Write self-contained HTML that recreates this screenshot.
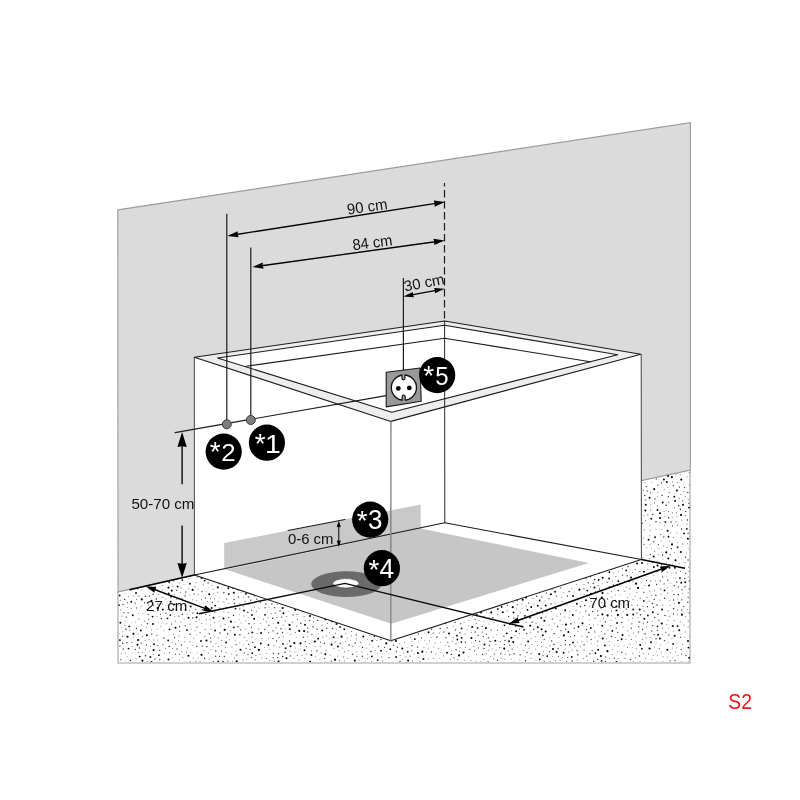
<!DOCTYPE html>
<html lang="en"><head><meta charset="utf-8"><title>S2</title>
<style>html,body{margin:0;padding:0;background:#fff}body{width:800px;height:800px;overflow:hidden}svg{display:block;will-change:transform}</style>
</head><body>
<svg width="800" height="800" viewBox="0 0 800 800" font-family="'Liberation Sans', sans-serif">
<rect width="800" height="800" fill="#fff"/>
<polygon points="118.00,591.90 194.40,575.00 641.40,480.50 690.00,470.00 690.00,663.00 118.00,663.00" fill="#fff" stroke="#a2a2a2" stroke-width="1.1"/>
<clipPath id="fc"><polygon points="118.50,560.00 690.00,440.00 690.00,662.00 118.50,662.00"/></clipPath>
<g clip-path="url(#fc)"><circle cx="424.7" cy="537.2" r="1.00" fill="rgb(0,0,0)"/><circle cx="256.3" cy="573.8" r="1.01" fill="rgb(0,0,0)"/><circle cx="478.8" cy="580.1" r="1.02" fill="rgb(0,0,0)"/><circle cx="676.0" cy="474.2" r="0.51" fill="rgb(90,90,90)"/><circle cx="427.5" cy="577.7" r="0.55" fill="rgb(90,90,90)"/><circle cx="450.8" cy="591.1" r="0.70" fill="rgb(40,40,40)"/><circle cx="441.0" cy="587.2" r="0.69" fill="rgb(60,60,60)"/><circle cx="384.6" cy="647.3" r="0.65" fill="rgb(40,40,40)"/><circle cx="517.8" cy="513.2" r="0.53" fill="rgb(105,105,105)"/><circle cx="535.1" cy="521.8" r="0.49" fill="rgb(105,105,105)"/><circle cx="651.4" cy="548.2" r="0.49" fill="rgb(120,120,120)"/><circle cx="445.9" cy="637.8" r="0.72" fill="rgb(80,80,80)"/><circle cx="402.4" cy="622.3" r="0.92" fill="rgb(10,10,10)"/><circle cx="389.5" cy="596.1" r="1.04" fill="rgb(20,20,20)"/><circle cx="448.7" cy="599.5" r="0.72" fill="rgb(80,80,80)"/><circle cx="317.0" cy="650.7" r="0.71" fill="rgb(60,60,60)"/><circle cx="152.6" cy="616.6" r="0.95" fill="rgb(10,10,10)"/><circle cx="642.0" cy="563.0" r="0.98" fill="rgb(10,10,10)"/><circle cx="623.0" cy="626.7" r="0.51" fill="rgb(105,105,105)"/><circle cx="681.8" cy="599.8" r="0.65" fill="rgb(40,40,40)"/><circle cx="329.7" cy="576.8" r="0.55" fill="rgb(120,120,120)"/><circle cx="661.1" cy="594.3" r="0.53" fill="rgb(120,120,120)"/><circle cx="574.2" cy="542.5" r="0.63" fill="rgb(80,80,80)"/><circle cx="680.8" cy="552.0" r="1.02" fill="rgb(0,0,0)"/><circle cx="133.5" cy="637.6" r="0.49" fill="rgb(105,105,105)"/><circle cx="664.1" cy="583.9" r="0.64" fill="rgb(60,60,60)"/><circle cx="685.6" cy="557.0" r="0.63" fill="rgb(40,40,40)"/><circle cx="546.7" cy="611.1" r="0.72" fill="rgb(80,80,80)"/><circle cx="132.2" cy="652.7" r="0.49" fill="rgb(120,120,120)"/><circle cx="640.5" cy="614.7" r="0.71" fill="rgb(40,40,40)"/><circle cx="559.4" cy="570.1" r="0.51" fill="rgb(90,90,90)"/><circle cx="468.8" cy="620.6" r="0.50" fill="rgb(90,90,90)"/><circle cx="585.9" cy="611.1" r="0.69" fill="rgb(60,60,60)"/><circle cx="536.0" cy="660.3" r="0.53" fill="rgb(90,90,90)"/><circle cx="514.1" cy="653.8" r="0.75" fill="rgb(60,60,60)"/><circle cx="663.8" cy="537.0" r="0.65" fill="rgb(40,40,40)"/><circle cx="311.7" cy="560.3" r="0.54" fill="rgb(90,90,90)"/><circle cx="495.9" cy="644.6" r="0.56" fill="rgb(105,105,105)"/><circle cx="626.2" cy="550.7" r="0.49" fill="rgb(120,120,120)"/><circle cx="344.8" cy="544.2" r="0.55" fill="rgb(90,90,90)"/><circle cx="456.1" cy="556.9" r="0.54" fill="rgb(120,120,120)"/><circle cx="678.3" cy="594.7" r="0.70" fill="rgb(40,40,40)"/><circle cx="131.2" cy="622.8" r="0.49" fill="rgb(120,120,120)"/><circle cx="616.3" cy="628.1" r="0.66" fill="rgb(60,60,60)"/><circle cx="404.9" cy="615.8" r="0.70" fill="rgb(40,40,40)"/><circle cx="153.7" cy="611.1" r="0.55" fill="rgb(120,120,120)"/><circle cx="359.0" cy="646.2" r="0.53" fill="rgb(120,120,120)"/><circle cx="410.3" cy="637.3" r="0.54" fill="rgb(90,90,90)"/><circle cx="532.7" cy="574.8" r="0.69" fill="rgb(80,80,80)"/><circle cx="394.3" cy="618.3" r="0.49" fill="rgb(90,90,90)"/><circle cx="277.0" cy="617.4" r="0.54" fill="rgb(90,90,90)"/><circle cx="371.9" cy="585.9" r="0.53" fill="rgb(120,120,120)"/><circle cx="277.1" cy="565.3" r="0.53" fill="rgb(90,90,90)"/><circle cx="517.9" cy="638.0" r="0.51" fill="rgb(120,120,120)"/><circle cx="628.3" cy="505.0" r="0.68" fill="rgb(60,60,60)"/><circle cx="500.9" cy="619.7" r="0.50" fill="rgb(120,120,120)"/><circle cx="486.1" cy="537.3" r="0.64" fill="rgb(60,60,60)"/><circle cx="244.3" cy="653.0" r="0.69" fill="rgb(80,80,80)"/><circle cx="593.9" cy="496.9" r="0.69" fill="rgb(60,60,60)"/><circle cx="311.8" cy="555.5" r="0.52" fill="rgb(120,120,120)"/><circle cx="475.0" cy="566.1" r="1.10" fill="rgb(0,0,0)"/><circle cx="673.4" cy="485.7" r="0.63" fill="rgb(40,40,40)"/><circle cx="586.2" cy="516.0" r="1.08" fill="rgb(20,20,20)"/><circle cx="278.2" cy="622.8" r="1.08" fill="rgb(10,10,10)"/><circle cx="654.3" cy="590.2" r="0.49" fill="rgb(90,90,90)"/><circle cx="157.0" cy="635.3" r="0.67" fill="rgb(80,80,80)"/><circle cx="523.8" cy="650.2" r="0.51" fill="rgb(90,90,90)"/><circle cx="293.0" cy="614.9" r="0.69" fill="rgb(40,40,40)"/><circle cx="273.3" cy="623.6" r="0.48" fill="rgb(90,90,90)"/><circle cx="537.2" cy="573.8" r="0.99" fill="rgb(10,10,10)"/><circle cx="179.6" cy="626.7" r="0.69" fill="rgb(60,60,60)"/><circle cx="672.6" cy="525.8" r="0.65" fill="rgb(40,40,40)"/><circle cx="593.8" cy="604.5" r="0.52" fill="rgb(105,105,105)"/><circle cx="679.2" cy="630.2" r="1.03" fill="rgb(10,10,10)"/><circle cx="498.5" cy="540.2" r="0.58" fill="rgb(120,120,120)"/><circle cx="667.7" cy="657.0" r="0.50" fill="rgb(105,105,105)"/><circle cx="278.1" cy="594.5" r="0.73" fill="rgb(40,40,40)"/><circle cx="251.8" cy="580.6" r="0.56" fill="rgb(120,120,120)"/><circle cx="628.3" cy="619.8" r="0.56" fill="rgb(120,120,120)"/><circle cx="680.8" cy="494.5" r="0.54" fill="rgb(90,90,90)"/><circle cx="589.6" cy="606.1" r="0.52" fill="rgb(120,120,120)"/><circle cx="417.8" cy="564.6" r="0.56" fill="rgb(120,120,120)"/><circle cx="452.2" cy="641.2" r="0.55" fill="rgb(90,90,90)"/><circle cx="482.5" cy="654.4" r="0.68" fill="rgb(40,40,40)"/><circle cx="477.1" cy="588.6" r="0.53" fill="rgb(90,90,90)"/><circle cx="651.0" cy="642.2" r="1.01" fill="rgb(20,20,20)"/><circle cx="539.3" cy="514.8" r="0.95" fill="rgb(20,20,20)"/><circle cx="550.5" cy="510.5" r="0.53" fill="rgb(105,105,105)"/><circle cx="162.8" cy="644.7" r="0.63" fill="rgb(80,80,80)"/><circle cx="543.0" cy="525.1" r="0.48" fill="rgb(90,90,90)"/><circle cx="396.1" cy="657.0" r="0.94" fill="rgb(10,10,10)"/><circle cx="284.9" cy="567.0" r="0.69" fill="rgb(40,40,40)"/><circle cx="685.7" cy="573.4" r="0.63" fill="rgb(60,60,60)"/><circle cx="586.8" cy="656.1" r="0.66" fill="rgb(40,40,40)"/><circle cx="641.9" cy="648.7" r="0.92" fill="rgb(20,20,20)"/><circle cx="418.0" cy="653.1" r="1.06" fill="rgb(20,20,20)"/><circle cx="327.3" cy="563.3" r="0.52" fill="rgb(90,90,90)"/><circle cx="299.3" cy="630.9" r="1.05" fill="rgb(10,10,10)"/><circle cx="187.5" cy="647.9" r="0.57" fill="rgb(105,105,105)"/><circle cx="341.6" cy="636.7" r="1.09" fill="rgb(10,10,10)"/><circle cx="606.4" cy="520.4" r="1.03" fill="rgb(20,20,20)"/><circle cx="652.8" cy="514.2" r="0.69" fill="rgb(40,40,40)"/><circle cx="560.1" cy="620.0" r="0.62" fill="rgb(80,80,80)"/><circle cx="347.2" cy="637.9" r="0.50" fill="rgb(90,90,90)"/><circle cx="147.2" cy="609.6" r="0.73" fill="rgb(80,80,80)"/><circle cx="615.0" cy="560.9" r="0.54" fill="rgb(90,90,90)"/><circle cx="288.9" cy="610.9" r="0.51" fill="rgb(120,120,120)"/><circle cx="433.0" cy="554.4" r="0.73" fill="rgb(60,60,60)"/><circle cx="266.4" cy="577.4" r="0.55" fill="rgb(105,105,105)"/><circle cx="337.4" cy="612.2" r="0.66" fill="rgb(40,40,40)"/><circle cx="403.2" cy="578.4" r="0.72" fill="rgb(80,80,80)"/><circle cx="478.2" cy="635.3" r="0.66" fill="rgb(40,40,40)"/><circle cx="338.4" cy="592.5" r="0.66" fill="rgb(40,40,40)"/><circle cx="554.7" cy="623.8" r="0.53" fill="rgb(90,90,90)"/><circle cx="342.4" cy="648.0" r="0.57" fill="rgb(105,105,105)"/><circle cx="508.1" cy="650.9" r="0.54" fill="rgb(105,105,105)"/><circle cx="167.5" cy="618.4" r="0.93" fill="rgb(20,20,20)"/><circle cx="643.8" cy="592.4" r="0.64" fill="rgb(60,60,60)"/><circle cx="420.4" cy="551.3" r="0.49" fill="rgb(105,105,105)"/><circle cx="418.2" cy="580.1" r="0.65" fill="rgb(80,80,80)"/><circle cx="687.4" cy="520.0" r="0.74" fill="rgb(40,40,40)"/><circle cx="259.9" cy="654.6" r="0.51" fill="rgb(90,90,90)"/><circle cx="229.7" cy="639.7" r="0.49" fill="rgb(90,90,90)"/><circle cx="499.7" cy="647.6" r="0.62" fill="rgb(60,60,60)"/><circle cx="528.8" cy="536.5" r="0.62" fill="rgb(60,60,60)"/><circle cx="540.7" cy="564.7" r="0.76" fill="rgb(60,60,60)"/><circle cx="555.9" cy="503.3" r="0.66" fill="rgb(60,60,60)"/><circle cx="181.2" cy="588.1" r="0.57" fill="rgb(105,105,105)"/><circle cx="356.9" cy="596.3" r="0.49" fill="rgb(105,105,105)"/><circle cx="459.1" cy="547.0" r="0.50" fill="rgb(105,105,105)"/><circle cx="631.4" cy="639.4" r="0.58" fill="rgb(90,90,90)"/><circle cx="652.9" cy="612.3" r="1.03" fill="rgb(10,10,10)"/><circle cx="597.7" cy="659.4" r="0.64" fill="rgb(40,40,40)"/><circle cx="664.1" cy="489.4" r="0.50" fill="rgb(105,105,105)"/><circle cx="557.6" cy="525.9" r="0.49" fill="rgb(120,120,120)"/><circle cx="389.1" cy="538.6" r="0.50" fill="rgb(105,105,105)"/><circle cx="539.6" cy="558.7" r="0.50" fill="rgb(120,120,120)"/><circle cx="643.9" cy="515.7" r="0.57" fill="rgb(105,105,105)"/><circle cx="544.8" cy="601.1" r="0.51" fill="rgb(120,120,120)"/><circle cx="550.1" cy="645.9" r="0.57" fill="rgb(90,90,90)"/><circle cx="527.2" cy="556.9" r="0.56" fill="rgb(105,105,105)"/><circle cx="650.2" cy="524.9" r="0.50" fill="rgb(90,90,90)"/><circle cx="325.4" cy="619.4" r="0.94" fill="rgb(0,0,0)"/><circle cx="304.8" cy="658.5" r="0.58" fill="rgb(105,105,105)"/><circle cx="359.2" cy="660.1" r="0.50" fill="rgb(90,90,90)"/><circle cx="356.8" cy="587.4" r="0.55" fill="rgb(120,120,120)"/><circle cx="552.3" cy="618.9" r="0.66" fill="rgb(60,60,60)"/><circle cx="331.8" cy="610.7" r="0.95" fill="rgb(0,0,0)"/><circle cx="636.8" cy="502.2" r="0.95" fill="rgb(0,0,0)"/><circle cx="580.2" cy="594.0" r="0.49" fill="rgb(105,105,105)"/><circle cx="622.7" cy="510.6" r="0.67" fill="rgb(60,60,60)"/><circle cx="461.6" cy="628.4" r="0.92" fill="rgb(20,20,20)"/><circle cx="613.1" cy="553.7" r="0.73" fill="rgb(40,40,40)"/><circle cx="179.3" cy="582.7" r="0.50" fill="rgb(105,105,105)"/><circle cx="689.4" cy="472.5" r="0.57" fill="rgb(90,90,90)"/><circle cx="586.1" cy="545.7" r="0.71" fill="rgb(40,40,40)"/><circle cx="235.0" cy="622.0" r="0.49" fill="rgb(90,90,90)"/><circle cx="573.0" cy="596.1" r="1.01" fill="rgb(20,20,20)"/><circle cx="212.4" cy="602.3" r="0.66" fill="rgb(60,60,60)"/><circle cx="544.2" cy="639.4" r="0.62" fill="rgb(60,60,60)"/><circle cx="486.7" cy="542.1" r="0.75" fill="rgb(60,60,60)"/><circle cx="633.4" cy="548.6" r="0.52" fill="rgb(105,105,105)"/><circle cx="484.5" cy="644.6" r="1.02" fill="rgb(10,10,10)"/><circle cx="570.9" cy="623.8" r="0.74" fill="rgb(40,40,40)"/><circle cx="675.5" cy="560.3" r="1.09" fill="rgb(10,10,10)"/><circle cx="168.2" cy="605.6" r="0.57" fill="rgb(120,120,120)"/><circle cx="567.3" cy="508.8" r="0.74" fill="rgb(60,60,60)"/><circle cx="347.1" cy="567.2" r="0.64" fill="rgb(40,40,40)"/><circle cx="672.8" cy="626.0" r="1.08" fill="rgb(20,20,20)"/><circle cx="140.8" cy="630.5" r="1.02" fill="rgb(20,20,20)"/><circle cx="603.4" cy="618.6" r="0.51" fill="rgb(90,90,90)"/><circle cx="361.9" cy="595.1" r="0.68" fill="rgb(40,40,40)"/><circle cx="121.0" cy="659.7" r="0.68" fill="rgb(80,80,80)"/><circle cx="564.0" cy="555.5" r="0.99" fill="rgb(0,0,0)"/><circle cx="327.4" cy="623.4" r="0.55" fill="rgb(90,90,90)"/><circle cx="537.5" cy="618.5" r="0.49" fill="rgb(120,120,120)"/><circle cx="629.5" cy="593.9" r="0.48" fill="rgb(90,90,90)"/><circle cx="687.3" cy="609.5" r="0.50" fill="rgb(105,105,105)"/><circle cx="283.2" cy="625.1" r="0.55" fill="rgb(120,120,120)"/><circle cx="319.2" cy="614.3" r="1.08" fill="rgb(10,10,10)"/><circle cx="635.3" cy="555.1" r="0.76" fill="rgb(60,60,60)"/><circle cx="211.0" cy="649.8" r="0.57" fill="rgb(90,90,90)"/><circle cx="570.9" cy="517.2" r="0.48" fill="rgb(105,105,105)"/><circle cx="670.2" cy="554.4" r="0.55" fill="rgb(90,90,90)"/><circle cx="262.8" cy="570.7" r="0.55" fill="rgb(105,105,105)"/><circle cx="270.0" cy="660.5" r="0.52" fill="rgb(90,90,90)"/><circle cx="483.7" cy="659.3" r="0.55" fill="rgb(105,105,105)"/><circle cx="537.2" cy="612.5" r="0.66" fill="rgb(80,80,80)"/><circle cx="365.6" cy="566.2" r="0.49" fill="rgb(90,90,90)"/><circle cx="292.3" cy="568.3" r="0.52" fill="rgb(105,105,105)"/><circle cx="475.0" cy="558.7" r="1.09" fill="rgb(0,0,0)"/><circle cx="522.6" cy="554.0" r="0.93" fill="rgb(20,20,20)"/><circle cx="565.2" cy="544.3" r="0.62" fill="rgb(80,80,80)"/><circle cx="587.3" cy="641.2" r="0.54" fill="rgb(120,120,120)"/><circle cx="260.8" cy="643.4" r="1.01" fill="rgb(10,10,10)"/><circle cx="639.1" cy="485.7" r="0.55" fill="rgb(90,90,90)"/><circle cx="465.9" cy="565.1" r="0.56" fill="rgb(90,90,90)"/><circle cx="476.1" cy="661.2" r="0.53" fill="rgb(120,120,120)"/><circle cx="122.6" cy="631.7" r="0.53" fill="rgb(120,120,120)"/><circle cx="627.5" cy="647.6" r="0.51" fill="rgb(90,90,90)"/><circle cx="270.7" cy="574.3" r="0.73" fill="rgb(80,80,80)"/><circle cx="215.9" cy="643.6" r="0.50" fill="rgb(90,90,90)"/><circle cx="544.7" cy="529.5" r="0.51" fill="rgb(90,90,90)"/><circle cx="335.5" cy="633.2" r="0.58" fill="rgb(120,120,120)"/><circle cx="386.8" cy="630.8" r="0.57" fill="rgb(105,105,105)"/><circle cx="664.2" cy="511.2" r="0.56" fill="rgb(105,105,105)"/><circle cx="638.6" cy="493.5" r="0.92" fill="rgb(0,0,0)"/><circle cx="514.1" cy="590.1" r="0.55" fill="rgb(90,90,90)"/><circle cx="607.6" cy="615.4" r="1.09" fill="rgb(20,20,20)"/><circle cx="614.1" cy="645.5" r="0.49" fill="rgb(90,90,90)"/><circle cx="660.5" cy="644.9" r="0.49" fill="rgb(120,120,120)"/><circle cx="479.7" cy="559.2" r="1.06" fill="rgb(20,20,20)"/><circle cx="302.0" cy="655.3" r="0.57" fill="rgb(120,120,120)"/><circle cx="544.4" cy="620.8" r="1.00" fill="rgb(0,0,0)"/><circle cx="316.8" cy="604.1" r="0.50" fill="rgb(90,90,90)"/><circle cx="283.5" cy="613.2" r="0.97" fill="rgb(0,0,0)"/><circle cx="317.1" cy="629.2" r="0.75" fill="rgb(60,60,60)"/><circle cx="584.1" cy="650.2" r="0.64" fill="rgb(80,80,80)"/><circle cx="556.5" cy="561.8" r="0.54" fill="rgb(90,90,90)"/><circle cx="477.2" cy="535.2" r="0.68" fill="rgb(80,80,80)"/><circle cx="168.2" cy="640.4" r="0.94" fill="rgb(10,10,10)"/><circle cx="363.2" cy="572.6" r="1.10" fill="rgb(20,20,20)"/><circle cx="422.2" cy="613.9" r="0.54" fill="rgb(105,105,105)"/><circle cx="450.8" cy="568.0" r="0.53" fill="rgb(120,120,120)"/><circle cx="369.3" cy="617.7" r="0.49" fill="rgb(105,105,105)"/><circle cx="485.7" cy="602.5" r="0.51" fill="rgb(120,120,120)"/><circle cx="590.5" cy="586.9" r="0.58" fill="rgb(120,120,120)"/><circle cx="305.3" cy="568.1" r="0.97" fill="rgb(0,0,0)"/><circle cx="266.6" cy="653.5" r="0.50" fill="rgb(120,120,120)"/><circle cx="680.3" cy="621.9" r="0.52" fill="rgb(90,90,90)"/><circle cx="181.3" cy="644.9" r="0.74" fill="rgb(60,60,60)"/><circle cx="570.3" cy="601.9" r="0.54" fill="rgb(105,105,105)"/><circle cx="257.2" cy="633.4" r="0.54" fill="rgb(120,120,120)"/><circle cx="531.0" cy="638.7" r="0.55" fill="rgb(90,90,90)"/><circle cx="506.7" cy="591.6" r="0.66" fill="rgb(80,80,80)"/><circle cx="603.6" cy="560.3" r="1.07" fill="rgb(20,20,20)"/><circle cx="504.2" cy="648.6" r="1.03" fill="rgb(0,0,0)"/><circle cx="340.8" cy="561.7" r="0.48" fill="rgb(120,120,120)"/><circle cx="243.3" cy="606.4" r="0.50" fill="rgb(105,105,105)"/><circle cx="427.7" cy="606.6" r="0.54" fill="rgb(105,105,105)"/><circle cx="416.6" cy="546.0" r="0.50" fill="rgb(120,120,120)"/><circle cx="469.3" cy="590.9" r="0.67" fill="rgb(40,40,40)"/><circle cx="358.9" cy="602.8" r="0.66" fill="rgb(40,40,40)"/><circle cx="663.0" cy="656.8" r="0.58" fill="rgb(105,105,105)"/><circle cx="562.1" cy="624.8" r="0.53" fill="rgb(120,120,120)"/><circle cx="530.2" cy="625.8" r="1.03" fill="rgb(10,10,10)"/><circle cx="594.7" cy="535.0" r="0.51" fill="rgb(105,105,105)"/><circle cx="511.2" cy="659.0" r="0.53" fill="rgb(120,120,120)"/><circle cx="574.8" cy="535.7" r="0.51" fill="rgb(105,105,105)"/><circle cx="363.5" cy="590.8" r="0.52" fill="rgb(105,105,105)"/><circle cx="591.3" cy="643.8" r="0.49" fill="rgb(105,105,105)"/><circle cx="125.5" cy="652.9" r="0.51" fill="rgb(90,90,90)"/><circle cx="449.0" cy="633.6" r="0.99" fill="rgb(0,0,0)"/><circle cx="423.9" cy="585.3" r="0.58" fill="rgb(90,90,90)"/><circle cx="500.4" cy="641.5" r="0.56" fill="rgb(90,90,90)"/><circle cx="163.8" cy="630.7" r="0.49" fill="rgb(90,90,90)"/><circle cx="403.2" cy="571.5" r="0.48" fill="rgb(105,105,105)"/><circle cx="386.0" cy="576.1" r="0.56" fill="rgb(105,105,105)"/><circle cx="324.6" cy="592.6" r="0.91" fill="rgb(20,20,20)"/><circle cx="650.4" cy="530.2" r="0.53" fill="rgb(105,105,105)"/><circle cx="495.0" cy="532.4" r="0.54" fill="rgb(90,90,90)"/><circle cx="680.5" cy="637.3" r="0.65" fill="rgb(60,60,60)"/><circle cx="570.8" cy="530.3" r="0.66" fill="rgb(80,80,80)"/><circle cx="687.5" cy="543.7" r="0.52" fill="rgb(120,120,120)"/><circle cx="644.7" cy="585.2" r="0.56" fill="rgb(120,120,120)"/><circle cx="468.0" cy="586.7" r="0.55" fill="rgb(120,120,120)"/><circle cx="141.5" cy="590.1" r="0.50" fill="rgb(120,120,120)"/><circle cx="560.9" cy="645.4" r="0.52" fill="rgb(90,90,90)"/><circle cx="567.7" cy="576.0" r="0.66" fill="rgb(60,60,60)"/><circle cx="442.1" cy="579.2" r="0.53" fill="rgb(120,120,120)"/><circle cx="581.3" cy="578.6" r="0.52" fill="rgb(90,90,90)"/><circle cx="506.9" cy="582.2" r="0.55" fill="rgb(90,90,90)"/><circle cx="390.2" cy="546.4" r="1.03" fill="rgb(0,0,0)"/><circle cx="630.0" cy="588.7" r="0.62" fill="rgb(80,80,80)"/><circle cx="188.4" cy="655.8" r="1.07" fill="rgb(0,0,0)"/><circle cx="443.6" cy="554.0" r="0.57" fill="rgb(105,105,105)"/><circle cx="560.6" cy="605.9" r="0.55" fill="rgb(90,90,90)"/><circle cx="286.2" cy="575.0" r="0.71" fill="rgb(60,60,60)"/><circle cx="622.9" cy="600.5" r="0.52" fill="rgb(105,105,105)"/><circle cx="610.2" cy="561.0" r="0.97" fill="rgb(20,20,20)"/><circle cx="534.2" cy="557.7" r="1.09" fill="rgb(0,0,0)"/><circle cx="478.2" cy="547.5" r="0.73" fill="rgb(60,60,60)"/><circle cx="674.6" cy="603.8" r="0.51" fill="rgb(120,120,120)"/><circle cx="205.2" cy="629.4" r="0.58" fill="rgb(90,90,90)"/><circle cx="333.9" cy="600.2" r="0.57" fill="rgb(105,105,105)"/><circle cx="453.7" cy="626.1" r="0.48" fill="rgb(90,90,90)"/><circle cx="582.1" cy="636.2" r="0.51" fill="rgb(120,120,120)"/><circle cx="509.6" cy="645.4" r="0.63" fill="rgb(80,80,80)"/><circle cx="395.6" cy="540.4" r="0.55" fill="rgb(90,90,90)"/><circle cx="344.6" cy="604.8" r="0.54" fill="rgb(90,90,90)"/><circle cx="570.6" cy="555.7" r="1.06" fill="rgb(0,0,0)"/><circle cx="416.7" cy="559.1" r="0.50" fill="rgb(90,90,90)"/><circle cx="171.6" cy="624.1" r="0.70" fill="rgb(60,60,60)"/><circle cx="687.9" cy="538.8" r="1.03" fill="rgb(0,0,0)"/><circle cx="208.1" cy="582.9" r="0.69" fill="rgb(40,40,40)"/><circle cx="615.8" cy="576.6" r="0.50" fill="rgb(105,105,105)"/><circle cx="362.0" cy="651.8" r="0.56" fill="rgb(90,90,90)"/><circle cx="437.0" cy="636.9" r="0.75" fill="rgb(40,40,40)"/><circle cx="611.3" cy="591.3" r="0.55" fill="rgb(90,90,90)"/><circle cx="670.0" cy="660.8" r="0.63" fill="rgb(60,60,60)"/><circle cx="411.9" cy="611.0" r="0.53" fill="rgb(90,90,90)"/><circle cx="201.6" cy="614.0" r="0.55" fill="rgb(105,105,105)"/><circle cx="455.5" cy="552.1" r="0.53" fill="rgb(105,105,105)"/><circle cx="139.5" cy="648.1" r="0.75" fill="rgb(60,60,60)"/><circle cx="626.0" cy="492.6" r="0.63" fill="rgb(60,60,60)"/><circle cx="599.5" cy="589.0" r="0.67" fill="rgb(40,40,40)"/><circle cx="391.4" cy="589.0" r="0.94" fill="rgb(0,0,0)"/><circle cx="444.7" cy="523.5" r="0.51" fill="rgb(90,90,90)"/><circle cx="300.5" cy="643.3" r="1.10" fill="rgb(0,0,0)"/><circle cx="479.0" cy="620.5" r="0.54" fill="rgb(105,105,105)"/><circle cx="187.0" cy="614.0" r="0.52" fill="rgb(105,105,105)"/><circle cx="688.4" cy="647.6" r="0.96" fill="rgb(0,0,0)"/><circle cx="286.5" cy="658.2" r="1.06" fill="rgb(10,10,10)"/><circle cx="410.4" cy="552.4" r="0.57" fill="rgb(105,105,105)"/><circle cx="639.3" cy="508.1" r="0.49" fill="rgb(90,90,90)"/><circle cx="219.2" cy="583.6" r="0.57" fill="rgb(120,120,120)"/><circle cx="236.5" cy="585.9" r="0.56" fill="rgb(120,120,120)"/><circle cx="513.9" cy="567.6" r="0.57" fill="rgb(120,120,120)"/><circle cx="581.5" cy="531.2" r="0.57" fill="rgb(105,105,105)"/><circle cx="498.7" cy="514.0" r="0.58" fill="rgb(90,90,90)"/><circle cx="415.6" cy="553.0" r="0.49" fill="rgb(120,120,120)"/><circle cx="258.6" cy="628.9" r="0.56" fill="rgb(105,105,105)"/><circle cx="447.8" cy="642.3" r="0.64" fill="rgb(80,80,80)"/><circle cx="401.3" cy="566.3" r="0.53" fill="rgb(90,90,90)"/><circle cx="296.9" cy="574.6" r="0.48" fill="rgb(120,120,120)"/><circle cx="453.3" cy="615.3" r="0.92" fill="rgb(0,0,0)"/><circle cx="248.5" cy="597.0" r="0.68" fill="rgb(40,40,40)"/><circle cx="653.9" cy="541.7" r="0.74" fill="rgb(80,80,80)"/><circle cx="139.7" cy="656.6" r="0.97" fill="rgb(10,10,10)"/><circle cx="367.5" cy="658.7" r="0.57" fill="rgb(105,105,105)"/><circle cx="414.2" cy="654.1" r="0.50" fill="rgb(105,105,105)"/><circle cx="359.0" cy="543.4" r="0.53" fill="rgb(90,90,90)"/><circle cx="485.0" cy="517.5" r="0.51" fill="rgb(120,120,120)"/><circle cx="153.4" cy="654.3" r="0.57" fill="rgb(90,90,90)"/><circle cx="385.1" cy="570.4" r="0.92" fill="rgb(0,0,0)"/><circle cx="624.0" cy="645.7" r="0.51" fill="rgb(120,120,120)"/><circle cx="598.1" cy="585.4" r="0.55" fill="rgb(90,90,90)"/><circle cx="432.0" cy="537.4" r="0.51" fill="rgb(105,105,105)"/><circle cx="411.4" cy="540.6" r="0.48" fill="rgb(105,105,105)"/><circle cx="273.0" cy="638.4" r="0.63" fill="rgb(40,40,40)"/><circle cx="370.0" cy="610.2" r="0.95" fill="rgb(20,20,20)"/><circle cx="504.3" cy="586.7" r="0.56" fill="rgb(120,120,120)"/><circle cx="173.2" cy="634.0" r="0.58" fill="rgb(105,105,105)"/><circle cx="566.8" cy="604.9" r="0.49" fill="rgb(90,90,90)"/><circle cx="121.5" cy="616.1" r="0.53" fill="rgb(120,120,120)"/><circle cx="278.3" cy="587.7" r="1.07" fill="rgb(20,20,20)"/><circle cx="380.2" cy="607.7" r="0.67" fill="rgb(80,80,80)"/><circle cx="458.7" cy="593.0" r="1.05" fill="rgb(10,10,10)"/><circle cx="425.3" cy="623.5" r="0.67" fill="rgb(40,40,40)"/><circle cx="169.2" cy="646.6" r="0.74" fill="rgb(40,40,40)"/><circle cx="666.0" cy="505.3" r="0.75" fill="rgb(40,40,40)"/><circle cx="630.1" cy="524.2" r="0.51" fill="rgb(120,120,120)"/><circle cx="688.5" cy="567.1" r="0.55" fill="rgb(105,105,105)"/><circle cx="504.8" cy="554.4" r="0.91" fill="rgb(0,0,0)"/><circle cx="347.7" cy="575.8" r="0.57" fill="rgb(105,105,105)"/><circle cx="396.7" cy="551.9" r="0.58" fill="rgb(105,105,105)"/><circle cx="513.5" cy="612.4" r="0.97" fill="rgb(10,10,10)"/><circle cx="629.3" cy="601.2" r="0.58" fill="rgb(105,105,105)"/><circle cx="479.0" cy="568.4" r="0.50" fill="rgb(90,90,90)"/><circle cx="444.1" cy="589.6" r="0.55" fill="rgb(90,90,90)"/><circle cx="568.3" cy="525.6" r="0.48" fill="rgb(105,105,105)"/><circle cx="218.9" cy="616.8" r="0.57" fill="rgb(120,120,120)"/><circle cx="232.3" cy="583.8" r="1.00" fill="rgb(20,20,20)"/><circle cx="126.1" cy="617.1" r="0.72" fill="rgb(60,60,60)"/><circle cx="228.3" cy="588.2" r="0.94" fill="rgb(10,10,10)"/><circle cx="451.4" cy="654.4" r="0.71" fill="rgb(40,40,40)"/><circle cx="122.5" cy="636.1" r="0.68" fill="rgb(60,60,60)"/><circle cx="666.7" cy="562.8" r="0.50" fill="rgb(105,105,105)"/><circle cx="354.9" cy="543.7" r="0.48" fill="rgb(90,90,90)"/><circle cx="622.4" cy="543.2" r="0.67" fill="rgb(60,60,60)"/><circle cx="310.6" cy="593.6" r="0.52" fill="rgb(105,105,105)"/><circle cx="435.0" cy="541.5" r="0.67" fill="rgb(60,60,60)"/><circle cx="138.9" cy="596.1" r="0.64" fill="rgb(80,80,80)"/><circle cx="429.8" cy="620.4" r="0.53" fill="rgb(90,90,90)"/><circle cx="661.5" cy="564.7" r="0.68" fill="rgb(40,40,40)"/><circle cx="656.5" cy="662.0" r="0.52" fill="rgb(105,105,105)"/><circle cx="424.0" cy="544.8" r="0.49" fill="rgb(90,90,90)"/><circle cx="605.0" cy="610.3" r="0.48" fill="rgb(120,120,120)"/><circle cx="220.0" cy="633.0" r="0.71" fill="rgb(40,40,40)"/><circle cx="157.8" cy="645.4" r="0.56" fill="rgb(90,90,90)"/><circle cx="527.9" cy="520.7" r="0.75" fill="rgb(80,80,80)"/><circle cx="622.6" cy="635.0" r="0.96" fill="rgb(0,0,0)"/><circle cx="513.2" cy="642.1" r="1.04" fill="rgb(10,10,10)"/><circle cx="319.9" cy="589.1" r="0.92" fill="rgb(20,20,20)"/><circle cx="537.8" cy="605.7" r="0.91" fill="rgb(0,0,0)"/><circle cx="364.7" cy="614.4" r="1.05" fill="rgb(20,20,20)"/><circle cx="296.4" cy="591.0" r="1.07" fill="rgb(20,20,20)"/><circle cx="647.1" cy="597.3" r="0.57" fill="rgb(90,90,90)"/><circle cx="595.0" cy="618.3" r="0.63" fill="rgb(80,80,80)"/><circle cx="570.5" cy="506.5" r="0.55" fill="rgb(90,90,90)"/><circle cx="357.0" cy="611.9" r="0.54" fill="rgb(90,90,90)"/><circle cx="658.9" cy="548.7" r="0.55" fill="rgb(120,120,120)"/><circle cx="511.7" cy="630.6" r="0.53" fill="rgb(120,120,120)"/><circle cx="517.4" cy="549.6" r="0.57" fill="rgb(90,90,90)"/><circle cx="662.3" cy="627.9" r="0.50" fill="rgb(90,90,90)"/><circle cx="672.1" cy="590.8" r="0.50" fill="rgb(90,90,90)"/><circle cx="171.8" cy="590.6" r="1.04" fill="rgb(10,10,10)"/><circle cx="256.9" cy="566.7" r="0.75" fill="rgb(60,60,60)"/><circle cx="522.8" cy="581.0" r="0.71" fill="rgb(40,40,40)"/><circle cx="431.8" cy="615.1" r="1.03" fill="rgb(20,20,20)"/><circle cx="668.3" cy="496.8" r="0.70" fill="rgb(60,60,60)"/><circle cx="125.2" cy="660.8" r="0.49" fill="rgb(120,120,120)"/><circle cx="308.2" cy="610.9" r="0.71" fill="rgb(60,60,60)"/><circle cx="468.9" cy="609.2" r="0.55" fill="rgb(90,90,90)"/><circle cx="560.8" cy="630.7" r="0.65" fill="rgb(80,80,80)"/><circle cx="418.8" cy="641.8" r="0.49" fill="rgb(120,120,120)"/><circle cx="592.7" cy="611.5" r="0.65" fill="rgb(60,60,60)"/><circle cx="593.3" cy="512.3" r="1.01" fill="rgb(20,20,20)"/><circle cx="644.5" cy="662.4" r="0.63" fill="rgb(40,40,40)"/><circle cx="371.8" cy="656.4" r="0.91" fill="rgb(10,10,10)"/><circle cx="467.4" cy="629.5" r="0.49" fill="rgb(90,90,90)"/><circle cx="496.5" cy="566.6" r="0.67" fill="rgb(60,60,60)"/><circle cx="219.6" cy="608.1" r="0.62" fill="rgb(80,80,80)"/><circle cx="504.2" cy="577.0" r="0.70" fill="rgb(80,80,80)"/><circle cx="381.7" cy="656.7" r="0.57" fill="rgb(105,105,105)"/><circle cx="667.7" cy="587.4" r="0.49" fill="rgb(120,120,120)"/><circle cx="441.3" cy="548.1" r="0.71" fill="rgb(40,40,40)"/><circle cx="226.7" cy="599.0" r="0.63" fill="rgb(80,80,80)"/><circle cx="449.4" cy="574.5" r="0.52" fill="rgb(90,90,90)"/><circle cx="441.2" cy="543.2" r="0.94" fill="rgb(0,0,0)"/><circle cx="610.9" cy="515.0" r="1.01" fill="rgb(10,10,10)"/><circle cx="523.5" cy="509.8" r="0.70" fill="rgb(80,80,80)"/><circle cx="369.8" cy="635.5" r="0.55" fill="rgb(90,90,90)"/><circle cx="476.5" cy="654.6" r="0.53" fill="rgb(120,120,120)"/><circle cx="666.7" cy="576.1" r="0.49" fill="rgb(120,120,120)"/><circle cx="290.1" cy="604.6" r="0.74" fill="rgb(80,80,80)"/><circle cx="683.0" cy="504.8" r="1.05" fill="rgb(10,10,10)"/><circle cx="214.8" cy="612.1" r="0.73" fill="rgb(80,80,80)"/><circle cx="418.3" cy="535.5" r="0.73" fill="rgb(60,60,60)"/><circle cx="373.9" cy="630.5" r="0.49" fill="rgb(90,90,90)"/><circle cx="650.2" cy="637.5" r="0.56" fill="rgb(120,120,120)"/><circle cx="618.4" cy="571.3" r="0.56" fill="rgb(105,105,105)"/><circle cx="617.1" cy="623.0" r="0.94" fill="rgb(20,20,20)"/><circle cx="506.7" cy="542.5" r="0.64" fill="rgb(60,60,60)"/><circle cx="629.0" cy="581.3" r="0.93" fill="rgb(10,10,10)"/><circle cx="533.9" cy="530.4" r="0.75" fill="rgb(60,60,60)"/><circle cx="501.8" cy="518.8" r="0.69" fill="rgb(60,60,60)"/><circle cx="322.6" cy="578.2" r="0.49" fill="rgb(120,120,120)"/><circle cx="558.8" cy="637.2" r="0.54" fill="rgb(120,120,120)"/><circle cx="175.5" cy="621.3" r="0.50" fill="rgb(90,90,90)"/><circle cx="507.7" cy="525.0" r="0.55" fill="rgb(120,120,120)"/><circle cx="605.8" cy="513.4" r="0.55" fill="rgb(105,105,105)"/><circle cx="377.5" cy="552.9" r="0.51" fill="rgb(90,90,90)"/><circle cx="529.7" cy="514.8" r="0.55" fill="rgb(105,105,105)"/><circle cx="646.6" cy="580.5" r="0.67" fill="rgb(60,60,60)"/><circle cx="363.3" cy="636.4" r="1.00" fill="rgb(0,0,0)"/><circle cx="271.9" cy="604.0" r="0.68" fill="rgb(40,40,40)"/><circle cx="160.9" cy="626.2" r="0.55" fill="rgb(90,90,90)"/><circle cx="226.4" cy="571.0" r="0.54" fill="rgb(90,90,90)"/><circle cx="546.5" cy="593.1" r="0.72" fill="rgb(60,60,60)"/><circle cx="682.6" cy="543.9" r="0.57" fill="rgb(90,90,90)"/><circle cx="646.9" cy="576.4" r="0.49" fill="rgb(120,120,120)"/><circle cx="524.1" cy="629.8" r="0.90" fill="rgb(0,0,0)"/><circle cx="454.7" cy="574.6" r="0.54" fill="rgb(105,105,105)"/><circle cx="250.2" cy="587.1" r="0.53" fill="rgb(90,90,90)"/><circle cx="561.7" cy="526.0" r="0.58" fill="rgb(105,105,105)"/><circle cx="438.1" cy="536.3" r="0.51" fill="rgb(105,105,105)"/><circle cx="492.9" cy="617.8" r="0.76" fill="rgb(40,40,40)"/><circle cx="347.7" cy="658.3" r="0.54" fill="rgb(90,90,90)"/><circle cx="655.1" cy="537.2" r="0.94" fill="rgb(20,20,20)"/><circle cx="609.5" cy="507.1" r="0.57" fill="rgb(105,105,105)"/><circle cx="634.4" cy="486.3" r="0.49" fill="rgb(120,120,120)"/><circle cx="640.2" cy="598.1" r="0.65" fill="rgb(60,60,60)"/><circle cx="352.9" cy="646.4" r="0.54" fill="rgb(90,90,90)"/><circle cx="620.7" cy="563.4" r="0.56" fill="rgb(105,105,105)"/><circle cx="611.4" cy="636.6" r="0.73" fill="rgb(60,60,60)"/><circle cx="396.0" cy="640.9" r="1.04" fill="rgb(20,20,20)"/><circle cx="148.7" cy="619.4" r="0.55" fill="rgb(90,90,90)"/><circle cx="563.9" cy="635.4" r="1.07" fill="rgb(10,10,10)"/><circle cx="509.9" cy="623.9" r="1.08" fill="rgb(0,0,0)"/><circle cx="643.0" cy="606.4" r="0.58" fill="rgb(90,90,90)"/><circle cx="195.9" cy="582.5" r="0.55" fill="rgb(120,120,120)"/><circle cx="130.4" cy="660.6" r="0.74" fill="rgb(40,40,40)"/><circle cx="246.7" cy="571.7" r="0.53" fill="rgb(90,90,90)"/><circle cx="421.3" cy="630.7" r="0.49" fill="rgb(90,90,90)"/><circle cx="605.7" cy="656.9" r="0.63" fill="rgb(80,80,80)"/><circle cx="409.2" cy="545.6" r="0.52" fill="rgb(90,90,90)"/><circle cx="427.1" cy="540.6" r="1.05" fill="rgb(10,10,10)"/><circle cx="577.5" cy="642.3" r="0.50" fill="rgb(120,120,120)"/><circle cx="467.5" cy="539.4" r="0.65" fill="rgb(40,40,40)"/><circle cx="168.5" cy="587.6" r="1.04" fill="rgb(10,10,10)"/><circle cx="515.0" cy="529.0" r="0.53" fill="rgb(105,105,105)"/><circle cx="378.9" cy="579.0" r="0.71" fill="rgb(60,60,60)"/><circle cx="410.0" cy="581.9" r="0.50" fill="rgb(120,120,120)"/><circle cx="570.5" cy="636.6" r="0.63" fill="rgb(80,80,80)"/><circle cx="271.0" cy="595.2" r="0.49" fill="rgb(120,120,120)"/><circle cx="555.7" cy="516.8" r="0.57" fill="rgb(105,105,105)"/><circle cx="648.0" cy="569.4" r="0.53" fill="rgb(105,105,105)"/><circle cx="587.9" cy="555.9" r="0.56" fill="rgb(120,120,120)"/><circle cx="336.5" cy="629.3" r="0.49" fill="rgb(90,90,90)"/><circle cx="519.8" cy="539.1" r="0.71" fill="rgb(80,80,80)"/><circle cx="687.8" cy="602.2" r="0.69" fill="rgb(40,40,40)"/><circle cx="507.0" cy="537.4" r="0.50" fill="rgb(105,105,105)"/><circle cx="417.6" cy="623.2" r="0.70" fill="rgb(40,40,40)"/><circle cx="360.4" cy="621.4" r="0.52" fill="rgb(90,90,90)"/><circle cx="142.8" cy="613.7" r="0.52" fill="rgb(120,120,120)"/><circle cx="338.8" cy="579.2" r="0.50" fill="rgb(120,120,120)"/><circle cx="234.9" cy="634.8" r="0.99" fill="rgb(10,10,10)"/><circle cx="633.2" cy="614.4" r="1.02" fill="rgb(10,10,10)"/><circle cx="652.5" cy="603.4" r="0.76" fill="rgb(40,40,40)"/><circle cx="589.5" cy="597.3" r="0.52" fill="rgb(90,90,90)"/><circle cx="602.7" cy="577.7" r="1.00" fill="rgb(0,0,0)"/><circle cx="507.5" cy="605.4" r="0.63" fill="rgb(80,80,80)"/><circle cx="545.7" cy="631.5" r="0.98" fill="rgb(0,0,0)"/><circle cx="616.4" cy="493.7" r="0.69" fill="rgb(40,40,40)"/><circle cx="335.9" cy="551.1" r="0.51" fill="rgb(90,90,90)"/><circle cx="332.3" cy="556.6" r="0.70" fill="rgb(60,60,60)"/><circle cx="497.8" cy="609.0" r="0.91" fill="rgb(20,20,20)"/><circle cx="674.2" cy="585.6" r="0.72" fill="rgb(40,40,40)"/><circle cx="146.9" cy="635.3" r="1.02" fill="rgb(0,0,0)"/><circle cx="127.1" cy="607.4" r="0.50" fill="rgb(90,90,90)"/><circle cx="503.4" cy="598.2" r="0.65" fill="rgb(40,40,40)"/><circle cx="202.2" cy="646.2" r="0.63" fill="rgb(40,40,40)"/><circle cx="371.4" cy="548.8" r="0.57" fill="rgb(90,90,90)"/><circle cx="451.1" cy="527.9" r="0.50" fill="rgb(105,105,105)"/><circle cx="304.1" cy="631.1" r="1.06" fill="rgb(0,0,0)"/><circle cx="534.5" cy="549.9" r="0.49" fill="rgb(105,105,105)"/><circle cx="402.3" cy="648.5" r="1.00" fill="rgb(10,10,10)"/><circle cx="460.0" cy="571.7" r="0.93" fill="rgb(10,10,10)"/><circle cx="557.0" cy="616.0" r="0.54" fill="rgb(105,105,105)"/><circle cx="670.9" cy="533.0" r="0.55" fill="rgb(90,90,90)"/><circle cx="593.7" cy="624.7" r="0.53" fill="rgb(120,120,120)"/><circle cx="215.8" cy="650.9" r="0.74" fill="rgb(60,60,60)"/><circle cx="427.7" cy="529.0" r="0.70" fill="rgb(40,40,40)"/><circle cx="408.1" cy="537.4" r="0.98" fill="rgb(0,0,0)"/><circle cx="682.7" cy="644.3" r="0.53" fill="rgb(90,90,90)"/><circle cx="657.2" cy="561.4" r="0.54" fill="rgb(120,120,120)"/><circle cx="688.4" cy="548.7" r="0.49" fill="rgb(120,120,120)"/><circle cx="458.6" cy="619.8" r="0.49" fill="rgb(90,90,90)"/><circle cx="559.9" cy="499.5" r="0.63" fill="rgb(60,60,60)"/><circle cx="300.1" cy="648.9" r="0.48" fill="rgb(90,90,90)"/><circle cx="214.4" cy="622.5" r="0.50" fill="rgb(90,90,90)"/><circle cx="418.8" cy="530.1" r="1.02" fill="rgb(0,0,0)"/><circle cx="232.6" cy="588.4" r="0.56" fill="rgb(90,90,90)"/><circle cx="490.4" cy="656.7" r="0.56" fill="rgb(105,105,105)"/><circle cx="502.8" cy="612.2" r="1.07" fill="rgb(10,10,10)"/><circle cx="589.8" cy="619.8" r="0.51" fill="rgb(120,120,120)"/><circle cx="422.3" cy="651.7" r="1.09" fill="rgb(10,10,10)"/><circle cx="256.0" cy="581.0" r="0.57" fill="rgb(120,120,120)"/><circle cx="524.3" cy="542.4" r="0.56" fill="rgb(120,120,120)"/><circle cx="560.5" cy="532.6" r="0.75" fill="rgb(40,40,40)"/><circle cx="491.2" cy="630.1" r="0.70" fill="rgb(60,60,60)"/><circle cx="371.2" cy="595.5" r="0.49" fill="rgb(120,120,120)"/><circle cx="476.8" cy="539.2" r="0.52" fill="rgb(105,105,105)"/><circle cx="246.9" cy="640.7" r="0.57" fill="rgb(105,105,105)"/><circle cx="465.1" cy="634.1" r="0.52" fill="rgb(90,90,90)"/><circle cx="658.1" cy="554.7" r="0.51" fill="rgb(105,105,105)"/><circle cx="504.8" cy="659.3" r="0.56" fill="rgb(120,120,120)"/><circle cx="333.9" cy="648.3" r="0.55" fill="rgb(90,90,90)"/><circle cx="412.4" cy="530.4" r="0.66" fill="rgb(60,60,60)"/><circle cx="496.2" cy="589.7" r="0.69" fill="rgb(80,80,80)"/><circle cx="153.1" cy="594.2" r="0.72" fill="rgb(40,40,40)"/><circle cx="151.5" cy="629.8" r="0.54" fill="rgb(105,105,105)"/><circle cx="296.5" cy="566.2" r="1.02" fill="rgb(10,10,10)"/><circle cx="197.2" cy="653.1" r="0.49" fill="rgb(120,120,120)"/><circle cx="688.2" cy="499.3" r="0.58" fill="rgb(120,120,120)"/><circle cx="554.0" cy="522.5" r="0.52" fill="rgb(105,105,105)"/><circle cx="489.1" cy="623.9" r="0.52" fill="rgb(120,120,120)"/><circle cx="324.5" cy="643.2" r="0.74" fill="rgb(60,60,60)"/><circle cx="337.5" cy="655.9" r="0.50" fill="rgb(105,105,105)"/><circle cx="627.5" cy="558.7" r="0.57" fill="rgb(105,105,105)"/><circle cx="668.7" cy="517.7" r="0.75" fill="rgb(60,60,60)"/><circle cx="405.0" cy="545.6" r="1.08" fill="rgb(0,0,0)"/><circle cx="205.8" cy="614.4" r="0.70" fill="rgb(80,80,80)"/><circle cx="344.7" cy="625.1" r="0.49" fill="rgb(105,105,105)"/><circle cx="590.6" cy="576.8" r="0.75" fill="rgb(60,60,60)"/><circle cx="649.6" cy="497.8" r="1.04" fill="rgb(20,20,20)"/><circle cx="513.8" cy="617.9" r="0.75" fill="rgb(80,80,80)"/><circle cx="597.8" cy="544.0" r="0.67" fill="rgb(40,40,40)"/><circle cx="538.7" cy="546.7" r="0.51" fill="rgb(90,90,90)"/><circle cx="354.7" cy="564.1" r="0.55" fill="rgb(120,120,120)"/><circle cx="506.7" cy="633.4" r="0.94" fill="rgb(0,0,0)"/><circle cx="404.6" cy="642.3" r="0.55" fill="rgb(120,120,120)"/><circle cx="488.4" cy="637.8" r="0.75" fill="rgb(80,80,80)"/><circle cx="589.2" cy="518.9" r="0.65" fill="rgb(40,40,40)"/><circle cx="554.9" cy="553.2" r="0.58" fill="rgb(120,120,120)"/><circle cx="435.6" cy="624.4" r="1.07" fill="rgb(0,0,0)"/><circle cx="653.1" cy="655.4" r="0.50" fill="rgb(120,120,120)"/><circle cx="597.9" cy="624.6" r="0.48" fill="rgb(90,90,90)"/><circle cx="478.4" cy="608.0" r="0.52" fill="rgb(120,120,120)"/><circle cx="663.6" cy="545.7" r="0.57" fill="rgb(90,90,90)"/><circle cx="577.8" cy="654.8" r="0.76" fill="rgb(40,40,40)"/><circle cx="485.1" cy="578.6" r="0.76" fill="rgb(80,80,80)"/><circle cx="569.8" cy="611.7" r="0.50" fill="rgb(120,120,120)"/><circle cx="597.1" cy="523.5" r="0.48" fill="rgb(120,120,120)"/><circle cx="531.2" cy="607.0" r="0.94" fill="rgb(0,0,0)"/><circle cx="595.6" cy="591.6" r="0.53" fill="rgb(120,120,120)"/><circle cx="631.9" cy="623.8" r="0.63" fill="rgb(40,40,40)"/><circle cx="608.6" cy="536.8" r="0.53" fill="rgb(90,90,90)"/><circle cx="639.1" cy="621.9" r="0.74" fill="rgb(40,40,40)"/><circle cx="603.9" cy="569.3" r="0.67" fill="rgb(60,60,60)"/><circle cx="637.5" cy="605.2" r="0.58" fill="rgb(105,105,105)"/><circle cx="210.8" cy="641.9" r="0.64" fill="rgb(40,40,40)"/><circle cx="241.1" cy="580.5" r="0.62" fill="rgb(40,40,40)"/><circle cx="626.2" cy="570.4" r="0.96" fill="rgb(20,20,20)"/><circle cx="438.2" cy="556.2" r="0.57" fill="rgb(90,90,90)"/><circle cx="157.5" cy="608.0" r="0.99" fill="rgb(10,10,10)"/><circle cx="683.8" cy="606.5" r="0.74" fill="rgb(80,80,80)"/><circle cx="255.1" cy="659.8" r="0.67" fill="rgb(80,80,80)"/><circle cx="172.5" cy="657.7" r="0.48" fill="rgb(90,90,90)"/><circle cx="348.3" cy="650.8" r="0.56" fill="rgb(90,90,90)"/><circle cx="649.8" cy="591.1" r="0.51" fill="rgb(90,90,90)"/><circle cx="385.9" cy="559.5" r="0.56" fill="rgb(120,120,120)"/><circle cx="136.0" cy="593.0" r="1.01" fill="rgb(20,20,20)"/><circle cx="676.1" cy="572.8" r="0.63" fill="rgb(80,80,80)"/><circle cx="255.3" cy="639.0" r="0.49" fill="rgb(105,105,105)"/><circle cx="203.3" cy="584.7" r="0.56" fill="rgb(90,90,90)"/><circle cx="508.6" cy="616.5" r="0.67" fill="rgb(60,60,60)"/><circle cx="239.3" cy="614.7" r="0.49" fill="rgb(90,90,90)"/><circle cx="136.5" cy="599.4" r="0.52" fill="rgb(90,90,90)"/><circle cx="221.6" cy="651.1" r="0.72" fill="rgb(60,60,60)"/><circle cx="568.4" cy="632.1" r="0.98" fill="rgb(0,0,0)"/><circle cx="492.1" cy="649.0" r="0.56" fill="rgb(105,105,105)"/><circle cx="644.4" cy="529.9" r="0.56" fill="rgb(105,105,105)"/><circle cx="572.3" cy="570.0" r="1.07" fill="rgb(10,10,10)"/><circle cx="149.5" cy="596.0" r="0.75" fill="rgb(80,80,80)"/><circle cx="283.0" cy="643.9" r="0.95" fill="rgb(20,20,20)"/><circle cx="186.5" cy="652.1" r="0.54" fill="rgb(90,90,90)"/><circle cx="548.7" cy="514.1" r="0.62" fill="rgb(80,80,80)"/><circle cx="471.7" cy="594.5" r="0.49" fill="rgb(90,90,90)"/><circle cx="460.1" cy="602.2" r="0.63" fill="rgb(40,40,40)"/><circle cx="531.2" cy="593.0" r="0.57" fill="rgb(105,105,105)"/><circle cx="512.4" cy="552.8" r="0.49" fill="rgb(105,105,105)"/><circle cx="136.5" cy="628.6" r="0.74" fill="rgb(60,60,60)"/><circle cx="635.2" cy="496.2" r="0.54" fill="rgb(120,120,120)"/><circle cx="393.6" cy="630.2" r="0.95" fill="rgb(0,0,0)"/><circle cx="605.4" cy="490.7" r="0.52" fill="rgb(120,120,120)"/><circle cx="539.6" cy="538.1" r="1.03" fill="rgb(0,0,0)"/><circle cx="553.0" cy="649.0" r="1.03" fill="rgb(0,0,0)"/><circle cx="554.1" cy="633.4" r="0.75" fill="rgb(60,60,60)"/><circle cx="497.6" cy="630.1" r="0.62" fill="rgb(60,60,60)"/><circle cx="435.8" cy="562.2" r="0.69" fill="rgb(40,40,40)"/><circle cx="638.1" cy="549.1" r="0.94" fill="rgb(10,10,10)"/><circle cx="325.0" cy="557.6" r="0.54" fill="rgb(90,90,90)"/><circle cx="409.6" cy="560.5" r="0.71" fill="rgb(60,60,60)"/><circle cx="181.8" cy="651.3" r="0.50" fill="rgb(90,90,90)"/><circle cx="386.3" cy="651.8" r="0.49" fill="rgb(105,105,105)"/><circle cx="157.9" cy="603.9" r="0.66" fill="rgb(80,80,80)"/><circle cx="125.2" cy="593.9" r="0.48" fill="rgb(105,105,105)"/><circle cx="488.9" cy="617.5" r="0.49" fill="rgb(105,105,105)"/><circle cx="201.7" cy="623.6" r="0.55" fill="rgb(105,105,105)"/><circle cx="493.5" cy="593.5" r="0.48" fill="rgb(105,105,105)"/><circle cx="228.3" cy="612.8" r="0.57" fill="rgb(105,105,105)"/><circle cx="566.5" cy="518.5" r="0.56" fill="rgb(90,90,90)"/><circle cx="214.6" cy="580.6" r="0.68" fill="rgb(80,80,80)"/><circle cx="496.5" cy="634.8" r="0.51" fill="rgb(120,120,120)"/><circle cx="615.6" cy="547.9" r="0.56" fill="rgb(120,120,120)"/><circle cx="491.8" cy="566.2" r="0.95" fill="rgb(20,20,20)"/><circle cx="421.6" cy="599.2" r="0.69" fill="rgb(80,80,80)"/><circle cx="631.0" cy="577.6" r="1.04" fill="rgb(10,10,10)"/><circle cx="486.1" cy="546.3" r="0.51" fill="rgb(90,90,90)"/><circle cx="306.2" cy="646.6" r="0.67" fill="rgb(80,80,80)"/><circle cx="664.4" cy="640.6" r="0.67" fill="rgb(40,40,40)"/><circle cx="677.1" cy="482.6" r="0.53" fill="rgb(105,105,105)"/><circle cx="251.6" cy="610.1" r="0.71" fill="rgb(60,60,60)"/><circle cx="350.7" cy="548.1" r="1.02" fill="rgb(10,10,10)"/><circle cx="448.2" cy="535.2" r="0.52" fill="rgb(90,90,90)"/><circle cx="581.9" cy="601.8" r="0.56" fill="rgb(105,105,105)"/><circle cx="329.9" cy="655.0" r="0.56" fill="rgb(120,120,120)"/><circle cx="329.6" cy="632.8" r="0.50" fill="rgb(90,90,90)"/><circle cx="618.3" cy="581.2" r="0.90" fill="rgb(20,20,20)"/><circle cx="354.2" cy="575.7" r="1.06" fill="rgb(0,0,0)"/><circle cx="618.1" cy="530.7" r="0.51" fill="rgb(105,105,105)"/><circle cx="516.4" cy="516.9" r="0.55" fill="rgb(105,105,105)"/><circle cx="464.3" cy="660.3" r="0.56" fill="rgb(120,120,120)"/><circle cx="386.2" cy="625.8" r="0.56" fill="rgb(105,105,105)"/><circle cx="228.9" cy="580.0" r="1.03" fill="rgb(0,0,0)"/><circle cx="547.4" cy="564.0" r="0.51" fill="rgb(90,90,90)"/><circle cx="136.6" cy="608.0" r="0.66" fill="rgb(80,80,80)"/><circle cx="681.7" cy="661.5" r="0.49" fill="rgb(90,90,90)"/><circle cx="248.1" cy="617.3" r="0.55" fill="rgb(120,120,120)"/><circle cx="299.0" cy="607.4" r="1.02" fill="rgb(0,0,0)"/><circle cx="615.3" cy="600.4" r="0.66" fill="rgb(40,40,40)"/><circle cx="263.1" cy="597.0" r="0.66" fill="rgb(60,60,60)"/><circle cx="521.3" cy="570.6" r="0.55" fill="rgb(105,105,105)"/><circle cx="379.0" cy="590.7" r="0.63" fill="rgb(80,80,80)"/><circle cx="472.3" cy="524.2" r="1.05" fill="rgb(10,10,10)"/><circle cx="555.4" cy="549.0" r="0.64" fill="rgb(40,40,40)"/><circle cx="380.3" cy="574.0" r="1.09" fill="rgb(20,20,20)"/><circle cx="527.5" cy="609.9" r="0.94" fill="rgb(10,10,10)"/><circle cx="606.5" cy="528.4" r="1.05" fill="rgb(10,10,10)"/><circle cx="508.4" cy="595.2" r="0.90" fill="rgb(0,0,0)"/><circle cx="554.5" cy="584.7" r="0.58" fill="rgb(105,105,105)"/><circle cx="621.7" cy="652.5" r="0.71" fill="rgb(60,60,60)"/><circle cx="248.6" cy="644.5" r="0.71" fill="rgb(80,80,80)"/><circle cx="643.6" cy="623.7" r="0.55" fill="rgb(90,90,90)"/><circle cx="493.2" cy="540.1" r="0.49" fill="rgb(120,120,120)"/><circle cx="525.9" cy="597.4" r="1.08" fill="rgb(0,0,0)"/><circle cx="602.7" cy="638.5" r="1.09" fill="rgb(20,20,20)"/><circle cx="382.5" cy="612.8" r="0.55" fill="rgb(105,105,105)"/><circle cx="573.4" cy="509.8" r="0.91" fill="rgb(20,20,20)"/><circle cx="484.2" cy="526.4" r="0.67" fill="rgb(80,80,80)"/><circle cx="479.7" cy="641.6" r="0.75" fill="rgb(80,80,80)"/><circle cx="597.6" cy="610.9" r="0.75" fill="rgb(80,80,80)"/><circle cx="356.6" cy="638.8" r="0.50" fill="rgb(105,105,105)"/><circle cx="428.6" cy="648.1" r="0.57" fill="rgb(120,120,120)"/><circle cx="528.3" cy="549.7" r="1.00" fill="rgb(20,20,20)"/><circle cx="569.0" cy="535.4" r="0.72" fill="rgb(40,40,40)"/><circle cx="336.1" cy="605.1" r="0.50" fill="rgb(105,105,105)"/><circle cx="620.4" cy="487.3" r="0.49" fill="rgb(90,90,90)"/><circle cx="632.7" cy="653.5" r="0.57" fill="rgb(120,120,120)"/><circle cx="196.7" cy="600.7" r="0.50" fill="rgb(90,90,90)"/><circle cx="313.1" cy="606.5" r="0.50" fill="rgb(105,105,105)"/><circle cx="251.4" cy="627.2" r="0.64" fill="rgb(40,40,40)"/><circle cx="596.0" cy="548.8" r="0.53" fill="rgb(90,90,90)"/><circle cx="158.7" cy="622.3" r="0.49" fill="rgb(105,105,105)"/><circle cx="428.8" cy="545.6" r="0.58" fill="rgb(90,90,90)"/><circle cx="396.4" cy="651.5" r="0.65" fill="rgb(80,80,80)"/><circle cx="176.3" cy="609.9" r="0.72" fill="rgb(60,60,60)"/><circle cx="487.3" cy="556.8" r="0.53" fill="rgb(90,90,90)"/><circle cx="644.0" cy="544.3" r="0.66" fill="rgb(80,80,80)"/><circle cx="491.2" cy="612.4" r="1.04" fill="rgb(20,20,20)"/><circle cx="570.3" cy="581.5" r="0.51" fill="rgb(90,90,90)"/><circle cx="392.6" cy="562.9" r="0.75" fill="rgb(60,60,60)"/><circle cx="304.5" cy="650.2" r="0.95" fill="rgb(20,20,20)"/><circle cx="639.9" cy="571.4" r="0.67" fill="rgb(60,60,60)"/><circle cx="152.9" cy="624.0" r="0.95" fill="rgb(0,0,0)"/><circle cx="673.1" cy="644.0" r="0.93" fill="rgb(20,20,20)"/><circle cx="645.0" cy="482.7" r="0.52" fill="rgb(90,90,90)"/><circle cx="306.0" cy="602.1" r="0.99" fill="rgb(0,0,0)"/><circle cx="324.7" cy="658.3" r="0.67" fill="rgb(60,60,60)"/><circle cx="373.5" cy="560.4" r="1.03" fill="rgb(0,0,0)"/><circle cx="571.8" cy="588.6" r="0.52" fill="rgb(120,120,120)"/><circle cx="621.8" cy="583.6" r="0.68" fill="rgb(40,40,40)"/><circle cx="609.3" cy="645.6" r="0.49" fill="rgb(90,90,90)"/><circle cx="487.6" cy="563.8" r="0.55" fill="rgb(90,90,90)"/><circle cx="600.8" cy="536.5" r="0.50" fill="rgb(105,105,105)"/><circle cx="534.5" cy="545.7" r="0.58" fill="rgb(120,120,120)"/><circle cx="227.9" cy="661.1" r="0.71" fill="rgb(80,80,80)"/><circle cx="587.5" cy="660.6" r="0.51" fill="rgb(120,120,120)"/><circle cx="268.6" cy="585.6" r="1.07" fill="rgb(10,10,10)"/><circle cx="662.1" cy="634.5" r="0.53" fill="rgb(90,90,90)"/><circle cx="651.5" cy="482.2" r="0.49" fill="rgb(105,105,105)"/><circle cx="367.4" cy="639.2" r="0.49" fill="rgb(105,105,105)"/><circle cx="400.7" cy="607.5" r="0.71" fill="rgb(60,60,60)"/><circle cx="300.2" cy="599.9" r="0.58" fill="rgb(90,90,90)"/><circle cx="482.3" cy="539.3" r="0.73" fill="rgb(40,40,40)"/><circle cx="461.7" cy="637.9" r="0.96" fill="rgb(20,20,20)"/><circle cx="649.5" cy="558.5" r="0.51" fill="rgb(90,90,90)"/><circle cx="468.6" cy="656.7" r="0.54" fill="rgb(120,120,120)"/><circle cx="491.3" cy="559.9" r="0.50" fill="rgb(105,105,105)"/><circle cx="624.5" cy="537.6" r="0.58" fill="rgb(90,90,90)"/><circle cx="307.4" cy="579.0" r="1.05" fill="rgb(10,10,10)"/><circle cx="440.2" cy="652.2" r="0.52" fill="rgb(120,120,120)"/><circle cx="231.8" cy="654.1" r="0.50" fill="rgb(90,90,90)"/><circle cx="464.0" cy="524.3" r="0.50" fill="rgb(120,120,120)"/><circle cx="596.4" cy="597.1" r="0.57" fill="rgb(90,90,90)"/><circle cx="362.3" cy="656.3" r="0.70" fill="rgb(40,40,40)"/><circle cx="222.1" cy="578.1" r="0.57" fill="rgb(90,90,90)"/><circle cx="177.0" cy="649.0" r="0.74" fill="rgb(80,80,80)"/><circle cx="664.6" cy="598.2" r="0.76" fill="rgb(40,40,40)"/><circle cx="157.4" cy="628.9" r="0.49" fill="rgb(120,120,120)"/><circle cx="628.1" cy="566.5" r="0.74" fill="rgb(40,40,40)"/><circle cx="663.0" cy="661.2" r="0.54" fill="rgb(120,120,120)"/><circle cx="643.4" cy="538.1" r="0.50" fill="rgb(90,90,90)"/><circle cx="575.9" cy="496.6" r="0.54" fill="rgb(120,120,120)"/><circle cx="402.3" cy="556.5" r="0.55" fill="rgb(90,90,90)"/><circle cx="589.1" cy="512.7" r="1.00" fill="rgb(10,10,10)"/><circle cx="363.9" cy="559.0" r="1.10" fill="rgb(0,0,0)"/><circle cx="377.2" cy="564.3" r="0.54" fill="rgb(90,90,90)"/><circle cx="560.6" cy="613.9" r="0.63" fill="rgb(60,60,60)"/><circle cx="161.3" cy="618.8" r="0.72" fill="rgb(40,40,40)"/><circle cx="602.5" cy="592.9" r="1.03" fill="rgb(0,0,0)"/><circle cx="545.8" cy="502.8" r="0.65" fill="rgb(40,40,40)"/><circle cx="366.2" cy="595.5" r="1.08" fill="rgb(0,0,0)"/><circle cx="519.3" cy="595.7" r="0.98" fill="rgb(20,20,20)"/><circle cx="347.6" cy="600.9" r="0.64" fill="rgb(40,40,40)"/><circle cx="660.1" cy="518.0" r="1.07" fill="rgb(10,10,10)"/><circle cx="616.5" cy="606.5" r="0.98" fill="rgb(20,20,20)"/><circle cx="293.6" cy="581.5" r="0.55" fill="rgb(120,120,120)"/><circle cx="612.5" cy="581.1" r="0.54" fill="rgb(120,120,120)"/><circle cx="235.5" cy="608.6" r="0.97" fill="rgb(20,20,20)"/><circle cx="564.6" cy="567.1" r="0.75" fill="rgb(80,80,80)"/><circle cx="428.5" cy="572.4" r="0.74" fill="rgb(40,40,40)"/><circle cx="586.0" cy="560.3" r="0.50" fill="rgb(105,105,105)"/><circle cx="610.9" cy="605.0" r="0.63" fill="rgb(60,60,60)"/><circle cx="537.4" cy="505.9" r="0.73" fill="rgb(80,80,80)"/><circle cx="431.9" cy="532.5" r="0.68" fill="rgb(80,80,80)"/><circle cx="180.9" cy="622.1" r="0.53" fill="rgb(105,105,105)"/><circle cx="665.4" cy="522.0" r="0.93" fill="rgb(20,20,20)"/><circle cx="279.3" cy="647.0" r="0.51" fill="rgb(90,90,90)"/><circle cx="228.7" cy="617.5" r="0.64" fill="rgb(60,60,60)"/><circle cx="369.8" cy="543.5" r="0.51" fill="rgb(90,90,90)"/><circle cx="565.2" cy="610.2" r="0.96" fill="rgb(0,0,0)"/><circle cx="446.8" cy="528.6" r="0.97" fill="rgb(20,20,20)"/><circle cx="346.9" cy="594.1" r="0.67" fill="rgb(40,40,40)"/><circle cx="272.6" cy="618.2" r="0.76" fill="rgb(40,40,40)"/><circle cx="497.5" cy="556.2" r="0.50" fill="rgb(120,120,120)"/><circle cx="599.5" cy="573.2" r="0.73" fill="rgb(40,40,40)"/><circle cx="677.5" cy="614.8" r="0.57" fill="rgb(90,90,90)"/><circle cx="296.2" cy="637.0" r="0.49" fill="rgb(90,90,90)"/><circle cx="353.1" cy="554.9" r="0.51" fill="rgb(105,105,105)"/><circle cx="679.1" cy="498.4" r="0.53" fill="rgb(105,105,105)"/><circle cx="602.7" cy="583.8" r="0.51" fill="rgb(90,90,90)"/><circle cx="131.9" cy="642.3" r="0.62" fill="rgb(80,80,80)"/><circle cx="231.8" cy="569.9" r="0.66" fill="rgb(40,40,40)"/><circle cx="593.6" cy="539.0" r="0.48" fill="rgb(90,90,90)"/><circle cx="625.3" cy="528.3" r="0.63" fill="rgb(80,80,80)"/><circle cx="217.7" cy="592.4" r="0.51" fill="rgb(120,120,120)"/><circle cx="405.3" cy="603.6" r="0.55" fill="rgb(105,105,105)"/><circle cx="674.4" cy="620.5" r="0.56" fill="rgb(120,120,120)"/><circle cx="442.3" cy="613.7" r="0.68" fill="rgb(40,40,40)"/><circle cx="673.6" cy="608.7" r="0.74" fill="rgb(40,40,40)"/><circle cx="331.6" cy="644.6" r="1.04" fill="rgb(0,0,0)"/><circle cx="635.5" cy="636.8" r="0.52" fill="rgb(105,105,105)"/><circle cx="294.7" cy="652.3" r="0.53" fill="rgb(120,120,120)"/><circle cx="610.8" cy="493.3" r="0.53" fill="rgb(105,105,105)"/><circle cx="592.2" cy="650.4" r="0.66" fill="rgb(80,80,80)"/><circle cx="260.4" cy="602.2" r="0.65" fill="rgb(40,40,40)"/><circle cx="395.5" cy="588.2" r="0.56" fill="rgb(120,120,120)"/><circle cx="317.2" cy="609.5" r="0.52" fill="rgb(120,120,120)"/><circle cx="224.3" cy="656.6" r="0.75" fill="rgb(80,80,80)"/><circle cx="574.6" cy="515.1" r="0.54" fill="rgb(120,120,120)"/><circle cx="440.4" cy="642.1" r="0.50" fill="rgb(120,120,120)"/><circle cx="611.2" cy="620.2" r="0.56" fill="rgb(105,105,105)"/><circle cx="486.6" cy="550.7" r="0.63" fill="rgb(80,80,80)"/><circle cx="390.0" cy="571.1" r="0.69" fill="rgb(40,40,40)"/><circle cx="128.5" cy="648.6" r="0.91" fill="rgb(20,20,20)"/><circle cx="444.2" cy="571.2" r="0.73" fill="rgb(60,60,60)"/><circle cx="655.0" cy="498.9" r="0.63" fill="rgb(40,40,40)"/><circle cx="582.5" cy="623.2" r="1.01" fill="rgb(0,0,0)"/><circle cx="264.9" cy="629.5" r="0.65" fill="rgb(40,40,40)"/><circle cx="290.2" cy="556.1" r="0.73" fill="rgb(80,80,80)"/><circle cx="546.7" cy="554.3" r="0.62" fill="rgb(40,40,40)"/><circle cx="550.8" cy="546.3" r="0.52" fill="rgb(105,105,105)"/><circle cx="580.0" cy="612.7" r="0.54" fill="rgb(120,120,120)"/><circle cx="593.0" cy="559.0" r="0.98" fill="rgb(10,10,10)"/><circle cx="633.8" cy="661.5" r="0.49" fill="rgb(120,120,120)"/><circle cx="329.5" cy="638.8" r="0.48" fill="rgb(120,120,120)"/><circle cx="228.9" cy="626.4" r="0.52" fill="rgb(120,120,120)"/><circle cx="485.6" cy="594.6" r="0.48" fill="rgb(105,105,105)"/><circle cx="529.9" cy="567.6" r="0.63" fill="rgb(40,40,40)"/><circle cx="430.4" cy="624.5" r="1.05" fill="rgb(0,0,0)"/><circle cx="687.0" cy="524.0" r="0.57" fill="rgb(120,120,120)"/><circle cx="290.2" cy="655.9" r="0.68" fill="rgb(40,40,40)"/><circle cx="393.0" cy="605.6" r="0.69" fill="rgb(80,80,80)"/><circle cx="617.6" cy="505.1" r="0.73" fill="rgb(60,60,60)"/><circle cx="325.2" cy="584.1" r="0.93" fill="rgb(10,10,10)"/><circle cx="631.0" cy="512.0" r="0.52" fill="rgb(90,90,90)"/><circle cx="569.6" cy="644.8" r="0.73" fill="rgb(40,40,40)"/><circle cx="646.2" cy="486.6" r="0.72" fill="rgb(40,40,40)"/><circle cx="581.5" cy="536.9" r="0.49" fill="rgb(90,90,90)"/><circle cx="197.1" cy="627.1" r="0.66" fill="rgb(40,40,40)"/><circle cx="297.4" cy="655.4" r="0.58" fill="rgb(120,120,120)"/><circle cx="514.7" cy="581.0" r="0.51" fill="rgb(105,105,105)"/><circle cx="284.1" cy="578.4" r="0.99" fill="rgb(10,10,10)"/><circle cx="576.1" cy="562.9" r="0.64" fill="rgb(80,80,80)"/><circle cx="458.5" cy="583.1" r="0.68" fill="rgb(60,60,60)"/><circle cx="688.1" cy="592.9" r="0.54" fill="rgb(90,90,90)"/><circle cx="265.8" cy="603.9" r="0.72" fill="rgb(40,40,40)"/><circle cx="490.2" cy="524.3" r="0.50" fill="rgb(120,120,120)"/><circle cx="489.5" cy="600.7" r="0.94" fill="rgb(10,10,10)"/><circle cx="342.1" cy="548.9" r="0.72" fill="rgb(80,80,80)"/><circle cx="675.9" cy="521.4" r="0.52" fill="rgb(105,105,105)"/><circle cx="226.2" cy="652.4" r="0.56" fill="rgb(120,120,120)"/><circle cx="256.3" cy="611.6" r="0.57" fill="rgb(105,105,105)"/><circle cx="620.6" cy="517.8" r="0.53" fill="rgb(105,105,105)"/><circle cx="626.9" cy="501.3" r="0.50" fill="rgb(90,90,90)"/><circle cx="207.8" cy="577.1" r="0.67" fill="rgb(40,40,40)"/><circle cx="433.3" cy="658.3" r="0.58" fill="rgb(105,105,105)"/><circle cx="367.5" cy="540.0" r="1.07" fill="rgb(10,10,10)"/><circle cx="658.4" cy="544.6" r="0.70" fill="rgb(60,60,60)"/><circle cx="282.6" cy="656.5" r="0.76" fill="rgb(40,40,40)"/><circle cx="567.4" cy="596.0" r="0.68" fill="rgb(40,40,40)"/><circle cx="309.1" cy="604.4" r="0.54" fill="rgb(120,120,120)"/><circle cx="643.8" cy="600.9" r="0.92" fill="rgb(20,20,20)"/><circle cx="509.0" cy="641.2" r="0.93" fill="rgb(10,10,10)"/><circle cx="623.2" cy="611.7" r="0.49" fill="rgb(90,90,90)"/><circle cx="292.9" cy="562.0" r="0.71" fill="rgb(80,80,80)"/><circle cx="568.5" cy="550.1" r="0.76" fill="rgb(40,40,40)"/><circle cx="360.3" cy="630.1" r="0.58" fill="rgb(90,90,90)"/><circle cx="453.2" cy="579.6" r="0.98" fill="rgb(10,10,10)"/><circle cx="352.5" cy="654.3" r="0.69" fill="rgb(40,40,40)"/><circle cx="399.7" cy="544.8" r="1.05" fill="rgb(20,20,20)"/><circle cx="681.9" cy="614.7" r="1.08" fill="rgb(20,20,20)"/><circle cx="459.1" cy="596.9" r="0.99" fill="rgb(0,0,0)"/><circle cx="319.5" cy="557.5" r="1.03" fill="rgb(20,20,20)"/><circle cx="470.7" cy="530.5" r="0.57" fill="rgb(120,120,120)"/><circle cx="202.4" cy="609.8" r="0.75" fill="rgb(40,40,40)"/><circle cx="248.2" cy="604.1" r="0.54" fill="rgb(105,105,105)"/><circle cx="578.5" cy="626.7" r="0.99" fill="rgb(10,10,10)"/><circle cx="662.0" cy="495.3" r="0.74" fill="rgb(60,60,60)"/><circle cx="273.4" cy="562.3" r="0.50" fill="rgb(90,90,90)"/><circle cx="518.8" cy="579.6" r="1.06" fill="rgb(20,20,20)"/><circle cx="294.3" cy="643.1" r="1.08" fill="rgb(10,10,10)"/><circle cx="174.7" cy="616.3" r="0.54" fill="rgb(105,105,105)"/><circle cx="676.9" cy="490.5" r="1.04" fill="rgb(10,10,10)"/><circle cx="196.2" cy="634.7" r="0.50" fill="rgb(120,120,120)"/><circle cx="541.6" cy="646.6" r="0.56" fill="rgb(120,120,120)"/><circle cx="318.1" cy="638.7" r="0.91" fill="rgb(0,0,0)"/><circle cx="171.1" cy="596.8" r="0.95" fill="rgb(20,20,20)"/><circle cx="149.1" cy="651.2" r="0.49" fill="rgb(105,105,105)"/><circle cx="280.0" cy="610.9" r="0.67" fill="rgb(60,60,60)"/><circle cx="226.0" cy="637.8" r="0.51" fill="rgb(120,120,120)"/><circle cx="375.5" cy="576.9" r="0.51" fill="rgb(105,105,105)"/><circle cx="518.9" cy="591.5" r="0.50" fill="rgb(90,90,90)"/><circle cx="597.9" cy="641.1" r="0.64" fill="rgb(80,80,80)"/><circle cx="283.2" cy="636.9" r="0.54" fill="rgb(120,120,120)"/><circle cx="669.2" cy="492.4" r="0.54" fill="rgb(90,90,90)"/><circle cx="354.8" cy="660.6" r="1.07" fill="rgb(10,10,10)"/><circle cx="332.5" cy="628.6" r="0.73" fill="rgb(60,60,60)"/><circle cx="517.2" cy="599.7" r="1.03" fill="rgb(0,0,0)"/><circle cx="331.0" cy="595.7" r="0.53" fill="rgb(105,105,105)"/><circle cx="451.7" cy="553.3" r="0.52" fill="rgb(105,105,105)"/><circle cx="255.8" cy="588.7" r="0.58" fill="rgb(105,105,105)"/><circle cx="565.4" cy="640.5" r="0.73" fill="rgb(60,60,60)"/><circle cx="162.8" cy="609.5" r="0.94" fill="rgb(0,0,0)"/><circle cx="586.8" cy="524.6" r="1.01" fill="rgb(20,20,20)"/><circle cx="610.3" cy="544.6" r="0.52" fill="rgb(90,90,90)"/><circle cx="209.9" cy="615.5" r="0.57" fill="rgb(90,90,90)"/><circle cx="343.0" cy="575.9" r="1.09" fill="rgb(20,20,20)"/><circle cx="580.6" cy="574.5" r="0.71" fill="rgb(60,60,60)"/><circle cx="529.1" cy="524.5" r="0.72" fill="rgb(60,60,60)"/><circle cx="237.9" cy="590.1" r="0.53" fill="rgb(105,105,105)"/><circle cx="335.0" cy="659.7" r="1.08" fill="rgb(0,0,0)"/><circle cx="455.1" cy="601.7" r="0.54" fill="rgb(105,105,105)"/><circle cx="559.0" cy="508.1" r="0.62" fill="rgb(60,60,60)"/><circle cx="285.7" cy="600.9" r="1.05" fill="rgb(20,20,20)"/><circle cx="475.1" cy="632.0" r="0.69" fill="rgb(40,40,40)"/><circle cx="535.2" cy="579.0" r="1.05" fill="rgb(0,0,0)"/><circle cx="332.1" cy="581.3" r="0.51" fill="rgb(120,120,120)"/><circle cx="354.9" cy="591.8" r="0.74" fill="rgb(80,80,80)"/><circle cx="315.0" cy="595.0" r="0.55" fill="rgb(90,90,90)"/><circle cx="126.7" cy="642.6" r="0.65" fill="rgb(40,40,40)"/><circle cx="482.9" cy="532.6" r="0.52" fill="rgb(90,90,90)"/><circle cx="315.0" cy="646.2" r="0.54" fill="rgb(105,105,105)"/><circle cx="512.5" cy="511.5" r="0.65" fill="rgb(40,40,40)"/><circle cx="319.0" cy="563.4" r="0.50" fill="rgb(120,120,120)"/><circle cx="250.6" cy="567.2" r="0.63" fill="rgb(60,60,60)"/><circle cx="555.4" cy="557.8" r="0.51" fill="rgb(105,105,105)"/><circle cx="405.7" cy="656.7" r="0.53" fill="rgb(120,120,120)"/><circle cx="227.6" cy="575.3" r="0.52" fill="rgb(90,90,90)"/><circle cx="353.2" cy="613.2" r="1.09" fill="rgb(10,10,10)"/><circle cx="578.6" cy="556.4" r="0.67" fill="rgb(80,80,80)"/><circle cx="592.9" cy="502.0" r="0.94" fill="rgb(10,10,10)"/><circle cx="505.4" cy="548.9" r="0.57" fill="rgb(120,120,120)"/><circle cx="534.1" cy="584.6" r="1.08" fill="rgb(10,10,10)"/><circle cx="655.9" cy="595.4" r="0.75" fill="rgb(60,60,60)"/><circle cx="151.5" cy="662.0" r="1.09" fill="rgb(20,20,20)"/><circle cx="196.6" cy="617.2" r="1.06" fill="rgb(10,10,10)"/><circle cx="410.8" cy="566.2" r="0.50" fill="rgb(90,90,90)"/><circle cx="391.4" cy="636.6" r="0.57" fill="rgb(90,90,90)"/><circle cx="435.5" cy="582.5" r="0.50" fill="rgb(105,105,105)"/><circle cx="309.6" cy="643.6" r="0.52" fill="rgb(90,90,90)"/><circle cx="531.9" cy="612.1" r="0.56" fill="rgb(120,120,120)"/><circle cx="448.5" cy="548.1" r="0.97" fill="rgb(20,20,20)"/><circle cx="359.4" cy="550.3" r="0.52" fill="rgb(105,105,105)"/><circle cx="288.7" cy="585.2" r="0.67" fill="rgb(40,40,40)"/><circle cx="344.5" cy="553.6" r="0.52" fill="rgb(90,90,90)"/><circle cx="148.3" cy="605.1" r="0.55" fill="rgb(90,90,90)"/><circle cx="500.8" cy="553.5" r="0.57" fill="rgb(105,105,105)"/><circle cx="225.2" cy="624.5" r="0.52" fill="rgb(105,105,105)"/><circle cx="457.7" cy="659.5" r="0.53" fill="rgb(90,90,90)"/><circle cx="671.3" cy="548.8" r="0.72" fill="rgb(60,60,60)"/><circle cx="454.8" cy="548.1" r="0.75" fill="rgb(80,80,80)"/><circle cx="689.2" cy="581.0" r="0.65" fill="rgb(60,60,60)"/><circle cx="601.1" cy="608.7" r="0.58" fill="rgb(120,120,120)"/><circle cx="662.0" cy="529.6" r="0.49" fill="rgb(105,105,105)"/><circle cx="404.4" cy="631.4" r="0.67" fill="rgb(40,40,40)"/><circle cx="471.8" cy="642.8" r="0.51" fill="rgb(120,120,120)"/><circle cx="466.0" cy="581.0" r="0.74" fill="rgb(80,80,80)"/><circle cx="262.0" cy="658.0" r="0.55" fill="rgb(105,105,105)"/><circle cx="192.3" cy="645.3" r="0.56" fill="rgb(120,120,120)"/><circle cx="507.8" cy="572.3" r="1.04" fill="rgb(10,10,10)"/><circle cx="288.3" cy="563.6" r="0.58" fill="rgb(105,105,105)"/><circle cx="544.1" cy="576.7" r="0.54" fill="rgb(90,90,90)"/><circle cx="548.8" cy="532.4" r="1.10" fill="rgb(10,10,10)"/><circle cx="345.8" cy="618.9" r="0.54" fill="rgb(120,120,120)"/><circle cx="168.5" cy="659.4" r="1.02" fill="rgb(10,10,10)"/><circle cx="446.7" cy="594.2" r="0.66" fill="rgb(80,80,80)"/><circle cx="212.9" cy="589.3" r="0.53" fill="rgb(90,90,90)"/><circle cx="358.3" cy="579.5" r="0.97" fill="rgb(0,0,0)"/><circle cx="286.9" cy="633.0" r="0.49" fill="rgb(120,120,120)"/><circle cx="489.1" cy="572.1" r="0.64" fill="rgb(60,60,60)"/><circle cx="433.6" cy="574.0" r="0.73" fill="rgb(40,40,40)"/><circle cx="435.1" cy="588.9" r="0.54" fill="rgb(120,120,120)"/><circle cx="174.6" cy="637.7" r="0.68" fill="rgb(80,80,80)"/><circle cx="646.1" cy="555.2" r="0.48" fill="rgb(105,105,105)"/><circle cx="320.5" cy="601.9" r="0.74" fill="rgb(80,80,80)"/><circle cx="575.9" cy="525.2" r="0.94" fill="rgb(10,10,10)"/><circle cx="141.4" cy="624.9" r="0.54" fill="rgb(120,120,120)"/><circle cx="222.0" cy="645.3" r="0.49" fill="rgb(90,90,90)"/><circle cx="502.7" cy="591.5" r="0.55" fill="rgb(90,90,90)"/><circle cx="254.2" cy="618.8" r="1.01" fill="rgb(0,0,0)"/><circle cx="346.0" cy="559.5" r="0.75" fill="rgb(40,40,40)"/><circle cx="536.5" cy="561.1" r="0.52" fill="rgb(90,90,90)"/><circle cx="440.0" cy="623.9" r="0.58" fill="rgb(90,90,90)"/><circle cx="525.1" cy="656.5" r="0.54" fill="rgb(120,120,120)"/><circle cx="462.9" cy="533.5" r="0.58" fill="rgb(120,120,120)"/><circle cx="525.3" cy="572.0" r="0.55" fill="rgb(90,90,90)"/><circle cx="459.8" cy="524.2" r="0.55" fill="rgb(120,120,120)"/><circle cx="303.1" cy="590.6" r="0.48" fill="rgb(120,120,120)"/><circle cx="539.8" cy="659.4" r="0.90" fill="rgb(10,10,10)"/><circle cx="641.0" cy="541.5" r="0.57" fill="rgb(105,105,105)"/><circle cx="436.1" cy="605.1" r="0.70" fill="rgb(40,40,40)"/><circle cx="433.8" cy="569.4" r="0.70" fill="rgb(60,60,60)"/><circle cx="163.5" cy="662.0" r="0.53" fill="rgb(90,90,90)"/><circle cx="672.3" cy="647.9" r="0.51" fill="rgb(120,120,120)"/><circle cx="313.0" cy="626.8" r="0.73" fill="rgb(60,60,60)"/><circle cx="603.2" cy="504.3" r="0.48" fill="rgb(120,120,120)"/><circle cx="574.3" cy="628.2" r="0.68" fill="rgb(80,80,80)"/><circle cx="508.2" cy="627.7" r="0.49" fill="rgb(105,105,105)"/><circle cx="622.0" cy="499.4" r="1.05" fill="rgb(20,20,20)"/><circle cx="601.8" cy="528.2" r="0.95" fill="rgb(0,0,0)"/><circle cx="681.6" cy="529.0" r="0.69" fill="rgb(40,40,40)"/><circle cx="374.6" cy="570.7" r="0.49" fill="rgb(120,120,120)"/><circle cx="468.1" cy="614.7" r="0.69" fill="rgb(80,80,80)"/><circle cx="461.3" cy="642.1" r="0.97" fill="rgb(20,20,20)"/><circle cx="654.6" cy="551.2" r="0.57" fill="rgb(90,90,90)"/><circle cx="620.7" cy="557.5" r="0.70" fill="rgb(80,80,80)"/><circle cx="419.1" cy="589.9" r="0.74" fill="rgb(60,60,60)"/><circle cx="650.7" cy="504.8" r="0.57" fill="rgb(105,105,105)"/><circle cx="322.2" cy="630.5" r="1.03" fill="rgb(20,20,20)"/><circle cx="677.0" cy="643.2" r="0.48" fill="rgb(105,105,105)"/><circle cx="510.5" cy="584.9" r="0.53" fill="rgb(120,120,120)"/><circle cx="450.5" cy="659.8" r="0.57" fill="rgb(90,90,90)"/><circle cx="165.8" cy="613.2" r="0.67" fill="rgb(60,60,60)"/><circle cx="678.6" cy="505.7" r="0.75" fill="rgb(40,40,40)"/><circle cx="295.4" cy="632.4" r="0.54" fill="rgb(105,105,105)"/><circle cx="427.9" cy="561.0" r="0.49" fill="rgb(120,120,120)"/><circle cx="269.7" cy="565.5" r="0.96" fill="rgb(20,20,20)"/><circle cx="635.1" cy="596.2" r="0.56" fill="rgb(120,120,120)"/><circle cx="129.9" cy="630.3" r="0.53" fill="rgb(90,90,90)"/><circle cx="377.7" cy="660.1" r="0.94" fill="rgb(20,20,20)"/><circle cx="472.9" cy="539.6" r="0.90" fill="rgb(20,20,20)"/><circle cx="586.3" cy="629.4" r="0.75" fill="rgb(60,60,60)"/><circle cx="685.0" cy="562.4" r="0.50" fill="rgb(90,90,90)"/><circle cx="559.9" cy="512.4" r="0.53" fill="rgb(105,105,105)"/><circle cx="386.8" cy="610.2" r="1.06" fill="rgb(10,10,10)"/><circle cx="522.2" cy="608.1" r="0.58" fill="rgb(120,120,120)"/><circle cx="369.6" cy="578.6" r="0.54" fill="rgb(120,120,120)"/><circle cx="512.7" cy="607.2" r="1.10" fill="rgb(20,20,20)"/><circle cx="332.2" cy="591.9" r="0.75" fill="rgb(60,60,60)"/><circle cx="431.4" cy="652.0" r="0.74" fill="rgb(60,60,60)"/><circle cx="163.8" cy="638.1" r="0.74" fill="rgb(60,60,60)"/><circle cx="191.1" cy="628.9" r="0.50" fill="rgb(105,105,105)"/><circle cx="393.0" cy="557.5" r="0.95" fill="rgb(20,20,20)"/><circle cx="654.7" cy="647.1" r="0.49" fill="rgb(105,105,105)"/><circle cx="674.5" cy="507.8" r="0.50" fill="rgb(105,105,105)"/><circle cx="567.2" cy="501.7" r="0.76" fill="rgb(40,40,40)"/><circle cx="669.5" cy="567.8" r="1.04" fill="rgb(20,20,20)"/><circle cx="476.3" cy="623.5" r="0.58" fill="rgb(90,90,90)"/><circle cx="246.0" cy="593.9" r="0.92" fill="rgb(10,10,10)"/><circle cx="137.5" cy="644.7" r="0.99" fill="rgb(0,0,0)"/><circle cx="329.2" cy="550.8" r="0.58" fill="rgb(120,120,120)"/><circle cx="598.6" cy="580.0" r="0.93" fill="rgb(20,20,20)"/><circle cx="267.9" cy="570.4" r="0.74" fill="rgb(80,80,80)"/><circle cx="613.6" cy="541.0" r="0.50" fill="rgb(105,105,105)"/><circle cx="607.5" cy="599.0" r="0.68" fill="rgb(80,80,80)"/><circle cx="381.5" cy="620.2" r="1.00" fill="rgb(0,0,0)"/><circle cx="291.6" cy="592.6" r="0.69" fill="rgb(80,80,80)"/><circle cx="642.9" cy="557.6" r="0.51" fill="rgb(105,105,105)"/><circle cx="666.8" cy="482.1" r="1.01" fill="rgb(10,10,10)"/><circle cx="647.9" cy="615.5" r="0.91" fill="rgb(20,20,20)"/><circle cx="337.5" cy="567.7" r="0.93" fill="rgb(10,10,10)"/><circle cx="471.4" cy="638.0" r="1.02" fill="rgb(0,0,0)"/><circle cx="631.9" cy="605.3" r="0.56" fill="rgb(90,90,90)"/><circle cx="680.4" cy="571.4" r="0.53" fill="rgb(105,105,105)"/><circle cx="245.7" cy="576.3" r="0.51" fill="rgb(120,120,120)"/><circle cx="395.1" cy="594.9" r="0.95" fill="rgb(0,0,0)"/><circle cx="396.4" cy="636.6" r="0.48" fill="rgb(120,120,120)"/><circle cx="576.0" cy="506.1" r="0.49" fill="rgb(105,105,105)"/><circle cx="410.6" cy="605.1" r="0.67" fill="rgb(80,80,80)"/><circle cx="493.2" cy="598.4" r="0.66" fill="rgb(80,80,80)"/><circle cx="209.3" cy="633.8" r="0.73" fill="rgb(80,80,80)"/><circle cx="209.3" cy="659.3" r="0.51" fill="rgb(120,120,120)"/><circle cx="594.8" cy="631.9" r="0.62" fill="rgb(60,60,60)"/><circle cx="398.5" cy="572.6" r="0.49" fill="rgb(105,105,105)"/><circle cx="475.2" cy="602.8" r="0.70" fill="rgb(40,40,40)"/><circle cx="665.0" cy="615.5" r="0.66" fill="rgb(40,40,40)"/><circle cx="529.8" cy="583.6" r="0.72" fill="rgb(80,80,80)"/><circle cx="361.6" cy="585.1" r="0.57" fill="rgb(120,120,120)"/><circle cx="563.2" cy="592.8" r="0.49" fill="rgb(90,90,90)"/><circle cx="226.5" cy="607.2" r="0.58" fill="rgb(90,90,90)"/><circle cx="552.4" cy="656.2" r="0.56" fill="rgb(105,105,105)"/><circle cx="589.3" cy="624.2" r="0.55" fill="rgb(90,90,90)"/><circle cx="393.6" cy="611.6" r="1.00" fill="rgb(20,20,20)"/><circle cx="423.0" cy="589.5" r="0.68" fill="rgb(80,80,80)"/><circle cx="574.6" cy="550.3" r="1.09" fill="rgb(0,0,0)"/><circle cx="606.6" cy="564.2" r="0.99" fill="rgb(20,20,20)"/><circle cx="662.7" cy="502.6" r="1.01" fill="rgb(10,10,10)"/><circle cx="630.0" cy="562.1" r="0.51" fill="rgb(90,90,90)"/><circle cx="201.4" cy="599.7" r="0.51" fill="rgb(90,90,90)"/><circle cx="465.8" cy="594.6" r="0.63" fill="rgb(60,60,60)"/><circle cx="390.3" cy="649.2" r="0.91" fill="rgb(10,10,10)"/><circle cx="617.7" cy="651.5" r="0.48" fill="rgb(90,90,90)"/><circle cx="591.0" cy="593.7" r="0.91" fill="rgb(20,20,20)"/><circle cx="323.6" cy="566.5" r="0.76" fill="rgb(80,80,80)"/><circle cx="436.8" cy="548.0" r="0.48" fill="rgb(120,120,120)"/><circle cx="651.7" cy="631.0" r="0.70" fill="rgb(80,80,80)"/><circle cx="499.7" cy="571.6" r="1.07" fill="rgb(20,20,20)"/><circle cx="407.2" cy="541.7" r="0.50" fill="rgb(120,120,120)"/><circle cx="352.7" cy="620.9" r="0.58" fill="rgb(90,90,90)"/><circle cx="218.1" cy="601.2" r="0.55" fill="rgb(120,120,120)"/><circle cx="345.6" cy="641.5" r="0.56" fill="rgb(120,120,120)"/><circle cx="473.9" cy="580.3" r="0.51" fill="rgb(105,105,105)"/><circle cx="549.0" cy="598.8" r="0.70" fill="rgb(80,80,80)"/><circle cx="324.4" cy="609.8" r="0.98" fill="rgb(0,0,0)"/><circle cx="353.9" cy="601.2" r="1.04" fill="rgb(20,20,20)"/><circle cx="553.2" cy="572.2" r="0.63" fill="rgb(40,40,40)"/><circle cx="591.9" cy="563.3" r="0.98" fill="rgb(10,10,10)"/><circle cx="317.8" cy="620.4" r="0.64" fill="rgb(40,40,40)"/><circle cx="460.7" cy="623.8" r="0.70" fill="rgb(80,80,80)"/><circle cx="555.1" cy="565.9" r="0.48" fill="rgb(120,120,120)"/><circle cx="215.1" cy="630.5" r="0.96" fill="rgb(20,20,20)"/><circle cx="681.1" cy="537.4" r="0.48" fill="rgb(90,90,90)"/><circle cx="400.2" cy="655.5" r="0.50" fill="rgb(90,90,90)"/><circle cx="304.1" cy="616.5" r="0.56" fill="rgb(90,90,90)"/><circle cx="319.9" cy="659.5" r="0.57" fill="rgb(120,120,120)"/><circle cx="479.5" cy="572.7" r="0.51" fill="rgb(105,105,105)"/><circle cx="412.5" cy="575.2" r="0.58" fill="rgb(90,90,90)"/><circle cx="267.1" cy="581.3" r="0.65" fill="rgb(40,40,40)"/><circle cx="385.0" cy="587.2" r="0.48" fill="rgb(105,105,105)"/><circle cx="271.1" cy="613.7" r="0.55" fill="rgb(90,90,90)"/><circle cx="520.2" cy="654.7" r="0.73" fill="rgb(80,80,80)"/><circle cx="638.0" cy="587.9" r="1.06" fill="rgb(0,0,0)"/><circle cx="260.7" cy="623.3" r="0.53" fill="rgb(105,105,105)"/><circle cx="446.0" cy="610.1" r="0.52" fill="rgb(105,105,105)"/><circle cx="414.4" cy="571.3" r="0.53" fill="rgb(90,90,90)"/><circle cx="601.7" cy="602.7" r="0.53" fill="rgb(120,120,120)"/><circle cx="642.2" cy="523.4" r="0.67" fill="rgb(40,40,40)"/><circle cx="574.7" cy="622.5" r="0.51" fill="rgb(105,105,105)"/><circle cx="661.4" cy="572.5" r="0.49" fill="rgb(90,90,90)"/><circle cx="438.1" cy="591.6" r="0.56" fill="rgb(120,120,120)"/><circle cx="300.4" cy="569.0" r="1.07" fill="rgb(0,0,0)"/><circle cx="685.0" cy="586.8" r="0.76" fill="rgb(60,60,60)"/><circle cx="286.0" cy="662.2" r="0.57" fill="rgb(120,120,120)"/><circle cx="627.2" cy="614.9" r="1.04" fill="rgb(20,20,20)"/><circle cx="322.3" cy="617.0" r="1.08" fill="rgb(20,20,20)"/><circle cx="465.8" cy="543.3" r="0.70" fill="rgb(80,80,80)"/><circle cx="242.8" cy="659.9" r="0.56" fill="rgb(120,120,120)"/><circle cx="577.9" cy="631.5" r="0.51" fill="rgb(105,105,105)"/><circle cx="499.0" cy="597.7" r="0.69" fill="rgb(40,40,40)"/><circle cx="339.5" cy="660.5" r="0.56" fill="rgb(90,90,90)"/><circle cx="153.7" cy="639.9" r="0.53" fill="rgb(120,120,120)"/><circle cx="459.1" cy="611.5" r="0.51" fill="rgb(90,90,90)"/><circle cx="381.5" cy="565.6" r="0.57" fill="rgb(120,120,120)"/><circle cx="296.4" cy="570.6" r="0.51" fill="rgb(120,120,120)"/><circle cx="285.8" cy="629.1" r="0.49" fill="rgb(105,105,105)"/><circle cx="515.2" cy="558.5" r="0.52" fill="rgb(105,105,105)"/><circle cx="194.2" cy="593.9" r="0.65" fill="rgb(80,80,80)"/><circle cx="593.5" cy="506.3" r="0.56" fill="rgb(105,105,105)"/><circle cx="119.9" cy="640.1" r="0.95" fill="rgb(0,0,0)"/><circle cx="218.3" cy="646.6" r="0.51" fill="rgb(90,90,90)"/><circle cx="336.5" cy="624.0" r="1.06" fill="rgb(20,20,20)"/><circle cx="576.9" cy="603.8" r="0.93" fill="rgb(0,0,0)"/><circle cx="668.8" cy="502.1" r="0.65" fill="rgb(60,60,60)"/><circle cx="201.6" cy="577.9" r="1.09" fill="rgb(10,10,10)"/><circle cx="409.8" cy="622.0" r="1.08" fill="rgb(20,20,20)"/><circle cx="653.5" cy="575.2" r="0.52" fill="rgb(120,120,120)"/><circle cx="684.7" cy="578.4" r="0.65" fill="rgb(80,80,80)"/><circle cx="182.0" cy="598.6" r="0.63" fill="rgb(60,60,60)"/><circle cx="526.3" cy="622.3" r="0.54" fill="rgb(90,90,90)"/><circle cx="419.5" cy="539.7" r="0.49" fill="rgb(105,105,105)"/><circle cx="585.9" cy="578.6" r="0.68" fill="rgb(40,40,40)"/><circle cx="661.2" cy="652.3" r="0.56" fill="rgb(120,120,120)"/><circle cx="138.9" cy="619.1" r="0.56" fill="rgb(90,90,90)"/><circle cx="444.2" cy="619.3" r="0.53" fill="rgb(120,120,120)"/><circle cx="428.4" cy="658.9" r="0.52" fill="rgb(120,120,120)"/><circle cx="664.3" cy="568.9" r="0.50" fill="rgb(105,105,105)"/><circle cx="454.5" cy="596.3" r="1.09" fill="rgb(10,10,10)"/><circle cx="526.7" cy="633.5" r="0.73" fill="rgb(60,60,60)"/><circle cx="451.1" cy="561.1" r="0.62" fill="rgb(60,60,60)"/><circle cx="351.1" cy="561.6" r="1.08" fill="rgb(20,20,20)"/><circle cx="377.7" cy="653.7" r="0.52" fill="rgb(105,105,105)"/><circle cx="469.9" cy="649.4" r="0.66" fill="rgb(60,60,60)"/><circle cx="687.8" cy="492.4" r="0.73" fill="rgb(60,60,60)"/><circle cx="460.8" cy="529.9" r="0.49" fill="rgb(120,120,120)"/><circle cx="414.7" cy="617.8" r="0.51" fill="rgb(120,120,120)"/><circle cx="652.5" cy="562.4" r="0.57" fill="rgb(105,105,105)"/><circle cx="651.5" cy="595.6" r="0.54" fill="rgb(120,120,120)"/><circle cx="284.4" cy="557.6" r="0.92" fill="rgb(10,10,10)"/><circle cx="268.7" cy="638.0" r="0.55" fill="rgb(120,120,120)"/><circle cx="368.1" cy="554.1" r="0.67" fill="rgb(40,40,40)"/><circle cx="623.5" cy="523.8" r="0.50" fill="rgb(90,90,90)"/><circle cx="489.3" cy="607.5" r="0.53" fill="rgb(90,90,90)"/><circle cx="153.3" cy="589.5" r="0.55" fill="rgb(105,105,105)"/><circle cx="215.6" cy="656.2" r="0.69" fill="rgb(60,60,60)"/><circle cx="158.6" cy="594.4" r="0.53" fill="rgb(120,120,120)"/><circle cx="245.5" cy="590.0" r="0.72" fill="rgb(40,40,40)"/><circle cx="528.6" cy="532.5" r="0.55" fill="rgb(105,105,105)"/><circle cx="344.0" cy="586.8" r="0.67" fill="rgb(40,40,40)"/><circle cx="406.0" cy="609.2" r="0.62" fill="rgb(60,60,60)"/><circle cx="482.2" cy="626.4" r="0.65" fill="rgb(60,60,60)"/><circle cx="196.7" cy="646.3" r="0.66" fill="rgb(40,40,40)"/><circle cx="547.0" cy="587.9" r="1.03" fill="rgb(10,10,10)"/><circle cx="469.2" cy="562.9" r="1.02" fill="rgb(20,20,20)"/><circle cx="402.9" cy="538.5" r="0.72" fill="rgb(80,80,80)"/><circle cx="522.7" cy="599.7" r="1.04" fill="rgb(0,0,0)"/><circle cx="611.5" cy="611.1" r="0.64" fill="rgb(60,60,60)"/><circle cx="120.6" cy="609.7" r="0.54" fill="rgb(105,105,105)"/><circle cx="580.3" cy="542.6" r="0.50" fill="rgb(120,120,120)"/><circle cx="362.9" cy="552.3" r="0.72" fill="rgb(60,60,60)"/><circle cx="269.1" cy="607.1" r="0.52" fill="rgb(105,105,105)"/><circle cx="643.4" cy="653.2" r="0.52" fill="rgb(90,90,90)"/><circle cx="442.8" cy="600.9" r="0.50" fill="rgb(105,105,105)"/><circle cx="538.6" cy="531.1" r="0.52" fill="rgb(120,120,120)"/><circle cx="609.1" cy="641.3" r="0.56" fill="rgb(105,105,105)"/><circle cx="606.6" cy="638.2" r="0.50" fill="rgb(105,105,105)"/><circle cx="254.6" cy="607.0" r="0.50" fill="rgb(90,90,90)"/><circle cx="336.4" cy="582.9" r="0.55" fill="rgb(105,105,105)"/><circle cx="556.5" cy="596.1" r="0.67" fill="rgb(60,60,60)"/><circle cx="533.6" cy="629.2" r="0.68" fill="rgb(60,60,60)"/><circle cx="644.8" cy="495.4" r="0.71" fill="rgb(40,40,40)"/><circle cx="617.7" cy="540.4" r="0.65" fill="rgb(60,60,60)"/><circle cx="551.1" cy="604.0" r="0.63" fill="rgb(40,40,40)"/><circle cx="542.5" cy="612.9" r="0.62" fill="rgb(40,40,40)"/><circle cx="320.8" cy="597.2" r="0.91" fill="rgb(20,20,20)"/><circle cx="348.6" cy="605.8" r="0.57" fill="rgb(90,90,90)"/><circle cx="410.5" cy="594.5" r="0.68" fill="rgb(60,60,60)"/><circle cx="424.2" cy="533.1" r="0.74" fill="rgb(40,40,40)"/><circle cx="438.6" cy="648.5" r="0.56" fill="rgb(105,105,105)"/><circle cx="661.5" cy="483.0" r="0.65" fill="rgb(80,80,80)"/><circle cx="653.5" cy="607.2" r="0.67" fill="rgb(40,40,40)"/><circle cx="659.9" cy="638.4" r="1.02" fill="rgb(20,20,20)"/><circle cx="493.8" cy="553.4" r="1.03" fill="rgb(0,0,0)"/><circle cx="190.0" cy="583.7" r="0.94" fill="rgb(20,20,20)"/><circle cx="218.5" cy="571.6" r="0.69" fill="rgb(40,40,40)"/><circle cx="412.6" cy="661.1" r="0.57" fill="rgb(90,90,90)"/><circle cx="505.2" cy="654.5" r="0.54" fill="rgb(120,120,120)"/><circle cx="636.5" cy="642.1" r="0.52" fill="rgb(120,120,120)"/><circle cx="264.7" cy="566.4" r="0.50" fill="rgb(90,90,90)"/><circle cx="285.0" cy="652.2" r="0.76" fill="rgb(60,60,60)"/><circle cx="638.3" cy="632.0" r="0.64" fill="rgb(40,40,40)"/><circle cx="316.5" cy="584.1" r="1.09" fill="rgb(10,10,10)"/><circle cx="278.1" cy="560.9" r="0.57" fill="rgb(105,105,105)"/><circle cx="574.5" cy="635.7" r="0.75" fill="rgb(60,60,60)"/><circle cx="185.7" cy="592.0" r="0.67" fill="rgb(60,60,60)"/><circle cx="493.8" cy="658.9" r="0.53" fill="rgb(120,120,120)"/><circle cx="240.5" cy="649.7" r="1.03" fill="rgb(20,20,20)"/><circle cx="415.0" cy="542.1" r="0.54" fill="rgb(105,105,105)"/><circle cx="179.7" cy="631.2" r="0.66" fill="rgb(60,60,60)"/><circle cx="627.5" cy="543.5" r="0.73" fill="rgb(40,40,40)"/><circle cx="416.3" cy="613.6" r="0.56" fill="rgb(120,120,120)"/><circle cx="641.4" cy="499.4" r="0.71" fill="rgb(80,80,80)"/><circle cx="555.2" cy="603.3" r="0.55" fill="rgb(90,90,90)"/><circle cx="579.3" cy="517.5" r="0.51" fill="rgb(120,120,120)"/><circle cx="268.4" cy="644.9" r="0.94" fill="rgb(10,10,10)"/><circle cx="627.4" cy="597.3" r="0.52" fill="rgb(105,105,105)"/><circle cx="585.5" cy="510.0" r="0.76" fill="rgb(40,40,40)"/><circle cx="318.1" cy="577.6" r="0.67" fill="rgb(80,80,80)"/><circle cx="533.8" cy="512.0" r="0.68" fill="rgb(80,80,80)"/><circle cx="525.4" cy="645.2" r="0.63" fill="rgb(40,40,40)"/><circle cx="423.5" cy="659.0" r="0.98" fill="rgb(20,20,20)"/><circle cx="632.7" cy="533.0" r="0.92" fill="rgb(10,10,10)"/><circle cx="527.8" cy="506.6" r="0.51" fill="rgb(90,90,90)"/><circle cx="514.2" cy="662.1" r="0.69" fill="rgb(60,60,60)"/><circle cx="417.3" cy="609.1" r="0.55" fill="rgb(105,105,105)"/><circle cx="662.6" cy="576.9" r="0.70" fill="rgb(80,80,80)"/><circle cx="188.5" cy="617.8" r="0.97" fill="rgb(0,0,0)"/><circle cx="145.1" cy="640.5" r="0.54" fill="rgb(105,105,105)"/><circle cx="389.1" cy="657.6" r="0.71" fill="rgb(60,60,60)"/><circle cx="465.3" cy="642.2" r="0.64" fill="rgb(40,40,40)"/><circle cx="477.8" cy="522.7" r="0.55" fill="rgb(105,105,105)"/><circle cx="302.6" cy="558.4" r="0.50" fill="rgb(120,120,120)"/><circle cx="365.2" cy="661.9" r="0.52" fill="rgb(90,90,90)"/><circle cx="543.9" cy="625.6" r="0.48" fill="rgb(120,120,120)"/><circle cx="653.8" cy="567.0" r="0.92" fill="rgb(0,0,0)"/><circle cx="502.8" cy="629.7" r="0.48" fill="rgb(105,105,105)"/><circle cx="595.8" cy="556.1" r="0.52" fill="rgb(90,90,90)"/><circle cx="182.9" cy="657.2" r="0.57" fill="rgb(90,90,90)"/><circle cx="609.4" cy="572.2" r="0.92" fill="rgb(0,0,0)"/><circle cx="539.7" cy="600.5" r="0.91" fill="rgb(20,20,20)"/><circle cx="377.7" cy="614.4" r="0.55" fill="rgb(90,90,90)"/><circle cx="378.6" cy="646.4" r="0.64" fill="rgb(80,80,80)"/><circle cx="630.3" cy="659.5" r="0.64" fill="rgb(60,60,60)"/><circle cx="656.0" cy="521.7" r="0.75" fill="rgb(40,40,40)"/><circle cx="281.0" cy="628.8" r="0.72" fill="rgb(60,60,60)"/><circle cx="512.1" cy="538.4" r="0.68" fill="rgb(80,80,80)"/><circle cx="488.9" cy="531.1" r="0.52" fill="rgb(120,120,120)"/><circle cx="190.7" cy="606.5" r="1.07" fill="rgb(20,20,20)"/><circle cx="533.0" cy="598.5" r="0.56" fill="rgb(90,90,90)"/><circle cx="279.9" cy="582.6" r="0.48" fill="rgb(90,90,90)"/><circle cx="480.9" cy="544.6" r="0.55" fill="rgb(105,105,105)"/><circle cx="405.1" cy="560.1" r="0.65" fill="rgb(60,60,60)"/><circle cx="435.9" cy="595.4" r="0.56" fill="rgb(105,105,105)"/><circle cx="366.7" cy="647.9" r="0.51" fill="rgb(90,90,90)"/><circle cx="135.2" cy="603.2" r="0.65" fill="rgb(80,80,80)"/><circle cx="349.4" cy="544.0" r="0.64" fill="rgb(40,40,40)"/><circle cx="330.1" cy="571.8" r="0.98" fill="rgb(20,20,20)"/><circle cx="329.6" cy="605.6" r="0.71" fill="rgb(60,60,60)"/><circle cx="600.8" cy="557.2" r="0.94" fill="rgb(20,20,20)"/><circle cx="519.7" cy="629.1" r="0.68" fill="rgb(40,40,40)"/><circle cx="309.6" cy="620.5" r="0.72" fill="rgb(80,80,80)"/><circle cx="178.9" cy="605.0" r="0.51" fill="rgb(90,90,90)"/><circle cx="162.9" cy="585.4" r="0.58" fill="rgb(120,120,120)"/><circle cx="141.8" cy="599.4" r="1.04" fill="rgb(0,0,0)"/><circle cx="528.2" cy="562.9" r="0.51" fill="rgb(105,105,105)"/><circle cx="184.9" cy="637.3" r="0.54" fill="rgb(105,105,105)"/><circle cx="645.8" cy="504.7" r="1.01" fill="rgb(10,10,10)"/><circle cx="449.6" cy="581.1" r="0.75" fill="rgb(60,60,60)"/><circle cx="228.9" cy="603.4" r="0.52" fill="rgb(90,90,90)"/><circle cx="386.3" cy="643.4" r="1.08" fill="rgb(20,20,20)"/><circle cx="640.3" cy="534.4" r="0.57" fill="rgb(105,105,105)"/><circle cx="195.0" cy="586.7" r="0.58" fill="rgb(105,105,105)"/><circle cx="558.6" cy="578.2" r="0.52" fill="rgb(105,105,105)"/><circle cx="460.6" cy="553.8" r="0.62" fill="rgb(80,80,80)"/><circle cx="673.3" cy="537.6" r="0.52" fill="rgb(90,90,90)"/><circle cx="414.9" cy="583.4" r="0.51" fill="rgb(120,120,120)"/><circle cx="324.1" cy="549.3" r="0.91" fill="rgb(10,10,10)"/><circle cx="419.3" cy="573.4" r="0.70" fill="rgb(80,80,80)"/><circle cx="364.4" cy="621.8" r="0.49" fill="rgb(120,120,120)"/><circle cx="340.1" cy="643.2" r="0.71" fill="rgb(60,60,60)"/><circle cx="405.8" cy="626.4" r="0.96" fill="rgb(10,10,10)"/><circle cx="453.8" cy="532.6" r="0.53" fill="rgb(90,90,90)"/><circle cx="311.9" cy="588.6" r="0.75" fill="rgb(80,80,80)"/><circle cx="605.3" cy="622.0" r="0.74" fill="rgb(60,60,60)"/><circle cx="393.2" cy="578.3" r="1.03" fill="rgb(20,20,20)"/><circle cx="657.7" cy="492.2" r="0.54" fill="rgb(105,105,105)"/><circle cx="277.1" cy="604.6" r="0.52" fill="rgb(105,105,105)"/><circle cx="235.8" cy="640.7" r="0.49" fill="rgb(105,105,105)"/><circle cx="520.1" cy="587.2" r="0.64" fill="rgb(60,60,60)"/><circle cx="499.6" cy="524.0" r="0.74" fill="rgb(40,40,40)"/><circle cx="530.0" cy="617.6" r="0.96" fill="rgb(20,20,20)"/><circle cx="599.3" cy="565.8" r="0.58" fill="rgb(90,90,90)"/><circle cx="688.1" cy="626.9" r="0.55" fill="rgb(120,120,120)"/><circle cx="619.8" cy="526.3" r="0.99" fill="rgb(20,20,20)"/><circle cx="565.1" cy="649.0" r="0.50" fill="rgb(105,105,105)"/><circle cx="535.9" cy="641.4" r="0.52" fill="rgb(120,120,120)"/><circle cx="591.1" cy="601.5" r="0.58" fill="rgb(90,90,90)"/><circle cx="636.9" cy="613.0" r="0.65" fill="rgb(60,60,60)"/><circle cx="576.6" cy="584.3" r="0.54" fill="rgb(105,105,105)"/><circle cx="669.7" cy="600.5" r="0.52" fill="rgb(120,120,120)"/><circle cx="194.0" cy="638.1" r="0.56" fill="rgb(105,105,105)"/><circle cx="254.3" cy="623.4" r="0.52" fill="rgb(105,105,105)"/><circle cx="509.6" cy="514.8" r="0.70" fill="rgb(80,80,80)"/><circle cx="380.7" cy="543.6" r="0.64" fill="rgb(60,60,60)"/><circle cx="244.2" cy="565.8" r="0.49" fill="rgb(120,120,120)"/><circle cx="198.1" cy="657.7" r="0.52" fill="rgb(120,120,120)"/><circle cx="500.8" cy="653.8" r="0.71" fill="rgb(60,60,60)"/><circle cx="403.7" cy="597.2" r="0.76" fill="rgb(40,40,40)"/><circle cx="287.2" cy="589.9" r="1.08" fill="rgb(20,20,20)"/><circle cx="208.3" cy="653.1" r="0.56" fill="rgb(105,105,105)"/><circle cx="504.5" cy="625.3" r="0.91" fill="rgb(10,10,10)"/><circle cx="120.4" cy="622.7" r="1.00" fill="rgb(10,10,10)"/><circle cx="497.5" cy="660.3" r="0.68" fill="rgb(40,40,40)"/><circle cx="258.9" cy="617.2" r="0.48" fill="rgb(105,105,105)"/><circle cx="252.3" cy="653.2" r="0.96" fill="rgb(20,20,20)"/><circle cx="338.7" cy="596.5" r="0.91" fill="rgb(10,10,10)"/><circle cx="679.1" cy="563.8" r="0.51" fill="rgb(90,90,90)"/><circle cx="493.5" cy="521.4" r="0.51" fill="rgb(120,120,120)"/><circle cx="360.8" cy="642.4" r="0.56" fill="rgb(90,90,90)"/><circle cx="645.4" cy="510.5" r="1.01" fill="rgb(0,0,0)"/><circle cx="303.2" cy="583.0" r="0.72" fill="rgb(60,60,60)"/><circle cx="676.3" cy="512.6" r="0.57" fill="rgb(90,90,90)"/><circle cx="236.9" cy="655.0" r="0.70" fill="rgb(80,80,80)"/><circle cx="190.0" cy="641.9" r="0.55" fill="rgb(105,105,105)"/><circle cx="459.3" cy="542.8" r="0.50" fill="rgb(105,105,105)"/><circle cx="250.0" cy="649.4" r="0.68" fill="rgb(80,80,80)"/><circle cx="362.6" cy="599.8" r="0.66" fill="rgb(80,80,80)"/><circle cx="142.8" cy="636.4" r="0.54" fill="rgb(120,120,120)"/><circle cx="685.8" cy="655.6" r="0.75" fill="rgb(80,80,80)"/><circle cx="625.0" cy="658.4" r="0.55" fill="rgb(90,90,90)"/><circle cx="593.3" cy="571.8" r="0.50" fill="rgb(120,120,120)"/><circle cx="586.0" cy="600.3" r="1.04" fill="rgb(0,0,0)"/><circle cx="545.9" cy="568.0" r="0.56" fill="rgb(90,90,90)"/><circle cx="472.4" cy="616.1" r="0.57" fill="rgb(90,90,90)"/><circle cx="521.1" cy="644.1" r="0.54" fill="rgb(90,90,90)"/><circle cx="544.3" cy="514.5" r="0.52" fill="rgb(90,90,90)"/><circle cx="354.8" cy="581.8" r="0.49" fill="rgb(105,105,105)"/><circle cx="672.3" cy="512.9" r="0.55" fill="rgb(90,90,90)"/><circle cx="625.9" cy="639.5" r="0.56" fill="rgb(120,120,120)"/><circle cx="600.1" cy="620.9" r="0.51" fill="rgb(105,105,105)"/><circle cx="599.4" cy="500.9" r="0.50" fill="rgb(105,105,105)"/><circle cx="553.7" cy="531.4" r="0.57" fill="rgb(90,90,90)"/><circle cx="505.3" cy="515.8" r="0.51" fill="rgb(120,120,120)"/><circle cx="615.5" cy="595.1" r="0.52" fill="rgb(120,120,120)"/><circle cx="681.6" cy="520.1" r="0.55" fill="rgb(120,120,120)"/><circle cx="384.0" cy="546.6" r="0.72" fill="rgb(60,60,60)"/><circle cx="678.9" cy="602.8" r="1.08" fill="rgb(20,20,20)"/><circle cx="526.7" cy="545.7" r="0.75" fill="rgb(80,80,80)"/><circle cx="376.7" cy="619.4" r="0.58" fill="rgb(90,90,90)"/><circle cx="206.5" cy="640.5" r="1.05" fill="rgb(0,0,0)"/><circle cx="265.1" cy="607.7" r="0.68" fill="rgb(80,80,80)"/><circle cx="178.8" cy="635.9" r="0.57" fill="rgb(120,120,120)"/><circle cx="371.2" cy="600.0" r="0.71" fill="rgb(60,60,60)"/><circle cx="159.8" cy="659.7" r="0.70" fill="rgb(80,80,80)"/><circle cx="656.0" cy="529.0" r="0.54" fill="rgb(120,120,120)"/><circle cx="440.1" cy="628.5" r="0.75" fill="rgb(60,60,60)"/><circle cx="184.5" cy="605.6" r="0.48" fill="rgb(90,90,90)"/><circle cx="376.5" cy="594.9" r="0.50" fill="rgb(90,90,90)"/><circle cx="633.2" cy="609.4" r="0.96" fill="rgb(20,20,20)"/><circle cx="627.2" cy="534.7" r="0.94" fill="rgb(0,0,0)"/><circle cx="528.6" cy="603.1" r="0.66" fill="rgb(60,60,60)"/><circle cx="688.1" cy="560.0" r="0.74" fill="rgb(60,60,60)"/><circle cx="153.6" cy="650.0" r="1.02" fill="rgb(0,0,0)"/><circle cx="184.1" cy="619.2" r="0.55" fill="rgb(120,120,120)"/><circle cx="472.0" cy="545.1" r="0.90" fill="rgb(20,20,20)"/><circle cx="612.3" cy="557.5" r="1.08" fill="rgb(10,10,10)"/><circle cx="642.4" cy="639.3" r="0.57" fill="rgb(90,90,90)"/><circle cx="480.8" cy="600.8" r="0.53" fill="rgb(90,90,90)"/><circle cx="190.0" cy="661.4" r="0.52" fill="rgb(90,90,90)"/><circle cx="607.0" cy="551.2" r="0.52" fill="rgb(105,105,105)"/><circle cx="195.8" cy="609.4" r="0.57" fill="rgb(90,90,90)"/><circle cx="314.1" cy="565.3" r="1.00" fill="rgb(10,10,10)"/><circle cx="435.0" cy="578.2" r="0.57" fill="rgb(90,90,90)"/><circle cx="625.2" cy="518.7" r="0.73" fill="rgb(40,40,40)"/><circle cx="484.1" cy="648.5" r="0.76" fill="rgb(80,80,80)"/><circle cx="429.7" cy="590.2" r="0.75" fill="rgb(40,40,40)"/><circle cx="254.7" cy="595.9" r="0.66" fill="rgb(60,60,60)"/><circle cx="551.4" cy="611.3" r="0.53" fill="rgb(120,120,120)"/><circle cx="177.6" cy="586.5" r="1.00" fill="rgb(20,20,20)"/><circle cx="523.9" cy="516.3" r="1.02" fill="rgb(10,10,10)"/><circle cx="600.7" cy="514.0" r="0.74" fill="rgb(40,40,40)"/><circle cx="651.3" cy="518.7" r="0.98" fill="rgb(20,20,20)"/><circle cx="274.2" cy="661.5" r="0.52" fill="rgb(105,105,105)"/><circle cx="533.6" cy="508.1" r="0.67" fill="rgb(60,60,60)"/><circle cx="579.7" cy="552.4" r="0.55" fill="rgb(105,105,105)"/><circle cx="406.9" cy="588.0" r="0.52" fill="rgb(105,105,105)"/><circle cx="433.2" cy="633.1" r="0.69" fill="rgb(60,60,60)"/><circle cx="557.6" cy="626.6" r="0.75" fill="rgb(40,40,40)"/><circle cx="469.5" cy="550.0" r="0.67" fill="rgb(40,40,40)"/><circle cx="397.8" cy="577.4" r="0.56" fill="rgb(105,105,105)"/><circle cx="657.9" cy="485.2" r="0.66" fill="rgb(60,60,60)"/><circle cx="664.5" cy="590.4" r="0.91" fill="rgb(0,0,0)"/><circle cx="295.2" cy="648.0" r="0.56" fill="rgb(105,105,105)"/><circle cx="232.0" cy="647.1" r="0.51" fill="rgb(105,105,105)"/><circle cx="311.5" cy="650.9" r="0.57" fill="rgb(120,120,120)"/><circle cx="571.7" cy="500.2" r="1.10" fill="rgb(10,10,10)"/><circle cx="428.5" cy="632.2" r="0.97" fill="rgb(0,0,0)"/><circle cx="174.5" cy="604.4" r="0.97" fill="rgb(20,20,20)"/><circle cx="408.1" cy="660.4" r="0.99" fill="rgb(0,0,0)"/><circle cx="618.2" cy="658.6" r="0.50" fill="rgb(120,120,120)"/><circle cx="364.1" cy="579.2" r="0.67" fill="rgb(60,60,60)"/><circle cx="540.2" cy="522.1" r="0.49" fill="rgb(90,90,90)"/><circle cx="381.9" cy="555.8" r="0.93" fill="rgb(10,10,10)"/><circle cx="550.9" cy="594.3" r="1.06" fill="rgb(0,0,0)"/><circle cx="422.4" cy="605.1" r="1.00" fill="rgb(20,20,20)"/><circle cx="580.1" cy="507.0" r="0.57" fill="rgb(120,120,120)"/><circle cx="689.4" cy="484.7" r="0.53" fill="rgb(90,90,90)"/><circle cx="667.6" cy="530.8" r="1.08" fill="rgb(20,20,20)"/><circle cx="313.3" cy="612.1" r="0.63" fill="rgb(60,60,60)"/><circle cx="640.7" cy="527.4" r="0.68" fill="rgb(40,40,40)"/><circle cx="449.7" cy="556.9" r="0.54" fill="rgb(90,90,90)"/><circle cx="598.2" cy="649.8" r="1.03" fill="rgb(0,0,0)"/><circle cx="306.7" cy="573.3" r="0.56" fill="rgb(120,120,120)"/><circle cx="379.6" cy="633.4" r="0.51" fill="rgb(90,90,90)"/><circle cx="675.2" cy="578.0" r="0.56" fill="rgb(120,120,120)"/><circle cx="464.3" cy="574.9" r="0.67" fill="rgb(80,80,80)"/><circle cx="354.7" cy="568.1" r="0.66" fill="rgb(40,40,40)"/><circle cx="577.2" cy="659.8" r="0.55" fill="rgb(105,105,105)"/><circle cx="622.3" cy="550.0" r="1.09" fill="rgb(10,10,10)"/><circle cx="561.8" cy="597.1" r="0.57" fill="rgb(120,120,120)"/><circle cx="591.7" cy="551.4" r="0.51" fill="rgb(120,120,120)"/><circle cx="683.8" cy="483.1" r="0.48" fill="rgb(120,120,120)"/><circle cx="659.0" cy="620.1" r="0.72" fill="rgb(60,60,60)"/><circle cx="622.2" cy="506.7" r="0.57" fill="rgb(90,90,90)"/><circle cx="280.0" cy="599.5" r="1.09" fill="rgb(20,20,20)"/><circle cx="346.7" cy="590.0" r="0.53" fill="rgb(105,105,105)"/><circle cx="305.0" cy="624.8" r="1.01" fill="rgb(10,10,10)"/><circle cx="543.7" cy="510.1" r="0.54" fill="rgb(120,120,120)"/><circle cx="550.1" cy="661.5" r="0.56" fill="rgb(90,90,90)"/><circle cx="198.0" cy="605.6" r="0.53" fill="rgb(105,105,105)"/><circle cx="640.0" cy="661.2" r="0.48" fill="rgb(105,105,105)"/><circle cx="386.6" cy="580.6" r="0.57" fill="rgb(120,120,120)"/><circle cx="206.9" cy="646.8" r="0.74" fill="rgb(60,60,60)"/><circle cx="377.9" cy="604.5" r="0.70" fill="rgb(80,80,80)"/><circle cx="278.5" cy="653.8" r="0.74" fill="rgb(40,40,40)"/><circle cx="478.2" cy="647.9" r="0.55" fill="rgb(105,105,105)"/><circle cx="398.6" cy="631.8" r="0.72" fill="rgb(60,60,60)"/><circle cx="223.8" cy="611.8" r="0.52" fill="rgb(120,120,120)"/><circle cx="455.3" cy="526.3" r="0.55" fill="rgb(90,90,90)"/><circle cx="585.2" cy="504.5" r="1.02" fill="rgb(0,0,0)"/><circle cx="424.7" cy="640.2" r="0.49" fill="rgb(105,105,105)"/><circle cx="576.1" cy="610.6" r="0.57" fill="rgb(105,105,105)"/><circle cx="537.7" cy="645.6" r="0.51" fill="rgb(90,90,90)"/><circle cx="560.8" cy="588.0" r="0.66" fill="rgb(80,80,80)"/><circle cx="574.0" cy="577.8" r="0.49" fill="rgb(120,120,120)"/><circle cx="547.9" cy="507.4" r="0.55" fill="rgb(90,90,90)"/><circle cx="149.0" cy="589.2" r="0.51" fill="rgb(120,120,120)"/><circle cx="127.5" cy="636.8" r="1.07" fill="rgb(0,0,0)"/><circle cx="504.6" cy="564.6" r="0.56" fill="rgb(105,105,105)"/><circle cx="205.9" cy="606.3" r="0.64" fill="rgb(60,60,60)"/><circle cx="407.7" cy="651.8" r="0.91" fill="rgb(0,0,0)"/><circle cx="261.1" cy="633.0" r="1.04" fill="rgb(10,10,10)"/><circle cx="192.7" cy="618.0" r="0.68" fill="rgb(40,40,40)"/><circle cx="495.1" cy="570.4" r="0.57" fill="rgb(90,90,90)"/><circle cx="239.7" cy="642.7" r="0.49" fill="rgb(105,105,105)"/><circle cx="243.9" cy="615.9" r="0.55" fill="rgb(105,105,105)"/><circle cx="583.0" cy="498.2" r="0.51" fill="rgb(90,90,90)"/><circle cx="587.0" cy="636.7" r="0.76" fill="rgb(80,80,80)"/><circle cx="565.3" cy="528.8" r="0.54" fill="rgb(90,90,90)"/><circle cx="406.5" cy="550.7" r="1.07" fill="rgb(20,20,20)"/><circle cx="238.7" cy="573.9" r="0.54" fill="rgb(120,120,120)"/><circle cx="347.9" cy="583.8" r="0.51" fill="rgb(105,105,105)"/><circle cx="544.6" cy="535.6" r="0.54" fill="rgb(105,105,105)"/><circle cx="179.6" cy="660.1" r="0.52" fill="rgb(120,120,120)"/><circle cx="616.5" cy="610.5" r="1.05" fill="rgb(20,20,20)"/><circle cx="252.0" cy="636.9" r="0.56" fill="rgb(105,105,105)"/><circle cx="224.9" cy="585.4" r="0.63" fill="rgb(80,80,80)"/><circle cx="180.5" cy="592.4" r="0.54" fill="rgb(120,120,120)"/><circle cx="452.3" cy="541.0" r="0.49" fill="rgb(120,120,120)"/><circle cx="517.7" cy="555.4" r="0.76" fill="rgb(80,80,80)"/><circle cx="456.3" cy="521.2" r="0.56" fill="rgb(90,90,90)"/><circle cx="445.0" cy="645.7" r="0.50" fill="rgb(120,120,120)"/><circle cx="221.9" cy="588.8" r="0.53" fill="rgb(120,120,120)"/><circle cx="626.9" cy="514.3" r="0.72" fill="rgb(60,60,60)"/><circle cx="604.3" cy="509.6" r="0.51" fill="rgb(105,105,105)"/><circle cx="618.3" cy="646.5" r="0.52" fill="rgb(105,105,105)"/><circle cx="613.8" cy="490.5" r="0.62" fill="rgb(60,60,60)"/><circle cx="332.0" cy="587.5" r="0.58" fill="rgb(105,105,105)"/><circle cx="494.4" cy="654.1" r="0.70" fill="rgb(80,80,80)"/><circle cx="410.5" cy="626.2" r="0.68" fill="rgb(60,60,60)"/><circle cx="459.8" cy="632.8" r="0.75" fill="rgb(80,80,80)"/><circle cx="223.5" cy="618.5" r="0.96" fill="rgb(0,0,0)"/><circle cx="632.5" cy="499.1" r="0.72" fill="rgb(80,80,80)"/><circle cx="528.2" cy="641.5" r="1.05" fill="rgb(20,20,20)"/><circle cx="452.9" cy="586.8" r="0.94" fill="rgb(10,10,10)"/><circle cx="487.6" cy="589.1" r="0.74" fill="rgb(80,80,80)"/><circle cx="507.7" cy="529.9" r="1.03" fill="rgb(20,20,20)"/><circle cx="556.7" cy="574.4" r="0.50" fill="rgb(120,120,120)"/><circle cx="677.4" cy="542.8" r="0.51" fill="rgb(105,105,105)"/><circle cx="292.5" cy="622.2" r="0.57" fill="rgb(90,90,90)"/><circle cx="409.3" cy="633.0" r="1.05" fill="rgb(20,20,20)"/><circle cx="223.8" cy="592.7" r="0.74" fill="rgb(60,60,60)"/><circle cx="663.0" cy="558.9" r="0.49" fill="rgb(105,105,105)"/><circle cx="540.9" cy="582.5" r="0.48" fill="rgb(105,105,105)"/><circle cx="262.9" cy="580.5" r="0.97" fill="rgb(20,20,20)"/><circle cx="357.7" cy="573.1" r="0.50" fill="rgb(90,90,90)"/><circle cx="659.9" cy="599.9" r="0.51" fill="rgb(105,105,105)"/><circle cx="302.8" cy="611.3" r="1.02" fill="rgb(20,20,20)"/><circle cx="558.5" cy="656.4" r="0.54" fill="rgb(90,90,90)"/><circle cx="503.3" cy="544.7" r="0.50" fill="rgb(105,105,105)"/><circle cx="589.8" cy="569.2" r="0.55" fill="rgb(120,120,120)"/><circle cx="300.9" cy="623.3" r="0.70" fill="rgb(40,40,40)"/><circle cx="685.1" cy="496.5" r="0.55" fill="rgb(90,90,90)"/><circle cx="573.5" cy="606.4" r="0.51" fill="rgb(120,120,120)"/><circle cx="660.8" cy="589.1" r="0.65" fill="rgb(80,80,80)"/><circle cx="277.4" cy="573.3" r="0.57" fill="rgb(90,90,90)"/><circle cx="459.7" cy="562.2" r="0.76" fill="rgb(60,60,60)"/><circle cx="647.6" cy="563.8" r="0.56" fill="rgb(90,90,90)"/><circle cx="501.7" cy="607.0" r="0.93" fill="rgb(20,20,20)"/><circle cx="500.0" cy="549.1" r="0.75" fill="rgb(60,60,60)"/><circle cx="400.5" cy="618.7" r="0.56" fill="rgb(120,120,120)"/><circle cx="551.7" cy="641.1" r="0.75" fill="rgb(60,60,60)"/><circle cx="349.2" cy="611.2" r="0.74" fill="rgb(80,80,80)"/><circle cx="343.4" cy="656.9" r="0.58" fill="rgb(105,105,105)"/><circle cx="589.6" cy="540.5" r="0.49" fill="rgb(105,105,105)"/><circle cx="671.9" cy="477.2" r="1.08" fill="rgb(10,10,10)"/><circle cx="350.0" cy="587.4" r="0.51" fill="rgb(105,105,105)"/><circle cx="530.9" cy="658.5" r="0.54" fill="rgb(90,90,90)"/><circle cx="633.2" cy="538.1" r="0.51" fill="rgb(105,105,105)"/><circle cx="258.8" cy="649.9" r="1.09" fill="rgb(0,0,0)"/><circle cx="307.8" cy="632.1" r="0.73" fill="rgb(60,60,60)"/><circle cx="678.1" cy="557.1" r="0.49" fill="rgb(120,120,120)"/><circle cx="419.8" cy="661.9" r="0.63" fill="rgb(60,60,60)"/><circle cx="320.1" cy="646.1" r="0.58" fill="rgb(90,90,90)"/><circle cx="343.7" cy="610.1" r="1.04" fill="rgb(0,0,0)"/><circle cx="612.7" cy="649.8" r="0.53" fill="rgb(120,120,120)"/><circle cx="439.9" cy="658.1" r="0.51" fill="rgb(120,120,120)"/><circle cx="247.8" cy="612.3" r="0.74" fill="rgb(60,60,60)"/><circle cx="201.0" cy="641.0" r="0.92" fill="rgb(10,10,10)"/><circle cx="517.2" cy="604.7" r="0.64" fill="rgb(60,60,60)"/><circle cx="582.6" cy="566.6" r="0.98" fill="rgb(0,0,0)"/><circle cx="424.7" cy="633.3" r="0.48" fill="rgb(105,105,105)"/><circle cx="657.5" cy="510.0" r="0.98" fill="rgb(10,10,10)"/><circle cx="517.4" cy="521.6" r="0.49" fill="rgb(105,105,105)"/><circle cx="273.4" cy="653.2" r="0.74" fill="rgb(80,80,80)"/><circle cx="219.6" cy="656.3" r="0.62" fill="rgb(40,40,40)"/><circle cx="490.2" cy="595.7" r="0.51" fill="rgb(90,90,90)"/><circle cx="646.4" cy="626.9" r="0.50" fill="rgb(90,90,90)"/><circle cx="514.6" cy="575.8" r="0.50" fill="rgb(120,120,120)"/><circle cx="275.2" cy="613.0" r="0.62" fill="rgb(40,40,40)"/><circle cx="516.0" cy="536.4" r="0.51" fill="rgb(120,120,120)"/><circle cx="648.4" cy="653.9" r="0.54" fill="rgb(90,90,90)"/><circle cx="425.1" cy="555.2" r="0.53" fill="rgb(90,90,90)"/><circle cx="534.1" cy="526.1" r="0.53" fill="rgb(105,105,105)"/><circle cx="525.6" cy="528.4" r="0.76" fill="rgb(60,60,60)"/><circle cx="670.8" cy="583.0" r="0.54" fill="rgb(120,120,120)"/><circle cx="650.6" cy="510.1" r="0.57" fill="rgb(90,90,90)"/><circle cx="393.5" cy="645.2" r="0.67" fill="rgb(60,60,60)"/><circle cx="677.6" cy="525.1" r="0.66" fill="rgb(80,80,80)"/><circle cx="340.1" cy="627.0" r="0.91" fill="rgb(20,20,20)"/><circle cx="328.6" cy="555.2" r="0.75" fill="rgb(60,60,60)"/><circle cx="455.5" cy="629.9" r="0.68" fill="rgb(60,60,60)"/><circle cx="351.6" cy="631.4" r="0.57" fill="rgb(120,120,120)"/><circle cx="646.8" cy="547.7" r="0.57" fill="rgb(120,120,120)"/><circle cx="468.1" cy="576.4" r="1.07" fill="rgb(0,0,0)"/><circle cx="607.9" cy="593.3" r="0.57" fill="rgb(90,90,90)"/><circle cx="402.1" cy="533.6" r="0.53" fill="rgb(120,120,120)"/><circle cx="241.2" cy="623.0" r="0.53" fill="rgb(120,120,120)"/><circle cx="445.4" cy="544.4" r="1.04" fill="rgb(20,20,20)"/><circle cx="428.5" cy="594.2" r="0.73" fill="rgb(80,80,80)"/><circle cx="481.1" cy="612.4" r="1.04" fill="rgb(20,20,20)"/><circle cx="296.6" cy="626.1" r="0.56" fill="rgb(90,90,90)"/><circle cx="617.9" cy="614.9" r="1.09" fill="rgb(0,0,0)"/><circle cx="388.4" cy="622.1" r="0.48" fill="rgb(90,90,90)"/><circle cx="160.5" cy="614.3" r="0.64" fill="rgb(60,60,60)"/><circle cx="338.0" cy="575.3" r="0.73" fill="rgb(60,60,60)"/><circle cx="445.6" cy="623.5" r="0.67" fill="rgb(60,60,60)"/><circle cx="278.5" cy="661.6" r="1.06" fill="rgb(10,10,10)"/><circle cx="371.7" cy="661.8" r="0.51" fill="rgb(105,105,105)"/><circle cx="460.7" cy="606.6" r="1.01" fill="rgb(20,20,20)"/><circle cx="601.3" cy="540.9" r="0.72" fill="rgb(60,60,60)"/><circle cx="268.1" cy="617.6" r="0.56" fill="rgb(105,105,105)"/><circle cx="572.1" cy="649.9" r="0.52" fill="rgb(90,90,90)"/><circle cx="413.9" cy="632.6" r="0.76" fill="rgb(60,60,60)"/><circle cx="480.4" cy="553.1" r="0.97" fill="rgb(10,10,10)"/><circle cx="551.9" cy="629.3" r="0.56" fill="rgb(120,120,120)"/><circle cx="447.2" cy="627.8" r="0.67" fill="rgb(40,40,40)"/><circle cx="244.3" cy="637.2" r="0.56" fill="rgb(90,90,90)"/><circle cx="306.8" cy="654.1" r="0.54" fill="rgb(105,105,105)"/><circle cx="681.3" cy="479.6" r="1.05" fill="rgb(0,0,0)"/><circle cx="233.7" cy="627.4" r="0.97" fill="rgb(20,20,20)"/><circle cx="368.0" cy="591.2" r="0.54" fill="rgb(105,105,105)"/><circle cx="569.6" cy="541.7" r="0.54" fill="rgb(90,90,90)"/><circle cx="649.1" cy="585.4" r="1.01" fill="rgb(10,10,10)"/><circle cx="392.7" cy="534.2" r="1.07" fill="rgb(20,20,20)"/><circle cx="268.7" cy="632.7" r="0.65" fill="rgb(80,80,80)"/><circle cx="186.9" cy="629.9" r="0.95" fill="rgb(0,0,0)"/><circle cx="169.5" cy="652.6" r="0.55" fill="rgb(90,90,90)"/><circle cx="617.7" cy="632.4" r="0.67" fill="rgb(80,80,80)"/><circle cx="474.5" cy="650.8" r="0.63" fill="rgb(60,60,60)"/><circle cx="675.2" cy="501.1" r="0.98" fill="rgb(10,10,10)"/><circle cx="370.9" cy="651.6" r="0.75" fill="rgb(40,40,40)"/><circle cx="243.3" cy="597.0" r="0.52" fill="rgb(90,90,90)"/><circle cx="464.8" cy="608.5" r="0.54" fill="rgb(120,120,120)"/><circle cx="613.6" cy="573.0" r="0.51" fill="rgb(90,90,90)"/><circle cx="252.3" cy="632.5" r="1.00" fill="rgb(20,20,20)"/><circle cx="263.5" cy="619.3" r="0.56" fill="rgb(90,90,90)"/><circle cx="145.5" cy="596.4" r="0.70" fill="rgb(40,40,40)"/><circle cx="503.1" cy="537.7" r="0.93" fill="rgb(0,0,0)"/><circle cx="650.6" cy="492.8" r="0.66" fill="rgb(60,60,60)"/><circle cx="531.1" cy="653.6" r="0.68" fill="rgb(80,80,80)"/><circle cx="185.5" cy="609.6" r="0.94" fill="rgb(10,10,10)"/><circle cx="504.1" cy="603.5" r="0.52" fill="rgb(105,105,105)"/><circle cx="173.0" cy="586.5" r="0.55" fill="rgb(90,90,90)"/><circle cx="245.8" cy="620.7" r="0.50" fill="rgb(105,105,105)"/><circle cx="356.1" cy="634.8" r="0.67" fill="rgb(40,40,40)"/><circle cx="234.2" cy="657.9" r="0.57" fill="rgb(105,105,105)"/><circle cx="373.4" cy="624.9" r="0.54" fill="rgb(90,90,90)"/><circle cx="638.4" cy="513.7" r="0.48" fill="rgb(120,120,120)"/><circle cx="226.2" cy="642.5" r="1.01" fill="rgb(10,10,10)"/><circle cx="365.9" cy="632.0" r="0.55" fill="rgb(105,105,105)"/><circle cx="453.5" cy="637.5" r="0.51" fill="rgb(120,120,120)"/><circle cx="123.2" cy="649.1" r="0.73" fill="rgb(60,60,60)"/><circle cx="138.6" cy="613.2" r="0.52" fill="rgb(105,105,105)"/><circle cx="522.7" cy="547.2" r="0.63" fill="rgb(80,80,80)"/><circle cx="637.9" cy="617.7" r="0.54" fill="rgb(90,90,90)"/><circle cx="444.2" cy="563.7" r="0.64" fill="rgb(60,60,60)"/><circle cx="175.5" cy="627.7" r="1.01" fill="rgb(0,0,0)"/><circle cx="401.0" cy="603.1" r="0.74" fill="rgb(60,60,60)"/><circle cx="583.9" cy="584.5" r="0.55" fill="rgb(105,105,105)"/><circle cx="451.9" cy="608.1" r="0.57" fill="rgb(120,120,120)"/><circle cx="283.5" cy="561.5" r="0.52" fill="rgb(120,120,120)"/><circle cx="564.3" cy="499.1" r="1.09" fill="rgb(20,20,20)"/><circle cx="316.8" cy="571.0" r="0.50" fill="rgb(105,105,105)"/><circle cx="511.0" cy="543.4" r="0.49" fill="rgb(120,120,120)"/><circle cx="497.6" cy="625.4" r="0.49" fill="rgb(120,120,120)"/><circle cx="622.2" cy="617.6" r="0.69" fill="rgb(80,80,80)"/><circle cx="431.6" cy="629.3" r="0.73" fill="rgb(60,60,60)"/><circle cx="645.6" cy="520.7" r="0.58" fill="rgb(120,120,120)"/><circle cx="632.4" cy="572.2" r="0.53" fill="rgb(105,105,105)"/><circle cx="340.4" cy="604.0" r="0.76" fill="rgb(60,60,60)"/><circle cx="675.1" cy="660.7" r="0.65" fill="rgb(40,40,40)"/><circle cx="437.7" cy="662.3" r="0.63" fill="rgb(80,80,80)"/><circle cx="660.9" cy="540.8" r="0.54" fill="rgb(105,105,105)"/><circle cx="390.1" cy="585.0" r="0.51" fill="rgb(120,120,120)"/><circle cx="509.4" cy="599.1" r="0.57" fill="rgb(105,105,105)"/><circle cx="660.0" cy="513.2" r="1.05" fill="rgb(10,10,10)"/><circle cx="295.2" cy="585.2" r="0.52" fill="rgb(120,120,120)"/><circle cx="352.5" cy="597.4" r="0.57" fill="rgb(120,120,120)"/><circle cx="251.0" cy="592.8" r="0.56" fill="rgb(120,120,120)"/><circle cx="535.2" cy="636.5" r="0.53" fill="rgb(105,105,105)"/><circle cx="331.8" cy="560.8" r="0.75" fill="rgb(60,60,60)"/><circle cx="402.9" cy="585.7" r="0.55" fill="rgb(120,120,120)"/><circle cx="606.0" cy="497.5" r="0.53" fill="rgb(90,90,90)"/><circle cx="385.1" cy="539.4" r="0.51" fill="rgb(90,90,90)"/><circle cx="124.9" cy="625.3" r="0.52" fill="rgb(90,90,90)"/><circle cx="414.0" cy="534.2" r="0.58" fill="rgb(105,105,105)"/><circle cx="610.8" cy="625.8" r="0.63" fill="rgb(80,80,80)"/><circle cx="303.5" cy="637.3" r="0.69" fill="rgb(60,60,60)"/><circle cx="464.1" cy="621.9" r="0.52" fill="rgb(120,120,120)"/><circle cx="591.8" cy="531.1" r="0.57" fill="rgb(90,90,90)"/><circle cx="685.6" cy="631.9" r="0.54" fill="rgb(120,120,120)"/><circle cx="689.2" cy="636.8" r="0.49" fill="rgb(120,120,120)"/><circle cx="576.5" cy="520.5" r="0.55" fill="rgb(120,120,120)"/><circle cx="438.0" cy="615.3" r="0.48" fill="rgb(105,105,105)"/><circle cx="613.3" cy="585.0" r="0.70" fill="rgb(60,60,60)"/><circle cx="367.6" cy="582.1" r="0.56" fill="rgb(105,105,105)"/><circle cx="381.0" cy="650.8" r="0.93" fill="rgb(10,10,10)"/><circle cx="520.9" cy="529.8" r="0.67" fill="rgb(60,60,60)"/><circle cx="435.1" cy="643.0" r="0.52" fill="rgb(90,90,90)"/><circle cx="672.3" cy="564.8" r="0.54" fill="rgb(105,105,105)"/><circle cx="588.2" cy="582.7" r="0.75" fill="rgb(80,80,80)"/><circle cx="680.0" cy="578.1" r="0.96" fill="rgb(0,0,0)"/><circle cx="515.6" cy="584.8" r="0.72" fill="rgb(80,80,80)"/><circle cx="497.1" cy="602.7" r="0.49" fill="rgb(120,120,120)"/><circle cx="496.7" cy="577.6" r="0.53" fill="rgb(90,90,90)"/><circle cx="667.9" cy="580.3" r="0.74" fill="rgb(60,60,60)"/><circle cx="424.0" cy="647.3" r="0.58" fill="rgb(120,120,120)"/><circle cx="611.5" cy="615.8" r="0.51" fill="rgb(120,120,120)"/><circle cx="577.2" cy="570.2" r="0.58" fill="rgb(120,120,120)"/><circle cx="575.2" cy="529.5" r="1.07" fill="rgb(20,20,20)"/><circle cx="520.6" cy="574.9" r="0.76" fill="rgb(60,60,60)"/><circle cx="674.4" cy="552.3" r="0.58" fill="rgb(120,120,120)"/><circle cx="654.7" cy="617.4" r="0.69" fill="rgb(40,40,40)"/><circle cx="289.1" cy="595.7" r="0.53" fill="rgb(120,120,120)"/><circle cx="560.1" cy="539.1" r="0.65" fill="rgb(60,60,60)"/><circle cx="301.9" cy="579.1" r="0.50" fill="rgb(120,120,120)"/><circle cx="548.6" cy="525.6" r="0.49" fill="rgb(120,120,120)"/><circle cx="277.5" cy="633.5" r="0.70" fill="rgb(60,60,60)"/><circle cx="347.4" cy="550.3" r="0.55" fill="rgb(90,90,90)"/><circle cx="397.1" cy="561.7" r="0.56" fill="rgb(105,105,105)"/><circle cx="645.0" cy="633.7" r="0.76" fill="rgb(60,60,60)"/><circle cx="669.2" cy="541.2" r="0.53" fill="rgb(90,90,90)"/><circle cx="599.2" cy="496.3" r="0.75" fill="rgb(80,80,80)"/><circle cx="590.0" cy="653.7" r="0.73" fill="rgb(80,80,80)"/><circle cx="313.6" cy="617.8" r="0.63" fill="rgb(80,80,80)"/><circle cx="337.3" cy="618.2" r="0.74" fill="rgb(40,40,40)"/><circle cx="310.1" cy="661.7" r="1.04" fill="rgb(10,10,10)"/><circle cx="334.0" cy="615.9" r="0.52" fill="rgb(105,105,105)"/><circle cx="347.1" cy="571.7" r="0.54" fill="rgb(105,105,105)"/><circle cx="255.0" cy="647.2" r="0.91" fill="rgb(10,10,10)"/><circle cx="268.8" cy="625.3" r="0.71" fill="rgb(80,80,80)"/><circle cx="633.4" cy="633.0" r="0.57" fill="rgb(90,90,90)"/><circle cx="548.5" cy="575.0" r="0.49" fill="rgb(90,90,90)"/><circle cx="501.7" cy="559.4" r="0.52" fill="rgb(90,90,90)"/><circle cx="627.2" cy="575.8" r="0.70" fill="rgb(60,60,60)"/><circle cx="223.0" cy="662.0" r="0.93" fill="rgb(0,0,0)"/><circle cx="544.1" cy="548.2" r="0.57" fill="rgb(90,90,90)"/><circle cx="374.8" cy="580.9" r="0.57" fill="rgb(105,105,105)"/><circle cx="647.5" cy="622.3" r="0.70" fill="rgb(40,40,40)"/><circle cx="615.2" cy="637.6" r="0.51" fill="rgb(105,105,105)"/><circle cx="667.0" cy="547.6" r="0.57" fill="rgb(105,105,105)"/><circle cx="688.3" cy="621.1" r="0.58" fill="rgb(105,105,105)"/><circle cx="399.7" cy="593.9" r="0.55" fill="rgb(120,120,120)"/><circle cx="227.6" cy="633.7" r="0.73" fill="rgb(60,60,60)"/><circle cx="597.6" cy="645.8" r="0.50" fill="rgb(105,105,105)"/><circle cx="418.4" cy="633.9" r="0.73" fill="rgb(60,60,60)"/><circle cx="282.7" cy="608.0" r="1.08" fill="rgb(10,10,10)"/><circle cx="130.9" cy="590.5" r="0.52" fill="rgb(105,105,105)"/><circle cx="123.0" cy="604.4" r="0.64" fill="rgb(40,40,40)"/><circle cx="654.1" cy="634.8" r="0.75" fill="rgb(80,80,80)"/><circle cx="493.5" cy="517.2" r="0.72" fill="rgb(40,40,40)"/><circle cx="562.8" cy="561.3" r="0.68" fill="rgb(40,40,40)"/><circle cx="475.9" cy="554.2" r="0.69" fill="rgb(80,80,80)"/><circle cx="689.0" cy="507.6" r="0.96" fill="rgb(0,0,0)"/><circle cx="205.4" cy="598.0" r="0.70" fill="rgb(80,80,80)"/><circle cx="372.2" cy="640.7" r="1.00" fill="rgb(20,20,20)"/><circle cx="615.3" cy="567.1" r="1.03" fill="rgb(20,20,20)"/><circle cx="607.8" cy="567.9" r="0.67" fill="rgb(80,80,80)"/><circle cx="439.2" cy="552.3" r="0.96" fill="rgb(20,20,20)"/><circle cx="657.4" cy="630.3" r="0.66" fill="rgb(80,80,80)"/><circle cx="269.9" cy="649.3" r="0.52" fill="rgb(105,105,105)"/><circle cx="446.7" cy="586.2" r="0.50" fill="rgb(90,90,90)"/><circle cx="214.8" cy="573.8" r="0.94" fill="rgb(0,0,0)"/><circle cx="285.2" cy="620.7" r="0.56" fill="rgb(90,90,90)"/><circle cx="396.9" cy="601.6" r="0.57" fill="rgb(90,90,90)"/><circle cx="166.0" cy="599.0" r="0.58" fill="rgb(120,120,120)"/><circle cx="259.6" cy="584.5" r="0.51" fill="rgb(105,105,105)"/><circle cx="671.1" cy="522.0" r="0.76" fill="rgb(60,60,60)"/><circle cx="574.7" cy="592.0" r="0.48" fill="rgb(105,105,105)"/><circle cx="459.5" cy="536.1" r="0.51" fill="rgb(105,105,105)"/><circle cx="358.0" cy="617.2" r="0.56" fill="rgb(90,90,90)"/><circle cx="655.6" cy="580.7" r="0.52" fill="rgb(105,105,105)"/><circle cx="178.7" cy="616.2" r="0.64" fill="rgb(80,80,80)"/><circle cx="204.6" cy="658.2" r="0.67" fill="rgb(40,40,40)"/><circle cx="315.8" cy="555.1" r="0.50" fill="rgb(90,90,90)"/><circle cx="403.8" cy="635.6" r="0.76" fill="rgb(60,60,60)"/><circle cx="392.5" cy="662.2" r="0.56" fill="rgb(120,120,120)"/><circle cx="431.9" cy="561.2" r="0.70" fill="rgb(60,60,60)"/><circle cx="516.6" cy="609.0" r="0.57" fill="rgb(105,105,105)"/><circle cx="379.0" cy="623.6" r="0.74" fill="rgb(60,60,60)"/><circle cx="673.7" cy="631.3" r="0.54" fill="rgb(105,105,105)"/><circle cx="372.8" cy="647.0" r="0.50" fill="rgb(120,120,120)"/><circle cx="685.7" cy="511.6" r="0.74" fill="rgb(80,80,80)"/><circle cx="562.4" cy="657.2" r="0.55" fill="rgb(90,90,90)"/><circle cx="141.1" cy="606.5" r="0.50" fill="rgb(120,120,120)"/><circle cx="552.7" cy="539.5" r="0.62" fill="rgb(60,60,60)"/><circle cx="484.0" cy="616.3" r="0.64" fill="rgb(80,80,80)"/><circle cx="225.8" cy="647.6" r="0.57" fill="rgb(105,105,105)"/><circle cx="456.9" cy="605.6" r="0.67" fill="rgb(80,80,80)"/><circle cx="504.8" cy="618.7" r="0.48" fill="rgb(120,120,120)"/><circle cx="597.5" cy="530.4" r="0.73" fill="rgb(60,60,60)"/><circle cx="583.3" cy="658.4" r="0.54" fill="rgb(120,120,120)"/><circle cx="294.5" cy="598.5" r="0.49" fill="rgb(90,90,90)"/><circle cx="241.1" cy="592.5" r="0.51" fill="rgb(120,120,120)"/><circle cx="585.2" cy="529.3" r="1.06" fill="rgb(20,20,20)"/><circle cx="456.0" cy="565.3" r="0.56" fill="rgb(105,105,105)"/><circle cx="599.0" cy="636.0" r="0.54" fill="rgb(90,90,90)"/><circle cx="489.6" cy="514.4" r="0.53" fill="rgb(120,120,120)"/><circle cx="676.9" cy="533.1" r="0.52" fill="rgb(120,120,120)"/><circle cx="411.8" cy="601.2" r="0.57" fill="rgb(120,120,120)"/><circle cx="519.8" cy="659.8" r="0.50" fill="rgb(105,105,105)"/><circle cx="387.6" cy="563.9" r="0.57" fill="rgb(120,120,120)"/><circle cx="643.9" cy="571.7" r="0.96" fill="rgb(0,0,0)"/><circle cx="438.1" cy="567.5" r="0.55" fill="rgb(90,90,90)"/><circle cx="539.2" cy="654.1" r="1.06" fill="rgb(20,20,20)"/><circle cx="547.2" cy="656.1" r="0.97" fill="rgb(10,10,10)"/><circle cx="375.1" cy="539.7" r="0.50" fill="rgb(105,105,105)"/><circle cx="614.6" cy="500.1" r="0.51" fill="rgb(105,105,105)"/><circle cx="289.9" cy="629.3" r="0.99" fill="rgb(20,20,20)"/><circle cx="667.3" cy="649.7" r="1.05" fill="rgb(10,10,10)"/><circle cx="273.9" cy="645.4" r="0.55" fill="rgb(105,105,105)"/><circle cx="566.5" cy="539.2" r="0.49" fill="rgb(120,120,120)"/><circle cx="512.1" cy="649.1" r="0.63" fill="rgb(40,40,40)"/><circle cx="637.2" cy="577.6" r="0.66" fill="rgb(40,40,40)"/><circle cx="524.1" cy="524.6" r="1.05" fill="rgb(0,0,0)"/><circle cx="569.2" cy="617.8" r="0.51" fill="rgb(90,90,90)"/><circle cx="510.8" cy="558.3" r="0.49" fill="rgb(120,120,120)"/><circle cx="688.1" cy="597.3" r="0.63" fill="rgb(40,40,40)"/><circle cx="128.4" cy="596.5" r="0.55" fill="rgb(120,120,120)"/><circle cx="520.4" cy="566.7" r="1.00" fill="rgb(0,0,0)"/><circle cx="541.9" cy="589.9" r="0.49" fill="rgb(105,105,105)"/><circle cx="325.1" cy="575.1" r="0.99" fill="rgb(10,10,10)"/><circle cx="636.4" cy="648.7" r="0.57" fill="rgb(120,120,120)"/><circle cx="478.2" cy="595.4" r="0.68" fill="rgb(40,40,40)"/><circle cx="406.8" cy="569.2" r="0.68" fill="rgb(40,40,40)"/><circle cx="589.7" cy="494.5" r="0.74" fill="rgb(40,40,40)"/><circle cx="266.8" cy="594.7" r="0.53" fill="rgb(105,105,105)"/><circle cx="568.4" cy="570.6" r="0.48" fill="rgb(90,90,90)"/><circle cx="472.2" cy="627.0" r="1.04" fill="rgb(10,10,10)"/><circle cx="527.8" cy="578.1" r="0.70" fill="rgb(40,40,40)"/><circle cx="504.4" cy="644.5" r="0.71" fill="rgb(80,80,80)"/><circle cx="602.3" cy="520.1" r="0.57" fill="rgb(120,120,120)"/><circle cx="411.7" cy="641.4" r="0.49" fill="rgb(90,90,90)"/><circle cx="170.3" cy="615.1" r="0.90" fill="rgb(10,10,10)"/><circle cx="611.4" cy="511.0" r="0.56" fill="rgb(120,120,120)"/><circle cx="468.7" cy="522.2" r="0.66" fill="rgb(60,60,60)"/><circle cx="314.8" cy="641.6" r="1.04" fill="rgb(10,10,10)"/><circle cx="200.0" cy="661.7" r="0.57" fill="rgb(90,90,90)"/><circle cx="228.8" cy="594.1" r="0.93" fill="rgb(10,10,10)"/><circle cx="389.3" cy="602.8" r="0.54" fill="rgb(90,90,90)"/><circle cx="135.2" cy="649.4" r="0.71" fill="rgb(60,60,60)"/><circle cx="638.3" cy="544.8" r="0.69" fill="rgb(80,80,80)"/><circle cx="249.0" cy="623.7" r="0.74" fill="rgb(40,40,40)"/><circle cx="605.5" cy="542.2" r="0.91" fill="rgb(20,20,20)"/><circle cx="321.7" cy="552.3" r="0.53" fill="rgb(105,105,105)"/><circle cx="392.2" cy="623.1" r="0.75" fill="rgb(80,80,80)"/><circle cx="668.0" cy="620.5" r="0.53" fill="rgb(90,90,90)"/><circle cx="326.0" cy="650.0" r="0.58" fill="rgb(90,90,90)"/><circle cx="509.0" cy="547.2" r="0.51" fill="rgb(105,105,105)"/><circle cx="584.8" cy="551.3" r="0.51" fill="rgb(105,105,105)"/><circle cx="488.3" cy="650.2" r="0.56" fill="rgb(90,90,90)"/><circle cx="297.1" cy="614.3" r="0.64" fill="rgb(80,80,80)"/><circle cx="535.6" cy="541.0" r="0.98" fill="rgb(0,0,0)"/><circle cx="428.3" cy="612.4" r="0.53" fill="rgb(120,120,120)"/><circle cx="201.9" cy="591.7" r="0.64" fill="rgb(40,40,40)"/><circle cx="362.2" cy="562.8" r="1.09" fill="rgb(20,20,20)"/><circle cx="189.9" cy="624.1" r="0.57" fill="rgb(105,105,105)"/><circle cx="329.8" cy="616.3" r="0.96" fill="rgb(0,0,0)"/><circle cx="169.1" cy="582.0" r="0.92" fill="rgb(20,20,20)"/><circle cx="632.5" cy="647.7" r="0.48" fill="rgb(120,120,120)"/><circle cx="176.7" cy="599.3" r="0.55" fill="rgb(105,105,105)"/><circle cx="562.1" cy="551.2" r="1.03" fill="rgb(0,0,0)"/><circle cx="678.0" cy="655.6" r="0.53" fill="rgb(90,90,90)"/><circle cx="631.2" cy="628.2" r="0.69" fill="rgb(60,60,60)"/><circle cx="259.1" cy="608.7" r="0.49" fill="rgb(105,105,105)"/><circle cx="622.1" cy="490.9" r="0.55" fill="rgb(90,90,90)"/><circle cx="684.1" cy="625.0" r="0.53" fill="rgb(90,90,90)"/><circle cx="688.0" cy="641.1" r="1.00" fill="rgb(0,0,0)"/><circle cx="524.0" cy="562.1" r="0.53" fill="rgb(90,90,90)"/><circle cx="535.8" cy="649.1" r="0.52" fill="rgb(90,90,90)"/><circle cx="209.2" cy="594.2" r="0.98" fill="rgb(0,0,0)"/><circle cx="238.3" cy="568.8" r="1.06" fill="rgb(0,0,0)"/><circle cx="374.4" cy="636.5" r="0.74" fill="rgb(40,40,40)"/><circle cx="668.4" cy="511.5" r="0.56" fill="rgb(90,90,90)"/><circle cx="607.2" cy="582.3" r="0.66" fill="rgb(40,40,40)"/><circle cx="397.6" cy="610.1" r="0.57" fill="rgb(120,120,120)"/><circle cx="291.7" cy="662.1" r="0.56" fill="rgb(120,120,120)"/><circle cx="598.0" cy="615.2" r="0.67" fill="rgb(40,40,40)"/><circle cx="182.3" cy="580.1" r="0.93" fill="rgb(10,10,10)"/><circle cx="469.7" cy="568.8" r="0.56" fill="rgb(90,90,90)"/><circle cx="601.8" cy="597.5" r="1.07" fill="rgb(10,10,10)"/><circle cx="417.5" cy="646.9" r="0.74" fill="rgb(80,80,80)"/><circle cx="495.2" cy="549.4" r="0.57" fill="rgb(90,90,90)"/><circle cx="245.8" cy="629.0" r="0.56" fill="rgb(120,120,120)"/><circle cx="534.4" cy="590.1" r="0.98" fill="rgb(10,10,10)"/><circle cx="583.2" cy="616.4" r="0.49" fill="rgb(120,120,120)"/><circle cx="490.3" cy="583.9" r="0.63" fill="rgb(40,40,40)"/><circle cx="136.0" cy="658.8" r="0.55" fill="rgb(90,90,90)"/><circle cx="620.3" cy="594.7" r="0.48" fill="rgb(105,105,105)"/><circle cx="668.1" cy="475.9" r="1.09" fill="rgb(10,10,10)"/><circle cx="131.3" cy="601.7" r="0.93" fill="rgb(0,0,0)"/><circle cx="470.6" cy="557.8" r="0.54" fill="rgb(105,105,105)"/><circle cx="463.5" cy="652.5" r="1.07" fill="rgb(0,0,0)"/><circle cx="217.8" cy="587.4" r="1.04" fill="rgb(20,20,20)"/><circle cx="624.9" cy="591.3" r="0.58" fill="rgb(105,105,105)"/><circle cx="519.9" cy="508.2" r="0.96" fill="rgb(10,10,10)"/><circle cx="649.7" cy="535.7" r="0.55" fill="rgb(105,105,105)"/><circle cx="433.5" cy="600.6" r="0.50" fill="rgb(90,90,90)"/><circle cx="162.3" cy="590.0" r="0.57" fill="rgb(120,120,120)"/><circle cx="601.6" cy="631.5" r="0.54" fill="rgb(90,90,90)"/><circle cx="468.0" cy="526.6" r="1.00" fill="rgb(20,20,20)"/><circle cx="335.5" cy="562.2" r="1.01" fill="rgb(0,0,0)"/><circle cx="578.7" cy="512.1" r="0.49" fill="rgb(90,90,90)"/><circle cx="145.5" cy="655.8" r="0.75" fill="rgb(40,40,40)"/><circle cx="162.8" cy="604.0" r="0.55" fill="rgb(120,120,120)"/><circle cx="542.8" cy="635.2" r="1.01" fill="rgb(20,20,20)"/><circle cx="231.4" cy="576.4" r="0.67" fill="rgb(80,80,80)"/><circle cx="431.0" cy="637.3" r="0.51" fill="rgb(90,90,90)"/><circle cx="602.8" cy="524.1" r="0.53" fill="rgb(90,90,90)"/><circle cx="466.9" cy="534.2" r="0.54" fill="rgb(120,120,120)"/><circle cx="438.3" cy="574.3" r="0.50" fill="rgb(105,105,105)"/><circle cx="142.5" cy="652.4" r="0.50" fill="rgb(105,105,105)"/><circle cx="233.8" cy="592.8" r="1.07" fill="rgb(20,20,20)"/><circle cx="210.5" cy="598.8" r="0.58" fill="rgb(105,105,105)"/><circle cx="188.7" cy="578.7" r="0.55" fill="rgb(120,120,120)"/><circle cx="451.3" cy="650.2" r="0.49" fill="rgb(105,105,105)"/><circle cx="568.8" cy="565.9" r="0.74" fill="rgb(40,40,40)"/><circle cx="367.0" cy="606.1" r="0.53" fill="rgb(120,120,120)"/><circle cx="411.7" cy="650.9" r="0.56" fill="rgb(90,90,90)"/><circle cx="443.5" cy="655.9" r="0.55" fill="rgb(120,120,120)"/><circle cx="676.7" cy="582.2" r="0.66" fill="rgb(40,40,40)"/><circle cx="214.5" cy="598.8" r="0.51" fill="rgb(90,90,90)"/><circle cx="591.6" cy="543.9" r="0.54" fill="rgb(105,105,105)"/><circle cx="414.9" cy="639.1" r="0.92" fill="rgb(0,0,0)"/><circle cx="628.3" cy="488.9" r="0.66" fill="rgb(60,60,60)"/><circle cx="424.4" cy="574.9" r="0.58" fill="rgb(90,90,90)"/><circle cx="638.9" cy="626.9" r="0.71" fill="rgb(60,60,60)"/><circle cx="582.3" cy="525.0" r="0.57" fill="rgb(120,120,120)"/><circle cx="510.4" cy="564.4" r="0.51" fill="rgb(120,120,120)"/><circle cx="326.7" cy="628.3" r="0.71" fill="rgb(60,60,60)"/><circle cx="280.4" cy="568.6" r="0.76" fill="rgb(60,60,60)"/><circle cx="473.4" cy="598.8" r="0.95" fill="rgb(20,20,20)"/><circle cx="669.2" cy="616.2" r="0.58" fill="rgb(90,90,90)"/><circle cx="144.3" cy="621.1" r="0.57" fill="rgb(90,90,90)"/><circle cx="517.2" cy="647.0" r="0.49" fill="rgb(105,105,105)"/><circle cx="588.7" cy="533.8" r="0.56" fill="rgb(105,105,105)"/><circle cx="119.6" cy="595.4" r="0.98" fill="rgb(20,20,20)"/><circle cx="572.1" cy="661.0" r="0.67" fill="rgb(60,60,60)"/><circle cx="677.0" cy="516.7" r="0.52" fill="rgb(90,90,90)"/><circle cx="309.7" cy="565.9" r="0.66" fill="rgb(60,60,60)"/><circle cx="504.1" cy="570.2" r="0.72" fill="rgb(40,40,40)"/><circle cx="121.1" cy="653.8" r="0.57" fill="rgb(105,105,105)"/><circle cx="460.9" cy="566.0" r="0.52" fill="rgb(90,90,90)"/><circle cx="428.0" cy="602.0" r="0.57" fill="rgb(120,120,120)"/><circle cx="268.0" cy="599.2" r="0.56" fill="rgb(105,105,105)"/><circle cx="311.3" cy="581.7" r="0.75" fill="rgb(60,60,60)"/><circle cx="549.4" cy="625.1" r="0.57" fill="rgb(120,120,120)"/><circle cx="633.8" cy="521.2" r="0.53" fill="rgb(105,105,105)"/><circle cx="666.3" cy="552.4" r="1.04" fill="rgb(10,10,10)"/><circle cx="274.7" cy="607.7" r="0.67" fill="rgb(60,60,60)"/><circle cx="626.1" cy="608.9" r="0.74" fill="rgb(80,80,80)"/><circle cx="252.7" cy="642.4" r="0.65" fill="rgb(40,40,40)"/><circle cx="511.0" cy="533.0" r="0.56" fill="rgb(90,90,90)"/><circle cx="293.9" cy="658.5" r="0.57" fill="rgb(120,120,120)"/><circle cx="423.3" cy="563.3" r="0.51" fill="rgb(120,120,120)"/><circle cx="362.2" cy="547.1" r="0.71" fill="rgb(60,60,60)"/><circle cx="560.1" cy="660.4" r="0.55" fill="rgb(105,105,105)"/><circle cx="492.7" cy="577.6" r="0.54" fill="rgb(120,120,120)"/><circle cx="418.7" cy="657.4" r="0.54" fill="rgb(120,120,120)"/><circle cx="298.8" cy="582.4" r="0.99" fill="rgb(0,0,0)"/><circle cx="218.2" cy="637.7" r="0.57" fill="rgb(105,105,105)"/><circle cx="513.1" cy="602.5" r="0.52" fill="rgb(105,105,105)"/><circle cx="682.0" cy="589.7" r="0.65" fill="rgb(40,40,40)"/><circle cx="603.3" cy="546.0" r="0.71" fill="rgb(40,40,40)"/><circle cx="630.1" cy="644.1" r="0.54" fill="rgb(105,105,105)"/><circle cx="561.6" cy="581.4" r="1.06" fill="rgb(20,20,20)"/><circle cx="321.1" cy="652.9" r="0.58" fill="rgb(105,105,105)"/><circle cx="541.8" cy="597.0" r="0.65" fill="rgb(80,80,80)"/><circle cx="498.1" cy="585.2" r="0.53" fill="rgb(90,90,90)"/><circle cx="273.1" cy="630.9" r="0.72" fill="rgb(60,60,60)"/><circle cx="580.4" cy="606.5" r="0.70" fill="rgb(80,80,80)"/><circle cx="673.7" cy="600.0" r="0.66" fill="rgb(40,40,40)"/><circle cx="466.8" cy="559.4" r="0.69" fill="rgb(80,80,80)"/><circle cx="431.8" cy="580.7" r="1.01" fill="rgb(10,10,10)"/><circle cx="234.1" cy="599.4" r="0.72" fill="rgb(60,60,60)"/><circle cx="341.7" cy="616.1" r="0.71" fill="rgb(40,40,40)"/><circle cx="122.7" cy="643.3" r="0.73" fill="rgb(40,40,40)"/><circle cx="617.3" cy="520.9" r="0.50" fill="rgb(105,105,105)"/><circle cx="607.4" cy="651.2" r="1.08" fill="rgb(10,10,10)"/><circle cx="355.2" cy="643.1" r="0.73" fill="rgb(40,40,40)"/><circle cx="573.0" cy="642.4" r="0.98" fill="rgb(20,20,20)"/><circle cx="146.4" cy="645.1" r="0.73" fill="rgb(80,80,80)"/><circle cx="571.8" cy="522.2" r="0.52" fill="rgb(90,90,90)"/><circle cx="555.1" cy="591.7" r="0.96" fill="rgb(20,20,20)"/><circle cx="447.4" cy="604.7" r="0.91" fill="rgb(20,20,20)"/><circle cx="670.2" cy="605.3" r="0.52" fill="rgb(105,105,105)"/><circle cx="662.0" cy="609.6" r="0.98" fill="rgb(10,10,10)"/><circle cx="213.3" cy="661.7" r="0.73" fill="rgb(80,80,80)"/><circle cx="290.7" cy="578.4" r="0.67" fill="rgb(40,40,40)"/><circle cx="641.8" cy="551.9" r="0.51" fill="rgb(105,105,105)"/><circle cx="255.9" cy="655.4" r="0.58" fill="rgb(120,120,120)"/><circle cx="542.0" cy="571.0" r="0.55" fill="rgb(120,120,120)"/><circle cx="600.9" cy="656.0" r="1.10" fill="rgb(0,0,0)"/><circle cx="683.4" cy="491.6" r="0.50" fill="rgb(120,120,120)"/><circle cx="571.8" cy="656.9" r="0.96" fill="rgb(10,10,10)"/><circle cx="206.0" cy="624.1" r="0.49" fill="rgb(120,120,120)"/><circle cx="246.8" cy="659.1" r="0.50" fill="rgb(105,105,105)"/><circle cx="497.9" cy="614.2" r="0.55" fill="rgb(105,105,105)"/><circle cx="135.7" cy="621.9" r="0.49" fill="rgb(90,90,90)"/><circle cx="169.1" cy="635.3" r="0.49" fill="rgb(120,120,120)"/><circle cx="369.4" cy="564.0" r="0.75" fill="rgb(40,40,40)"/><circle cx="342.2" cy="566.2" r="0.50" fill="rgb(120,120,120)"/><circle cx="315.6" cy="656.8" r="0.51" fill="rgb(120,120,120)"/><circle cx="664.5" cy="525.7" r="0.50" fill="rgb(90,90,90)"/><circle cx="524.9" cy="615.8" r="0.91" fill="rgb(20,20,20)"/><circle cx="372.4" cy="603.9" r="0.62" fill="rgb(80,80,80)"/><circle cx="657.5" cy="626.3" r="0.91" fill="rgb(20,20,20)"/><circle cx="539.1" cy="552.4" r="0.54" fill="rgb(120,120,120)"/><circle cx="376.4" cy="547.1" r="0.92" fill="rgb(10,10,10)"/><circle cx="668.4" cy="628.7" r="0.49" fill="rgb(105,105,105)"/><circle cx="667.9" cy="487.4" r="0.50" fill="rgb(120,120,120)"/><circle cx="369.3" cy="570.8" r="0.50" fill="rgb(105,105,105)"/><circle cx="621.7" cy="639.2" r="0.93" fill="rgb(0,0,0)"/><circle cx="385.1" cy="596.2" r="0.70" fill="rgb(60,60,60)"/><circle cx="547.8" cy="520.7" r="0.54" fill="rgb(105,105,105)"/><circle cx="513.5" cy="571.5" r="0.74" fill="rgb(80,80,80)"/><circle cx="649.9" cy="544.2" r="0.50" fill="rgb(90,90,90)"/><circle cx="595.4" cy="653.2" r="0.93" fill="rgb(10,10,10)"/><circle cx="566.7" cy="562.5" r="0.68" fill="rgb(60,60,60)"/><circle cx="274.2" cy="591.4" r="0.51" fill="rgb(105,105,105)"/><circle cx="236.0" cy="651.0" r="0.48" fill="rgb(105,105,105)"/><circle cx="536.6" cy="596.3" r="0.69" fill="rgb(40,40,40)"/><circle cx="534.3" cy="517.3" r="0.50" fill="rgb(105,105,105)"/><circle cx="289.6" cy="640.9" r="0.73" fill="rgb(60,60,60)"/><circle cx="486.5" cy="634.2" r="0.67" fill="rgb(60,60,60)"/><circle cx="153.7" cy="605.3" r="0.64" fill="rgb(60,60,60)"/><circle cx="468.2" cy="601.9" r="0.95" fill="rgb(20,20,20)"/><circle cx="184.0" cy="584.2" r="0.55" fill="rgb(120,120,120)"/><circle cx="514.4" cy="546.9" r="0.70" fill="rgb(80,80,80)"/><circle cx="677.6" cy="547.2" r="0.93" fill="rgb(20,20,20)"/><circle cx="178.6" cy="640.9" r="0.58" fill="rgb(120,120,120)"/><circle cx="236.7" cy="661.4" r="1.09" fill="rgb(10,10,10)"/><circle cx="401.6" cy="550.5" r="0.71" fill="rgb(80,80,80)"/><circle cx="297.5" cy="619.4" r="0.56" fill="rgb(105,105,105)"/><circle cx="456.0" cy="643.9" r="0.56" fill="rgb(90,90,90)"/><circle cx="239.0" cy="603.2" r="0.55" fill="rgb(120,120,120)"/><circle cx="412.4" cy="589.1" r="0.66" fill="rgb(40,40,40)"/><circle cx="197.2" cy="576.9" r="0.55" fill="rgb(90,90,90)"/><circle cx="551.1" cy="554.8" r="1.09" fill="rgb(10,10,10)"/><circle cx="520.6" cy="558.2" r="1.08" fill="rgb(0,0,0)"/><circle cx="637.1" cy="563.5" r="1.08" fill="rgb(20,20,20)"/><circle cx="424.5" cy="580.8" r="0.63" fill="rgb(80,80,80)"/><circle cx="399.8" cy="643.6" r="0.53" fill="rgb(120,120,120)"/><circle cx="555.9" cy="544.0" r="0.54" fill="rgb(120,120,120)"/><circle cx="172.7" cy="648.6" r="0.50" fill="rgb(90,90,90)"/><circle cx="383.5" cy="592.1" r="0.67" fill="rgb(40,40,40)"/><circle cx="685.2" cy="515.6" r="0.57" fill="rgb(90,90,90)"/><circle cx="282.5" cy="632.4" r="0.68" fill="rgb(40,40,40)"/><circle cx="245.1" cy="585.9" r="0.56" fill="rgb(120,120,120)"/><circle cx="493.7" cy="607.2" r="0.74" fill="rgb(80,80,80)"/><circle cx="218.2" cy="578.7" r="0.67" fill="rgb(80,80,80)"/><circle cx="596.2" cy="561.7" r="0.54" fill="rgb(90,90,90)"/><circle cx="482.1" cy="564.7" r="0.57" fill="rgb(90,90,90)"/><circle cx="246.1" cy="648.4" r="0.65" fill="rgb(80,80,80)"/><circle cx="424.9" cy="569.3" r="0.67" fill="rgb(40,40,40)"/><circle cx="604.9" cy="645.6" r="0.98" fill="rgb(20,20,20)"/><circle cx="311.9" cy="634.6" r="0.65" fill="rgb(40,40,40)"/><circle cx="337.9" cy="638.5" r="0.48" fill="rgb(90,90,90)"/><circle cx="397.9" cy="583.1" r="0.53" fill="rgb(105,105,105)"/><circle cx="381.0" cy="639.6" r="0.76" fill="rgb(60,60,60)"/><circle cx="454.4" cy="662.3" r="0.53" fill="rgb(120,120,120)"/><circle cx="444.7" cy="575.7" r="0.48" fill="rgb(120,120,120)"/><circle cx="656.2" cy="478.9" r="0.69" fill="rgb(60,60,60)"/><circle cx="155.2" cy="585.9" r="0.56" fill="rgb(105,105,105)"/><circle cx="157.7" cy="589.5" r="0.51" fill="rgb(120,120,120)"/><circle cx="386.6" cy="554.2" r="0.57" fill="rgb(90,90,90)"/><circle cx="645.3" cy="643.1" r="0.50" fill="rgb(120,120,120)"/><circle cx="632.8" cy="503.2" r="1.07" fill="rgb(10,10,10)"/><circle cx="616.6" cy="509.3" r="0.53" fill="rgb(105,105,105)"/><circle cx="682.6" cy="593.7" r="0.50" fill="rgb(105,105,105)"/><circle cx="647.9" cy="514.8" r="0.67" fill="rgb(80,80,80)"/><circle cx="375.1" cy="650.5" r="0.50" fill="rgb(105,105,105)"/><circle cx="366.4" cy="576.0" r="0.52" fill="rgb(120,120,120)"/><circle cx="214.4" cy="636.7" r="0.49" fill="rgb(105,105,105)"/><circle cx="503.9" cy="636.4" r="0.64" fill="rgb(60,60,60)"/><circle cx="220.7" cy="625.9" r="0.56" fill="rgb(120,120,120)"/><circle cx="189.3" cy="602.5" r="0.54" fill="rgb(105,105,105)"/><circle cx="359.0" cy="607.5" r="0.73" fill="rgb(40,40,40)"/><circle cx="563.6" cy="652.7" r="0.99" fill="rgb(10,10,10)"/><circle cx="379.5" cy="537.2" r="0.50" fill="rgb(120,120,120)"/><circle cx="496.9" cy="560.8" r="0.74" fill="rgb(40,40,40)"/><circle cx="673.6" cy="613.9" r="0.73" fill="rgb(60,60,60)"/><circle cx="620.8" cy="604.0" r="0.53" fill="rgb(105,105,105)"/><circle cx="471.2" cy="632.4" r="0.53" fill="rgb(120,120,120)"/><circle cx="652.7" cy="625.7" r="0.71" fill="rgb(60,60,60)"/><circle cx="654.2" cy="489.1" r="1.03" fill="rgb(0,0,0)"/><circle cx="440.4" cy="526.9" r="0.54" fill="rgb(90,90,90)"/><circle cx="173.8" cy="662.4" r="0.57" fill="rgb(105,105,105)"/><circle cx="671.7" cy="638.8" r="0.49" fill="rgb(105,105,105)"/><circle cx="650.3" cy="554.4" r="0.63" fill="rgb(80,80,80)"/><circle cx="657.2" cy="571.4" r="0.65" fill="rgb(80,80,80)"/><circle cx="420.1" cy="618.9" r="0.58" fill="rgb(105,105,105)"/><circle cx="132.8" cy="615.3" r="0.94" fill="rgb(10,10,10)"/><circle cx="583.8" cy="521.3" r="1.10" fill="rgb(20,20,20)"/><circle cx="595.2" cy="565.4" r="0.74" fill="rgb(60,60,60)"/><circle cx="369.7" cy="644.4" r="0.48" fill="rgb(90,90,90)"/><circle cx="657.0" cy="604.9" r="0.73" fill="rgb(40,40,40)"/><circle cx="437.1" cy="532.0" r="0.65" fill="rgb(40,40,40)"/><circle cx="435.6" cy="527.4" r="0.72" fill="rgb(60,60,60)"/><circle cx="362.6" cy="647.6" r="0.74" fill="rgb(60,60,60)"/><circle cx="426.5" cy="598.0" r="0.65" fill="rgb(80,80,80)"/><circle cx="239.9" cy="634.7" r="0.71" fill="rgb(40,40,40)"/><circle cx="662.6" cy="605.1" r="0.57" fill="rgb(90,90,90)"/><circle cx="385.6" cy="605.7" r="0.51" fill="rgb(120,120,120)"/><circle cx="310.8" cy="573.3" r="0.63" fill="rgb(40,40,40)"/><circle cx="386.7" cy="543.4" r="1.04" fill="rgb(20,20,20)"/><circle cx="450.0" cy="620.9" r="0.51" fill="rgb(90,90,90)"/><circle cx="256.7" cy="599.2" r="0.63" fill="rgb(40,40,40)"/><circle cx="199.7" cy="619.7" r="0.56" fill="rgb(105,105,105)"/><circle cx="377.1" cy="598.9" r="0.57" fill="rgb(90,90,90)"/><circle cx="151.7" cy="634.1" r="0.72" fill="rgb(40,40,40)"/><circle cx="556.7" cy="537.2" r="1.07" fill="rgb(10,10,10)"/><circle cx="286.5" cy="581.6" r="0.69" fill="rgb(60,60,60)"/><circle cx="268.0" cy="561.3" r="0.57" fill="rgb(105,105,105)"/><circle cx="620.0" cy="534.6" r="0.49" fill="rgb(105,105,105)"/><circle cx="680.2" cy="474.7" r="0.50" fill="rgb(90,90,90)"/><circle cx="387.3" cy="550.3" r="1.04" fill="rgb(10,10,10)"/><circle cx="656.3" cy="642.9" r="0.48" fill="rgb(120,120,120)"/><circle cx="579.5" cy="503.0" r="0.54" fill="rgb(120,120,120)"/><circle cx="591.3" cy="522.2" r="0.53" fill="rgb(120,120,120)"/><circle cx="150.5" cy="646.3" r="0.55" fill="rgb(120,120,120)"/><circle cx="514.9" cy="635.3" r="0.54" fill="rgb(90,90,90)"/><circle cx="200.1" cy="632.8" r="0.67" fill="rgb(60,60,60)"/><circle cx="522.4" cy="619.6" r="0.67" fill="rgb(60,60,60)"/><circle cx="514.5" cy="622.1" r="0.52" fill="rgb(90,90,90)"/><circle cx="277.6" cy="657.7" r="0.62" fill="rgb(60,60,60)"/><circle cx="607.9" cy="630.2" r="0.54" fill="rgb(105,105,105)"/><circle cx="124.7" cy="599.5" r="0.74" fill="rgb(60,60,60)"/><circle cx="484.5" cy="583.7" r="0.50" fill="rgb(120,120,120)"/><circle cx="611.5" cy="503.4" r="0.70" fill="rgb(80,80,80)"/><circle cx="251.5" cy="573.4" r="0.51" fill="rgb(105,105,105)"/><circle cx="154.1" cy="644.3" r="0.94" fill="rgb(20,20,20)"/><circle cx="380.4" cy="583.1" r="1.06" fill="rgb(20,20,20)"/><circle cx="423.7" cy="529.0" r="0.52" fill="rgb(105,105,105)"/><circle cx="337.2" cy="588.7" r="1.03" fill="rgb(10,10,10)"/><circle cx="642.5" cy="588.6" r="0.49" fill="rgb(90,90,90)"/><circle cx="680.4" cy="509.2" r="0.74" fill="rgb(40,40,40)"/><circle cx="142.4" cy="660.7" r="1.08" fill="rgb(20,20,20)"/><circle cx="478.0" cy="529.6" r="0.94" fill="rgb(20,20,20)"/><circle cx="615.6" cy="535.5" r="0.98" fill="rgb(10,10,10)"/><circle cx="190.5" cy="652.4" r="0.51" fill="rgb(120,120,120)"/><circle cx="496.1" cy="527.9" r="0.71" fill="rgb(60,60,60)"/><circle cx="500.7" cy="529.4" r="0.99" fill="rgb(0,0,0)"/><circle cx="466.2" cy="554.7" r="0.58" fill="rgb(90,90,90)"/><circle cx="409.2" cy="577.8" r="0.50" fill="rgb(120,120,120)"/><circle cx="305.6" cy="606.6" r="0.93" fill="rgb(10,10,10)"/><circle cx="421.3" cy="625.8" r="0.98" fill="rgb(20,20,20)"/><circle cx="483.1" cy="620.9" r="0.49" fill="rgb(105,105,105)"/><circle cx="344.9" cy="579.9" r="0.58" fill="rgb(105,105,105)"/><circle cx="262.1" cy="638.3" r="0.54" fill="rgb(90,90,90)"/><circle cx="322.1" cy="625.0" r="0.51" fill="rgb(105,105,105)"/><circle cx="631.2" cy="528.7" r="0.48" fill="rgb(90,90,90)"/><circle cx="462.8" cy="598.3" r="0.72" fill="rgb(40,40,40)"/><circle cx="578.8" cy="619.1" r="0.49" fill="rgb(120,120,120)"/><circle cx="622.5" cy="575.2" r="0.67" fill="rgb(60,60,60)"/><circle cx="158.9" cy="655.2" r="0.90" fill="rgb(10,10,10)"/><circle cx="352.5" cy="606.0" r="0.54" fill="rgb(120,120,120)"/><circle cx="159.8" cy="650.2" r="0.72" fill="rgb(60,60,60)"/><circle cx="301.1" cy="594.6" r="1.00" fill="rgb(10,10,10)"/><circle cx="299.0" cy="660.1" r="0.55" fill="rgb(105,105,105)"/><circle cx="607.7" cy="556.3" r="0.52" fill="rgb(90,90,90)"/><circle cx="584.7" cy="605.5" r="0.71" fill="rgb(40,40,40)"/><circle cx="565.0" cy="584.3" r="0.50" fill="rgb(90,90,90)"/><circle cx="543.0" cy="655.6" r="0.69" fill="rgb(80,80,80)"/><circle cx="677.6" cy="609.9" r="0.51" fill="rgb(90,90,90)"/><circle cx="544.5" cy="559.7" r="0.50" fill="rgb(120,120,120)"/><circle cx="387.9" cy="639.0" r="0.75" fill="rgb(40,40,40)"/><circle cx="313.1" cy="551.6" r="0.56" fill="rgb(105,105,105)"/><circle cx="579.8" cy="561.1" r="1.07" fill="rgb(10,10,10)"/><circle cx="431.6" cy="609.9" r="0.57" fill="rgb(90,90,90)"/><circle cx="640.6" cy="504.3" r="1.01" fill="rgb(0,0,0)"/><circle cx="484.1" cy="573.1" r="0.51" fill="rgb(105,105,105)"/><circle cx="473.4" cy="574.2" r="0.54" fill="rgb(120,120,120)"/><circle cx="305.3" cy="641.7" r="0.72" fill="rgb(80,80,80)"/><circle cx="382.2" cy="601.4" r="0.64" fill="rgb(80,80,80)"/><circle cx="578.7" cy="548.6" r="1.03" fill="rgb(20,20,20)"/><circle cx="223.8" cy="601.8" r="0.55" fill="rgb(105,105,105)"/><circle cx="429.4" cy="640.9" r="0.55" fill="rgb(120,120,120)"/><circle cx="625.1" cy="486.6" r="0.63" fill="rgb(60,60,60)"/><circle cx="598.4" cy="552.0" r="0.67" fill="rgb(80,80,80)"/><circle cx="643.2" cy="490.1" r="0.65" fill="rgb(80,80,80)"/><circle cx="616.4" cy="487.2" r="0.73" fill="rgb(60,60,60)"/><circle cx="305.2" cy="620.7" r="0.52" fill="rgb(105,105,105)"/><circle cx="636.1" cy="583.7" r="1.09" fill="rgb(10,10,10)"/><circle cx="482.5" cy="605.6" r="0.94" fill="rgb(20,20,20)"/><circle cx="431.4" cy="584.7" r="0.50" fill="rgb(90,90,90)"/><circle cx="465.4" cy="647.4" r="0.58" fill="rgb(120,120,120)"/><circle cx="286.8" cy="616.5" r="0.52" fill="rgb(105,105,105)"/><circle cx="492.8" cy="545.3" r="0.91" fill="rgb(0,0,0)"/><circle cx="621.7" cy="622.5" r="0.66" fill="rgb(60,60,60)"/><circle cx="241.0" cy="584.5" r="0.55" fill="rgb(120,120,120)"/><circle cx="525.1" cy="584.5" r="1.07" fill="rgb(0,0,0)"/><circle cx="584.1" cy="644.8" r="0.68" fill="rgb(60,60,60)"/><circle cx="260.6" cy="574.7" r="1.06" fill="rgb(0,0,0)"/><circle cx="378.9" cy="560.5" r="0.57" fill="rgb(105,105,105)"/><circle cx="597.0" cy="509.9" r="0.50" fill="rgb(105,105,105)"/><circle cx="332.0" cy="621.4" r="0.96" fill="rgb(0,0,0)"/><circle cx="267.8" cy="611.5" r="0.48" fill="rgb(120,120,120)"/><circle cx="349.2" cy="626.3" r="0.75" fill="rgb(40,40,40)"/><circle cx="399.8" cy="588.2" r="0.57" fill="rgb(120,120,120)"/><circle cx="546.1" cy="647.2" r="0.54" fill="rgb(105,105,105)"/><circle cx="357.3" cy="560.0" r="0.52" fill="rgb(120,120,120)"/><circle cx="555.8" cy="608.4" r="0.94" fill="rgb(10,10,10)"/><circle cx="259.4" cy="595.5" r="0.57" fill="rgb(90,90,90)"/><circle cx="277.2" cy="579.4" r="0.50" fill="rgb(105,105,105)"/><circle cx="575.1" cy="646.3" r="0.57" fill="rgb(120,120,120)"/><circle cx="641.3" cy="519.4" r="0.53" fill="rgb(120,120,120)"/><circle cx="390.7" cy="627.0" r="0.56" fill="rgb(105,105,105)"/><circle cx="305.3" cy="554.0" r="0.74" fill="rgb(60,60,60)"/><circle cx="564.1" cy="578.0" r="0.65" fill="rgb(80,80,80)"/><circle cx="339.8" cy="585.1" r="1.07" fill="rgb(10,10,10)"/><circle cx="541.6" cy="629.2" r="1.02" fill="rgb(10,10,10)"/><circle cx="688.3" cy="576.7" r="0.55" fill="rgb(120,120,120)"/><circle cx="295.3" cy="609.9" r="1.08" fill="rgb(20,20,20)"/><circle cx="382.2" cy="627.5" r="0.57" fill="rgb(90,90,90)"/><circle cx="646.1" cy="637.8" r="0.54" fill="rgb(90,90,90)"/><circle cx="144.7" cy="602.8" r="0.68" fill="rgb(60,60,60)"/><circle cx="632.1" cy="493.5" r="0.71" fill="rgb(40,40,40)"/><circle cx="408.6" cy="532.8" r="0.75" fill="rgb(80,80,80)"/><circle cx="324.3" cy="588.0" r="0.49" fill="rgb(90,90,90)"/><circle cx="125.1" cy="620.9" r="0.52" fill="rgb(120,120,120)"/><circle cx="138.4" cy="652.4" r="0.56" fill="rgb(120,120,120)"/><circle cx="151.5" cy="600.8" r="1.02" fill="rgb(0,0,0)"/><circle cx="488.0" cy="661.8" r="0.69" fill="rgb(60,60,60)"/><circle cx="489.5" cy="645.4" r="0.76" fill="rgb(80,80,80)"/><circle cx="609.7" cy="658.3" r="0.48" fill="rgb(105,105,105)"/><circle cx="521.9" cy="625.2" r="0.52" fill="rgb(105,105,105)"/><circle cx="522.9" cy="638.6" r="0.49" fill="rgb(105,105,105)"/><circle cx="349.0" cy="644.9" r="0.74" fill="rgb(40,40,40)"/><circle cx="416.8" cy="594.5" r="0.72" fill="rgb(40,40,40)"/><circle cx="442.5" cy="662.1" r="0.49" fill="rgb(105,105,105)"/><circle cx="612.4" cy="654.6" r="0.51" fill="rgb(105,105,105)"/><circle cx="394.4" cy="566.6" r="0.62" fill="rgb(80,80,80)"/><circle cx="527.0" cy="652.5" r="0.63" fill="rgb(40,40,40)"/><circle cx="676.4" cy="647.8" r="0.54" fill="rgb(120,120,120)"/><circle cx="248.0" cy="581.7" r="0.76" fill="rgb(80,80,80)"/><circle cx="367.5" cy="548.4" r="0.65" fill="rgb(60,60,60)"/><circle cx="222.6" cy="572.1" r="0.51" fill="rgb(90,90,90)"/><circle cx="307.7" cy="628.1" r="0.67" fill="rgb(40,40,40)"/><circle cx="481.5" cy="520.6" r="0.73" fill="rgb(80,80,80)"/><circle cx="350.7" cy="640.7" r="0.48" fill="rgb(120,120,120)"/><circle cx="549.8" cy="637.2" r="0.50" fill="rgb(105,105,105)"/><circle cx="201.5" cy="654.8" r="1.08" fill="rgb(10,10,10)"/><circle cx="292.6" cy="574.2" r="0.70" fill="rgb(80,80,80)"/><circle cx="584.1" cy="594.5" r="0.57" fill="rgb(105,105,105)"/><circle cx="594.9" cy="637.5" r="0.51" fill="rgb(120,120,120)"/><circle cx="641.7" cy="578.8" r="0.49" fill="rgb(120,120,120)"/><circle cx="189.4" cy="610.6" r="0.52" fill="rgb(90,90,90)"/><circle cx="196.0" cy="621.3" r="0.56" fill="rgb(105,105,105)"/><circle cx="325.7" cy="597.1" r="0.54" fill="rgb(90,90,90)"/><circle cx="546.1" cy="542.1" r="0.97" fill="rgb(0,0,0)"/><circle cx="649.6" cy="648.5" r="1.07" fill="rgb(0,0,0)"/><circle cx="338.9" cy="650.4" r="0.48" fill="rgb(90,90,90)"/><circle cx="337.4" cy="546.7" r="0.70" fill="rgb(60,60,60)"/><circle cx="671.9" cy="573.0" r="0.50" fill="rgb(105,105,105)"/><circle cx="350.6" cy="565.5" r="0.48" fill="rgb(90,90,90)"/><circle cx="290.0" cy="650.9" r="0.58" fill="rgb(120,120,120)"/><circle cx="486.1" cy="569.3" r="0.93" fill="rgb(10,10,10)"/><circle cx="687.3" cy="476.7" r="0.54" fill="rgb(120,120,120)"/><circle cx="457.5" cy="577.3" r="0.66" fill="rgb(80,80,80)"/><circle cx="613.5" cy="518.7" r="0.54" fill="rgb(120,120,120)"/><circle cx="577.9" cy="599.8" r="0.56" fill="rgb(90,90,90)"/><circle cx="495.3" cy="640.7" r="1.01" fill="rgb(10,10,10)"/><circle cx="651.7" cy="659.3" r="0.50" fill="rgb(105,105,105)"/><circle cx="306.6" cy="593.3" r="0.51" fill="rgb(90,90,90)"/><circle cx="333.6" cy="637.2" r="0.97" fill="rgb(20,20,20)"/><circle cx="550.3" cy="500.9" r="0.66" fill="rgb(40,40,40)"/><circle cx="627.8" cy="630.9" r="0.54" fill="rgb(120,120,120)"/><circle cx="441.3" cy="596.6" r="0.55" fill="rgb(105,105,105)"/><circle cx="367.5" cy="628.4" r="0.54" fill="rgb(105,105,105)"/><circle cx="482.3" cy="548.4" r="0.96" fill="rgb(20,20,20)"/><circle cx="372.1" cy="567.2" r="0.49" fill="rgb(90,90,90)"/><circle cx="374.4" cy="608.9" r="0.51" fill="rgb(90,90,90)"/><circle cx="499.9" cy="534.0" r="0.91" fill="rgb(10,10,10)"/><circle cx="558.1" cy="648.4" r="0.73" fill="rgb(80,80,80)"/><circle cx="294.8" cy="558.1" r="0.74" fill="rgb(40,40,40)"/><circle cx="520.2" cy="534.4" r="0.52" fill="rgb(105,105,105)"/><circle cx="462.5" cy="586.9" r="0.56" fill="rgb(105,105,105)"/><circle cx="610.6" cy="531.2" r="0.73" fill="rgb(40,40,40)"/><circle cx="635.3" cy="569.4" r="0.57" fill="rgb(90,90,90)"/><circle cx="206.2" cy="619.6" r="0.53" fill="rgb(120,120,120)"/><circle cx="404.7" cy="591.1" r="0.72" fill="rgb(60,60,60)"/><circle cx="681.3" cy="582.8" r="0.96" fill="rgb(0,0,0)"/><circle cx="447.7" cy="615.4" r="0.64" fill="rgb(80,80,80)"/><circle cx="423.0" cy="593.9" r="0.49" fill="rgb(105,105,105)"/><circle cx="445.4" cy="559.7" r="0.67" fill="rgb(80,80,80)"/><circle cx="411.2" cy="556.6" r="0.50" fill="rgb(105,105,105)"/><circle cx="577.8" cy="538.5" r="0.74" fill="rgb(40,40,40)"/><circle cx="162.4" cy="597.4" r="0.57" fill="rgb(120,120,120)"/><circle cx="579.4" cy="589.7" r="1.08" fill="rgb(20,20,20)"/><circle cx="284.4" cy="585.5" r="0.55" fill="rgb(90,90,90)"/><circle cx="365.5" cy="609.8" r="0.51" fill="rgb(120,120,120)"/><circle cx="494.0" cy="586.5" r="1.04" fill="rgb(0,0,0)"/><circle cx="265.0" cy="614.8" r="0.92" fill="rgb(10,10,10)"/><circle cx="678.4" cy="586.9" r="0.72" fill="rgb(80,80,80)"/><circle cx="138.1" cy="634.0" r="0.57" fill="rgb(120,120,120)"/><circle cx="525.4" cy="568.1" r="0.52" fill="rgb(90,90,90)"/><circle cx="657.9" cy="614.2" r="0.68" fill="rgb(80,80,80)"/><circle cx="518.8" cy="563.1" r="0.73" fill="rgb(60,60,60)"/><circle cx="656.6" cy="584.5" r="0.67" fill="rgb(60,60,60)"/><circle cx="463.0" cy="614.9" r="0.68" fill="rgb(40,40,40)"/><circle cx="580.2" cy="646.8" r="0.55" fill="rgb(90,90,90)"/><circle cx="564.2" cy="617.0" r="0.52" fill="rgb(90,90,90)"/><circle cx="688.2" cy="661.9" r="0.58" fill="rgb(105,105,105)"/><circle cx="307.5" cy="636.3" r="0.52" fill="rgb(90,90,90)"/><circle cx="528.9" cy="648.2" r="0.51" fill="rgb(120,120,120)"/><circle cx="630.8" cy="555.5" r="0.51" fill="rgb(120,120,120)"/><circle cx="486.5" cy="653.8" r="0.55" fill="rgb(120,120,120)"/><circle cx="537.8" cy="627.3" r="1.01" fill="rgb(0,0,0)"/><circle cx="541.3" cy="617.9" r="0.90" fill="rgb(10,10,10)"/><circle cx="618.3" cy="590.5" r="0.68" fill="rgb(40,40,40)"/><circle cx="630.4" cy="518.2" r="1.01" fill="rgb(20,20,20)"/><circle cx="553.1" cy="577.3" r="1.02" fill="rgb(20,20,20)"/><circle cx="204.8" cy="636.4" r="0.54" fill="rgb(105,105,105)"/><circle cx="121.3" cy="627.2" r="0.49" fill="rgb(120,120,120)"/><circle cx="172.1" cy="642.2" r="0.56" fill="rgb(105,105,105)"/><circle cx="294.5" cy="603.9" r="0.51" fill="rgb(105,105,105)"/><circle cx="318.4" cy="633.7" r="0.50" fill="rgb(120,120,120)"/><circle cx="372.9" cy="613.9" r="0.71" fill="rgb(80,80,80)"/><circle cx="342.9" cy="570.6" r="0.58" fill="rgb(105,105,105)"/><circle cx="460.0" cy="647.7" r="0.56" fill="rgb(105,105,105)"/><circle cx="276.5" cy="640.8" r="0.67" fill="rgb(40,40,40)"/><circle cx="639.4" cy="655.9" r="0.74" fill="rgb(40,40,40)"/><circle cx="585.3" cy="494.7" r="0.57" fill="rgb(90,90,90)"/><circle cx="397.3" cy="622.4" r="0.94" fill="rgb(20,20,20)"/><circle cx="306.1" cy="587.3" r="0.53" fill="rgb(90,90,90)"/><circle cx="398.1" cy="556.1" r="1.00" fill="rgb(0,0,0)"/><circle cx="326.7" cy="613.6" r="1.03" fill="rgb(0,0,0)"/><circle cx="313.5" cy="598.8" r="0.73" fill="rgb(40,40,40)"/><circle cx="473.2" cy="587.0" r="0.71" fill="rgb(40,40,40)"/><circle cx="515.7" cy="626.2" r="0.72" fill="rgb(60,60,60)"/><circle cx="315.3" cy="574.9" r="0.68" fill="rgb(60,60,60)"/><circle cx="166.1" cy="623.7" r="0.51" fill="rgb(90,90,90)"/><circle cx="625.8" cy="654.1" r="0.55" fill="rgb(105,105,105)"/><circle cx="605.4" cy="661.8" r="0.73" fill="rgb(60,60,60)"/><circle cx="272.2" cy="570.4" r="0.54" fill="rgb(90,90,90)"/><circle cx="147.5" cy="623.7" r="0.74" fill="rgb(40,40,40)"/><circle cx="283.2" cy="594.7" r="0.58" fill="rgb(90,90,90)"/><circle cx="652.7" cy="621.5" r="0.48" fill="rgb(90,90,90)"/><circle cx="375.9" cy="586.2" r="0.58" fill="rgb(105,105,105)"/><circle cx="587.2" cy="564.3" r="0.52" fill="rgb(120,120,120)"/><circle cx="605.8" cy="589.7" r="0.57" fill="rgb(120,120,120)"/><circle cx="307.7" cy="597.2" r="0.90" fill="rgb(10,10,10)"/><circle cx="501.0" cy="658.2" r="0.55" fill="rgb(120,120,120)"/><circle cx="540.8" cy="502.8" r="0.50" fill="rgb(120,120,120)"/><circle cx="269.4" cy="591.4" r="0.71" fill="rgb(60,60,60)"/><circle cx="167.9" cy="609.8" r="0.57" fill="rgb(105,105,105)"/><circle cx="197.4" cy="613.3" r="0.96" fill="rgb(0,0,0)"/><circle cx="329.6" cy="584.4" r="0.49" fill="rgb(105,105,105)"/><circle cx="516.1" cy="631.3" r="1.03" fill="rgb(10,10,10)"/><circle cx="215.1" cy="605.6" r="0.96" fill="rgb(10,10,10)"/><circle cx="184.8" cy="641.8" r="0.54" fill="rgb(105,105,105)"/><circle cx="686.8" cy="528.8" r="0.90" fill="rgb(0,0,0)"/><circle cx="639.7" cy="609.6" r="1.05" fill="rgb(20,20,20)"/><circle cx="365.5" cy="544.0" r="0.63" fill="rgb(80,80,80)"/><circle cx="670.7" cy="652.7" r="0.53" fill="rgb(120,120,120)"/><circle cx="593.7" cy="661.2" r="0.71" fill="rgb(40,40,40)"/><circle cx="334.3" cy="572.6" r="0.57" fill="rgb(105,105,105)"/><circle cx="175.3" cy="654.2" r="0.64" fill="rgb(60,60,60)"/><circle cx="203.9" cy="602.9" r="0.51" fill="rgb(105,105,105)"/><circle cx="333.3" cy="566.1" r="0.69" fill="rgb(40,40,40)"/><circle cx="468.2" cy="625.3" r="0.49" fill="rgb(90,90,90)"/><circle cx="497.8" cy="519.1" r="0.64" fill="rgb(80,80,80)"/><circle cx="128.1" cy="612.7" r="0.65" fill="rgb(60,60,60)"/><circle cx="298.5" cy="555.9" r="0.55" fill="rgb(120,120,120)"/><circle cx="524.6" cy="535.9" r="0.66" fill="rgb(40,40,40)"/><circle cx="544.1" cy="661.3" r="0.64" fill="rgb(60,60,60)"/><circle cx="180.5" cy="608.9" r="0.50" fill="rgb(90,90,90)"/><circle cx="393.3" cy="598.8" r="0.69" fill="rgb(80,80,80)"/><circle cx="568.8" cy="651.9" r="0.58" fill="rgb(105,105,105)"/><circle cx="156.3" cy="598.9" r="0.74" fill="rgb(40,40,40)"/><circle cx="481.0" cy="662.1" r="0.72" fill="rgb(40,40,40)"/><circle cx="647.4" cy="606.7" r="0.67" fill="rgb(40,40,40)"/><circle cx="662.6" cy="555.0" r="0.68" fill="rgb(40,40,40)"/><circle cx="481.8" cy="588.7" r="0.57" fill="rgb(90,90,90)"/><circle cx="536.0" cy="569.9" r="0.66" fill="rgb(40,40,40)"/><circle cx="684.3" cy="567.0" r="0.54" fill="rgb(105,105,105)"/><circle cx="207.6" cy="610.2" r="0.74" fill="rgb(40,40,40)"/><circle cx="185.1" cy="662.0" r="0.55" fill="rgb(90,90,90)"/><circle cx="185.1" cy="595.9" r="0.71" fill="rgb(40,40,40)"/><circle cx="617.2" cy="552.7" r="1.05" fill="rgb(20,20,20)"/><circle cx="541.4" cy="642.6" r="0.55" fill="rgb(90,90,90)"/><circle cx="520.4" cy="612.4" r="0.49" fill="rgb(90,90,90)"/><circle cx="384.7" cy="634.0" r="0.56" fill="rgb(120,120,120)"/><circle cx="483.7" cy="558.5" r="0.69" fill="rgb(80,80,80)"/><circle cx="473.4" cy="534.1" r="0.57" fill="rgb(90,90,90)"/><circle cx="508.8" cy="521.0" r="0.94" fill="rgb(0,0,0)"/><circle cx="493.1" cy="637.0" r="0.50" fill="rgb(90,90,90)"/><circle cx="639.2" cy="556.2" r="0.72" fill="rgb(60,60,60)"/><circle cx="369.6" cy="558.6" r="0.93" fill="rgb(0,0,0)"/><circle cx="164.3" cy="653.0" r="0.50" fill="rgb(105,105,105)"/><circle cx="419.8" cy="584.7" r="0.51" fill="rgb(120,120,120)"/><circle cx="588.8" cy="632.5" r="0.75" fill="rgb(40,40,40)"/><circle cx="504.5" cy="511.0" r="0.67" fill="rgb(60,60,60)"/><circle cx="555.7" cy="660.5" r="0.50" fill="rgb(90,90,90)"/><circle cx="635.5" cy="526.8" r="0.57" fill="rgb(120,120,120)"/><circle cx="681.7" cy="610.0" r="0.74" fill="rgb(80,80,80)"/><circle cx="148.2" cy="614.6" r="0.62" fill="rgb(40,40,40)"/><circle cx="275.3" cy="583.5" r="0.54" fill="rgb(105,105,105)"/><circle cx="474.4" cy="607.9" r="1.05" fill="rgb(20,20,20)"/><circle cx="207.7" cy="601.6" r="0.55" fill="rgb(105,105,105)"/><circle cx="565.6" cy="629.2" r="0.67" fill="rgb(40,40,40)"/><circle cx="679.4" cy="487.1" r="0.68" fill="rgb(60,60,60)"/><circle cx="590.8" cy="628.0" r="0.91" fill="rgb(0,0,0)"/><circle cx="455.9" cy="538.7" r="0.57" fill="rgb(120,120,120)"/><circle cx="173.9" cy="580.9" r="0.68" fill="rgb(80,80,80)"/><circle cx="442.3" cy="534.9" r="0.69" fill="rgb(60,60,60)"/><circle cx="554.0" cy="644.5" r="0.73" fill="rgb(60,60,60)"/><circle cx="304.4" cy="563.8" r="0.70" fill="rgb(40,40,40)"/><circle cx="580.5" cy="495.0" r="0.52" fill="rgb(90,90,90)"/><circle cx="569.6" cy="545.8" r="0.96" fill="rgb(0,0,0)"/><circle cx="659.9" cy="522.3" r="0.56" fill="rgb(90,90,90)"/><circle cx="338.5" cy="555.9" r="0.55" fill="rgb(90,90,90)"/><circle cx="424.7" cy="617.6" r="0.70" fill="rgb(60,60,60)"/><circle cx="437.6" cy="620.4" r="0.64" fill="rgb(60,60,60)"/><circle cx="451.3" cy="523.4" r="0.57" fill="rgb(120,120,120)"/><circle cx="164.7" cy="593.5" r="0.57" fill="rgb(90,90,90)"/><circle cx="612.3" cy="630.9" r="0.95" fill="rgb(10,10,10)"/><circle cx="407.8" cy="647.7" r="0.49" fill="rgb(105,105,105)"/><circle cx="399.1" cy="614.8" r="1.04" fill="rgb(0,0,0)"/><circle cx="233.5" cy="615.4" r="0.68" fill="rgb(40,40,40)"/><circle cx="426.5" cy="652.3" r="0.49" fill="rgb(105,105,105)"/><circle cx="522.0" cy="604.0" r="0.50" fill="rgb(90,90,90)"/><circle cx="271.3" cy="579.1" r="0.52" fill="rgb(105,105,105)"/><circle cx="504.1" cy="522.6" r="0.66" fill="rgb(40,40,40)"/><circle cx="302.6" cy="574.6" r="0.52" fill="rgb(120,120,120)"/><circle cx="618.9" cy="513.9" r="0.51" fill="rgb(105,105,105)"/><circle cx="673.8" cy="594.4" r="0.74" fill="rgb(60,60,60)"/><circle cx="563.8" cy="573.5" r="0.96" fill="rgb(0,0,0)"/><circle cx="447.8" cy="539.9" r="0.91" fill="rgb(10,10,10)"/><circle cx="358.2" cy="554.6" r="0.66" fill="rgb(60,60,60)"/><circle cx="351.3" cy="635.8" r="0.50" fill="rgb(90,90,90)"/><circle cx="573.7" cy="573.7" r="0.52" fill="rgb(90,90,90)"/><circle cx="440.0" cy="608.8" r="1.01" fill="rgb(10,10,10)"/><circle cx="189.9" cy="595.0" r="0.53" fill="rgb(105,105,105)"/><circle cx="149.2" cy="639.5" r="0.51" fill="rgb(120,120,120)"/><circle cx="681.1" cy="649.5" r="0.71" fill="rgb(80,80,80)"/><circle cx="686.4" cy="651.8" r="0.48" fill="rgb(120,120,120)"/><circle cx="684.5" cy="487.5" r="0.66" fill="rgb(60,60,60)"/><circle cx="416.4" cy="605.1" r="0.57" fill="rgb(120,120,120)"/><circle cx="325.6" cy="603.0" r="0.96" fill="rgb(10,10,10)"/><circle cx="290.5" cy="646.2" r="1.07" fill="rgb(10,10,10)"/><circle cx="610.4" cy="526.8" r="0.49" fill="rgb(120,120,120)"/><circle cx="664.9" cy="516.5" r="0.50" fill="rgb(120,120,120)"/><circle cx="605.0" cy="606.2" r="0.94" fill="rgb(10,10,10)"/><circle cx="146.3" cy="627.6" r="0.52" fill="rgb(120,120,120)"/><circle cx="509.8" cy="654.8" r="0.76" fill="rgb(80,80,80)"/><circle cx="476.8" cy="615.0" r="0.97" fill="rgb(0,0,0)"/><circle cx="494.0" cy="536.2" r="0.71" fill="rgb(60,60,60)"/><circle cx="565.3" cy="532.8" r="0.98" fill="rgb(0,0,0)"/><circle cx="629.0" cy="635.8" r="0.57" fill="rgb(90,90,90)"/><circle cx="210.6" cy="637.9" r="0.72" fill="rgb(80,80,80)"/><circle cx="514.0" cy="562.7" r="0.57" fill="rgb(90,90,90)"/><circle cx="342.7" cy="597.3" r="0.94" fill="rgb(20,20,20)"/><circle cx="626.5" cy="587.1" r="0.54" fill="rgb(120,120,120)"/><circle cx="441.1" cy="538.8" r="1.08" fill="rgb(20,20,20)"/><circle cx="532.1" cy="622.3" r="0.68" fill="rgb(40,40,40)"/><circle cx="681.0" cy="515.0" r="1.08" fill="rgb(0,0,0)"/><circle cx="382.7" cy="660.9" r="0.54" fill="rgb(90,90,90)"/><circle cx="392.7" cy="551.6" r="0.54" fill="rgb(120,120,120)"/><circle cx="210.1" cy="619.7" r="0.57" fill="rgb(105,105,105)"/><circle cx="685.6" cy="616.8" r="0.52" fill="rgb(90,90,90)"/><circle cx="604.8" cy="538.3" r="0.62" fill="rgb(80,80,80)"/><circle cx="534.4" cy="536.4" r="0.49" fill="rgb(120,120,120)"/><circle cx="258.9" cy="661.9" r="0.52" fill="rgb(120,120,120)"/><circle cx="427.1" cy="550.7" r="0.52" fill="rgb(120,120,120)"/><circle cx="449.0" cy="646.6" r="0.68" fill="rgb(80,80,80)"/><circle cx="615.5" cy="618.6" r="0.52" fill="rgb(120,120,120)"/><circle cx="593.1" cy="517.7" r="0.53" fill="rgb(90,90,90)"/><circle cx="165.6" cy="648.5" r="0.54" fill="rgb(105,105,105)"/><circle cx="650.9" cy="581.1" r="0.72" fill="rgb(80,80,80)"/><circle cx="466.1" cy="530.1" r="0.70" fill="rgb(60,60,60)"/><circle cx="568.5" cy="497.6" r="0.50" fill="rgb(90,90,90)"/><circle cx="388.2" cy="613.9" r="0.56" fill="rgb(120,120,120)"/><circle cx="660.1" cy="581.0" r="0.67" fill="rgb(60,60,60)"/><circle cx="669.0" cy="634.9" r="0.65" fill="rgb(40,40,40)"/><circle cx="611.8" cy="597.0" r="0.57" fill="rgb(105,105,105)"/><circle cx="407.5" cy="598.9" r="0.96" fill="rgb(0,0,0)"/><circle cx="668.0" cy="610.9" r="0.53" fill="rgb(120,120,120)"/><circle cx="566.6" cy="661.7" r="0.58" fill="rgb(90,90,90)"/><circle cx="602.7" cy="532.0" r="0.75" fill="rgb(60,60,60)"/><circle cx="188.9" cy="588.4" r="0.50" fill="rgb(105,105,105)"/><circle cx="266.6" cy="621.9" r="0.55" fill="rgb(120,120,120)"/><circle cx="480.4" cy="584.3" r="0.51" fill="rgb(105,105,105)"/><circle cx="170.6" cy="601.7" r="1.02" fill="rgb(0,0,0)"/><circle cx="310.0" cy="616.0" r="1.08" fill="rgb(10,10,10)"/><circle cx="637.3" cy="518.7" r="0.49" fill="rgb(120,120,120)"/><circle cx="280.4" cy="576.7" r="0.73" fill="rgb(40,40,40)"/><circle cx="572.9" cy="615.0" r="0.94" fill="rgb(10,10,10)"/><circle cx="531.3" cy="542.0" r="0.49" fill="rgb(120,120,120)"/><circle cx="192.8" cy="613.0" r="0.64" fill="rgb(80,80,80)"/><circle cx="564.5" cy="522.6" r="0.69" fill="rgb(80,80,80)"/><circle cx="398.0" cy="533.2" r="0.68" fill="rgb(80,80,80)"/><circle cx="331.3" cy="661.1" r="0.66" fill="rgb(40,40,40)"/><circle cx="372.5" cy="554.0" r="0.67" fill="rgb(60,60,60)"/><circle cx="254.3" cy="577.3" r="0.48" fill="rgb(90,90,90)"/><circle cx="369.9" cy="622.1" r="0.54" fill="rgb(90,90,90)"/><circle cx="388.4" cy="592.3" r="0.52" fill="rgb(120,120,120)"/><circle cx="536.1" cy="623.2" r="0.57" fill="rgb(90,90,90)"/><circle cx="219.7" cy="621.1" r="0.50" fill="rgb(120,120,120)"/><circle cx="462.5" cy="557.6" r="1.02" fill="rgb(20,20,20)"/><circle cx="235.7" cy="577.9" r="0.50" fill="rgb(90,90,90)"/><circle cx="666.7" cy="624.4" r="0.52" fill="rgb(120,120,120)"/><circle cx="356.9" cy="651.5" r="0.52" fill="rgb(120,120,120)"/><circle cx="551.3" cy="518.5" r="0.50" fill="rgb(120,120,120)"/><circle cx="358.7" cy="625.4" r="0.54" fill="rgb(120,120,120)"/><circle cx="636.6" cy="536.0" r="0.76" fill="rgb(40,40,40)"/><circle cx="157.7" cy="640.1" r="0.55" fill="rgb(105,105,105)"/><circle cx="668.5" cy="536.7" r="0.93" fill="rgb(10,10,10)"/><circle cx="239.4" cy="619.5" r="0.48" fill="rgb(105,105,105)"/><circle cx="685.2" cy="582.2" r="1.02" fill="rgb(20,20,20)"/><circle cx="213.6" cy="617.7" r="0.93" fill="rgb(10,10,10)"/><circle cx="548.5" cy="538.6" r="0.56" fill="rgb(105,105,105)"/><circle cx="300.7" cy="561.9" r="0.55" fill="rgb(105,105,105)"/><circle cx="661.8" cy="623.5" r="1.08" fill="rgb(20,20,20)"/><circle cx="147.1" cy="661.8" r="0.67" fill="rgb(80,80,80)"/><circle cx="552.2" cy="505.8" r="0.57" fill="rgb(105,105,105)"/><circle cx="290.8" cy="634.3" r="0.57" fill="rgb(120,120,120)"/><circle cx="263.1" cy="587.0" r="0.55" fill="rgb(105,105,105)"/><circle cx="290.6" cy="600.3" r="0.49" fill="rgb(105,105,105)"/><circle cx="337.9" cy="646.5" r="0.93" fill="rgb(0,0,0)"/><circle cx="138.1" cy="640.0" r="1.10" fill="rgb(10,10,10)"/><circle cx="549.6" cy="651.8" r="0.73" fill="rgb(80,80,80)"/><circle cx="639.6" cy="652.0" r="0.49" fill="rgb(90,90,90)"/><circle cx="519.5" cy="525.3" r="0.63" fill="rgb(80,80,80)"/><circle cx="264.6" cy="647.6" r="0.49" fill="rgb(105,105,105)"/><circle cx="657.5" cy="505.4" r="0.52" fill="rgb(90,90,90)"/><circle cx="238.5" cy="597.0" r="0.67" fill="rgb(60,60,60)"/><circle cx="447.0" cy="652.7" r="1.03" fill="rgb(20,20,20)"/><circle cx="311.4" cy="654.9" r="1.00" fill="rgb(10,10,10)"/><circle cx="320.6" cy="574.3" r="0.56" fill="rgb(120,120,120)"/><circle cx="538.0" cy="632.1" r="0.75" fill="rgb(80,80,80)"/><circle cx="133.4" cy="633.7" r="1.07" fill="rgb(0,0,0)"/><circle cx="672.9" cy="657.2" r="0.50" fill="rgb(120,120,120)"/><circle cx="583.3" cy="570.7" r="0.67" fill="rgb(60,60,60)"/><circle cx="435.9" cy="654.0" r="0.55" fill="rgb(90,90,90)"/><circle cx="193.3" cy="657.9" r="0.54" fill="rgb(120,120,120)"/><circle cx="485.9" cy="628.1" r="1.07" fill="rgb(0,0,0)"/><circle cx="129.2" cy="626.4" r="0.96" fill="rgb(20,20,20)"/><circle cx="405.6" cy="619.8" r="0.73" fill="rgb(80,80,80)"/><circle cx="208.4" cy="587.7" r="0.50" fill="rgb(120,120,120)"/><circle cx="394.5" cy="574.2" r="0.71" fill="rgb(40,40,40)"/><circle cx="402.8" cy="659.3" r="0.51" fill="rgb(120,120,120)"/><circle cx="667.6" cy="572.3" r="0.54" fill="rgb(120,120,120)"/><circle cx="348.9" cy="579.6" r="0.49" fill="rgb(90,90,90)"/><circle cx="565.3" cy="514.6" r="0.50" fill="rgb(120,120,120)"/><circle cx="424.0" cy="559.3" r="1.05" fill="rgb(20,20,20)"/><circle cx="583.9" cy="588.6" r="0.69" fill="rgb(60,60,60)"/><circle cx="472.0" cy="518.0" r="0.68" fill="rgb(40,40,40)"/><circle cx="537.5" cy="586.8" r="0.54" fill="rgb(105,105,105)"/><circle cx="521.3" cy="520.3" r="0.56" fill="rgb(90,90,90)"/><circle cx="475.0" cy="619.3" r="0.62" fill="rgb(60,60,60)"/><circle cx="653.7" cy="556.5" r="1.10" fill="rgb(10,10,10)"/><circle cx="198.4" cy="594.8" r="0.51" fill="rgb(90,90,90)"/><circle cx="577.0" cy="650.7" r="0.67" fill="rgb(60,60,60)"/><circle cx="447.5" cy="552.0" r="0.94" fill="rgb(20,20,20)"/><circle cx="342.0" cy="620.1" r="0.57" fill="rgb(90,90,90)"/><circle cx="190.0" cy="634.3" r="0.69" fill="rgb(60,60,60)"/><circle cx="565.5" cy="644.6" r="0.71" fill="rgb(40,40,40)"/><circle cx="514.5" cy="595.7" r="0.68" fill="rgb(60,60,60)"/><circle cx="203.9" cy="650.3" r="0.53" fill="rgb(120,120,120)"/><circle cx="610.5" cy="498.5" r="0.68" fill="rgb(80,80,80)"/><circle cx="517.9" cy="544.9" r="1.05" fill="rgb(0,0,0)"/><circle cx="262.2" cy="561.7" r="0.96" fill="rgb(0,0,0)"/><circle cx="420.4" cy="555.7" r="1.07" fill="rgb(0,0,0)"/><circle cx="648.6" cy="539.7" r="1.01" fill="rgb(20,20,20)"/><circle cx="548.1" cy="550.6" r="0.53" fill="rgb(90,90,90)"/><circle cx="206.3" cy="591.4" r="0.49" fill="rgb(120,120,120)"/><circle cx="475.7" cy="543.1" r="0.50" fill="rgb(120,120,120)"/><circle cx="292.9" cy="588.4" r="0.54" fill="rgb(90,90,90)"/><circle cx="579.1" cy="527.7" r="0.64" fill="rgb(80,80,80)"/><circle cx="562.0" cy="517.0" r="0.52" fill="rgb(105,105,105)"/><circle cx="598.3" cy="490.8" r="0.51" fill="rgb(90,90,90)"/><circle cx="400.0" cy="662.1" r="0.91" fill="rgb(20,20,20)"/><circle cx="406.2" cy="554.8" r="0.57" fill="rgb(120,120,120)"/><circle cx="684.1" cy="533.4" r="0.97" fill="rgb(10,10,10)"/><circle cx="442.3" cy="567.3" r="0.97" fill="rgb(20,20,20)"/><circle cx="150.4" cy="657.0" r="0.93" fill="rgb(10,10,10)"/><circle cx="502.9" cy="582.0" r="0.70" fill="rgb(40,40,40)"/><circle cx="359.0" cy="565.4" r="0.56" fill="rgb(120,120,120)"/><circle cx="289.5" cy="624.9" r="1.05" fill="rgb(10,10,10)"/><circle cx="674.3" cy="496.7" r="0.92" fill="rgb(0,0,0)"/><circle cx="287.2" cy="644.0" r="0.50" fill="rgb(105,105,105)"/><circle cx="175.7" cy="643.9" r="0.53" fill="rgb(120,120,120)"/><circle cx="273.2" cy="657.7" r="0.65" fill="rgb(80,80,80)"/><circle cx="443.9" cy="632.0" r="0.64" fill="rgb(40,40,40)"/><circle cx="458.3" cy="587.4" r="1.07" fill="rgb(10,10,10)"/><circle cx="264.7" cy="591.0" r="0.64" fill="rgb(80,80,80)"/><circle cx="169.6" cy="629.4" r="0.96" fill="rgb(10,10,10)"/><circle cx="119.9" cy="645.9" r="0.65" fill="rgb(60,60,60)"/><circle cx="587.3" cy="590.6" r="0.93" fill="rgb(0,0,0)"/><circle cx="344.3" cy="661.1" r="0.58" fill="rgb(120,120,120)"/><circle cx="657.5" cy="565.6" r="1.07" fill="rgb(10,10,10)"/><circle cx="667.7" cy="593.1" r="0.54" fill="rgb(105,105,105)"/><circle cx="645.7" cy="658.2" r="0.51" fill="rgb(90,90,90)"/><circle cx="593.1" cy="583.5" r="0.71" fill="rgb(60,60,60)"/><circle cx="239.8" cy="608.9" r="0.65" fill="rgb(60,60,60)"/><circle cx="628.1" cy="496.6" r="0.55" fill="rgb(105,105,105)"/><circle cx="435.4" cy="611.4" r="0.54" fill="rgb(105,105,105)"/><circle cx="544.0" cy="585.3" r="0.68" fill="rgb(60,60,60)"/><circle cx="534.7" cy="564.7" r="0.75" fill="rgb(60,60,60)"/><circle cx="602.3" cy="625.7" r="0.97" fill="rgb(20,20,20)"/><circle cx="688.8" cy="503.3" r="0.67" fill="rgb(60,60,60)"/><circle cx="299.2" cy="586.5" r="0.98" fill="rgb(0,0,0)"/><circle cx="419.5" cy="569.4" r="1.07" fill="rgb(0,0,0)"/><circle cx="509.2" cy="578.7" r="0.68" fill="rgb(80,80,80)"/><circle cx="450.5" cy="595.6" r="0.95" fill="rgb(20,20,20)"/><circle cx="192.8" cy="599.8" r="0.53" fill="rgb(105,105,105)"/><circle cx="674.9" cy="567.7" r="1.05" fill="rgb(20,20,20)"/><circle cx="439.8" cy="603.4" r="1.09" fill="rgb(0,0,0)"/><circle cx="471.1" cy="660.2" r="0.57" fill="rgb(90,90,90)"/><circle cx="530.8" cy="632.6" r="0.50" fill="rgb(105,105,105)"/><circle cx="527.3" cy="511.1" r="1.07" fill="rgb(0,0,0)"/><circle cx="656.3" cy="651.8" r="0.48" fill="rgb(120,120,120)"/><circle cx="325.0" cy="662.3" r="0.74" fill="rgb(60,60,60)"/><circle cx="176.6" cy="590.6" r="0.69" fill="rgb(80,80,80)"/><circle cx="494.1" cy="622.5" r="0.53" fill="rgb(120,120,120)"/><circle cx="168.8" cy="593.4" r="0.94" fill="rgb(10,10,10)"/><circle cx="549.8" cy="583.9" r="0.90" fill="rgb(0,0,0)"/><circle cx="657.6" cy="655.8" r="0.52" fill="rgb(120,120,120)"/><circle cx="589.1" cy="615.1" r="0.76" fill="rgb(40,40,40)"/><circle cx="532.0" cy="553.9" r="0.53" fill="rgb(90,90,90)"/><circle cx="317.3" cy="551.4" r="0.55" fill="rgb(120,120,120)"/><circle cx="519.4" cy="633.5" r="0.57" fill="rgb(90,90,90)"/><circle cx="668.6" cy="642.3" r="0.49" fill="rgb(105,105,105)"/><circle cx="211.0" cy="629.1" r="0.56" fill="rgb(90,90,90)"/><circle cx="351.3" cy="570.6" r="0.53" fill="rgb(105,105,105)"/><circle cx="620.7" cy="661.7" r="0.48" fill="rgb(120,120,120)"/><circle cx="656.0" cy="638.7" r="0.74" fill="rgb(60,60,60)"/><circle cx="232.3" cy="661.5" r="0.49" fill="rgb(90,90,90)"/><circle cx="498.6" cy="593.4" r="0.71" fill="rgb(80,80,80)"/><circle cx="198.6" cy="589.1" r="0.49" fill="rgb(105,105,105)"/><circle cx="276.0" cy="627.9" r="0.58" fill="rgb(90,90,90)"/><circle cx="126.0" cy="629.3" r="0.73" fill="rgb(40,40,40)"/><circle cx="649.7" cy="573.4" r="0.72" fill="rgb(60,60,60)"/><circle cx="243.7" cy="644.8" r="0.48" fill="rgb(105,105,105)"/><circle cx="155.0" cy="659.0" r="0.66" fill="rgb(60,60,60)"/><circle cx="654.2" cy="599.2" r="0.72" fill="rgb(60,60,60)"/><circle cx="591.1" cy="639.6" r="0.74" fill="rgb(80,80,80)"/><circle cx="513.3" cy="521.8" r="0.68" fill="rgb(40,40,40)"/><circle cx="431.3" cy="526.0" r="0.94" fill="rgb(20,20,20)"/><circle cx="545.7" cy="605.5" r="0.96" fill="rgb(0,0,0)"/><circle cx="486.3" cy="522.3" r="0.94" fill="rgb(10,10,10)"/><circle cx="547.0" cy="580.9" r="0.50" fill="rgb(105,105,105)"/><circle cx="344.3" cy="629.3" r="0.95" fill="rgb(10,10,10)"/><circle cx="505.0" cy="640.5" r="0.67" fill="rgb(60,60,60)"/><circle cx="307.6" cy="583.3" r="0.49" fill="rgb(90,90,90)"/><circle cx="550.5" cy="568.2" r="1.05" fill="rgb(10,10,10)"/><circle cx="562.3" cy="601.6" r="0.53" fill="rgb(105,105,105)"/><circle cx="628.3" cy="538.7" r="0.69" fill="rgb(80,80,80)"/><circle cx="534.2" cy="603.9" r="0.50" fill="rgb(105,105,105)"/><circle cx="319.2" cy="593.4" r="0.99" fill="rgb(0,0,0)"/><circle cx="240.8" cy="629.8" r="0.69" fill="rgb(80,80,80)"/><circle cx="224.7" cy="629.8" r="1.09" fill="rgb(0,0,0)"/><circle cx="633.0" cy="581.1" r="0.54" fill="rgb(90,90,90)"/><circle cx="133.2" cy="596.1" r="0.53" fill="rgb(120,120,120)"/><circle cx="462.7" cy="520.6" r="0.63" fill="rgb(60,60,60)"/><circle cx="557.8" cy="642.8" r="0.48" fill="rgb(120,120,120)"/><circle cx="274.8" cy="600.2" r="0.72" fill="rgb(80,80,80)"/><circle cx="253.6" cy="569.8" r="0.53" fill="rgb(120,120,120)"/><circle cx="463.4" cy="548.6" r="0.48" fill="rgb(120,120,120)"/><circle cx="253.8" cy="585.1" r="0.50" fill="rgb(90,90,90)"/><circle cx="644.3" cy="618.7" r="1.02" fill="rgb(20,20,20)"/><circle cx="572.9" cy="559.2" r="0.52" fill="rgb(90,90,90)"/><circle cx="486.3" cy="612.1" r="0.49" fill="rgb(90,90,90)"/><circle cx="611.6" cy="564.7" r="0.65" fill="rgb(40,40,40)"/><circle cx="545.9" cy="617.1" r="0.58" fill="rgb(90,90,90)"/><circle cx="429.1" cy="565.2" r="0.51" fill="rgb(120,120,120)"/><circle cx="219.9" cy="597.5" r="0.49" fill="rgb(120,120,120)"/><circle cx="413.1" cy="562.2" r="0.56" fill="rgb(120,120,120)"/><circle cx="489.3" cy="535.0" r="0.55" fill="rgb(105,105,105)"/><circle cx="674.7" cy="635.7" r="1.02" fill="rgb(10,10,10)"/><circle cx="660.7" cy="534.4" r="0.57" fill="rgb(90,90,90)"/><circle cx="351.4" cy="616.7" r="0.56" fill="rgb(105,105,105)"/><circle cx="518.0" cy="615.9" r="0.71" fill="rgb(40,40,40)"/><circle cx="156.9" cy="616.6" r="0.51" fill="rgb(120,120,120)"/><circle cx="490.2" cy="548.8" r="0.74" fill="rgb(60,60,60)"/><circle cx="411.9" cy="645.7" r="0.65" fill="rgb(40,40,40)"/><circle cx="321.0" cy="582.8" r="0.57" fill="rgb(120,120,120)"/><circle cx="441.8" cy="583.1" r="0.49" fill="rgb(105,105,105)"/><circle cx="560.7" cy="503.7" r="0.98" fill="rgb(20,20,20)"/><circle cx="647.1" cy="490.9" r="0.64" fill="rgb(40,40,40)"/><circle cx="377.2" cy="627.3" r="1.01" fill="rgb(10,10,10)"/><circle cx="131.3" cy="608.6" r="0.57" fill="rgb(120,120,120)"/><circle cx="594.6" cy="579.4" r="0.75" fill="rgb(40,40,40)"/><circle cx="684.9" cy="636.9" r="0.48" fill="rgb(90,90,90)"/><circle cx="350.6" cy="591.7" r="0.49" fill="rgb(120,120,120)"/><circle cx="654.4" cy="502.9" r="0.56" fill="rgb(90,90,90)"/><circle cx="195.9" cy="661.2" r="0.56" fill="rgb(90,90,90)"/><circle cx="525.9" cy="592.5" r="0.67" fill="rgb(60,60,60)"/><circle cx="172.6" cy="608.6" r="0.53" fill="rgb(105,105,105)"/><circle cx="629.4" cy="547.7" r="0.49" fill="rgb(90,90,90)"/><circle cx="141.1" cy="643.1" r="0.64" fill="rgb(40,40,40)"/><circle cx="609.1" cy="578.4" r="0.92" fill="rgb(10,10,10)"/><circle cx="626.9" cy="604.4" r="0.50" fill="rgb(105,105,105)"/><circle cx="315.7" cy="590.1" r="1.05" fill="rgb(10,10,10)"/><circle cx="668.3" cy="558.5" r="0.95" fill="rgb(0,0,0)"/><circle cx="543.5" cy="651.5" r="0.58" fill="rgb(120,120,120)"/><circle cx="672.7" cy="517.2" r="0.54" fill="rgb(120,120,120)"/><circle cx="611.8" cy="522.4" r="0.55" fill="rgb(120,120,120)"/><circle cx="416.5" cy="601.1" r="0.73" fill="rgb(60,60,60)"/><circle cx="602.9" cy="550.7" r="0.51" fill="rgb(120,120,120)"/><circle cx="455.1" cy="622.4" r="0.67" fill="rgb(40,40,40)"/><circle cx="689.2" cy="589.0" r="0.64" fill="rgb(60,60,60)"/><circle cx="439.4" cy="633.0" r="0.53" fill="rgb(90,90,90)"/><circle cx="286.0" cy="570.8" r="0.54" fill="rgb(120,120,120)"/><circle cx="326.8" cy="635.9" r="0.57" fill="rgb(120,120,120)"/><circle cx="686.5" cy="552.9" r="0.52" fill="rgb(120,120,120)"/><circle cx="481.4" cy="592.7" r="0.69" fill="rgb(60,60,60)"/><circle cx="414.9" cy="538.1" r="1.06" fill="rgb(0,0,0)"/><circle cx="281.9" cy="617.1" r="0.67" fill="rgb(40,40,40)"/><circle cx="507.2" cy="610.7" r="0.53" fill="rgb(90,90,90)"/><circle cx="605.9" cy="501.5" r="0.49" fill="rgb(90,90,90)"/><circle cx="562.8" cy="509.2" r="0.65" fill="rgb(80,80,80)"/><circle cx="456.9" cy="635.6" r="0.97" fill="rgb(10,10,10)"/><circle cx="218.3" cy="661.3" r="0.92" fill="rgb(10,10,10)"/><circle cx="357.0" cy="656.3" r="0.64" fill="rgb(80,80,80)"/><circle cx="689.0" cy="571.2" r="0.57" fill="rgb(90,90,90)"/><circle cx="236.1" cy="644.6" r="0.64" fill="rgb(40,40,40)"/><circle cx="556.6" cy="652.0" r="1.08" fill="rgb(10,10,10)"/><circle cx="245.1" cy="601.4" r="0.57" fill="rgb(120,120,120)"/><circle cx="325.3" cy="654.2" r="1.00" fill="rgb(0,0,0)"/><circle cx="642.6" cy="629.5" r="0.64" fill="rgb(60,60,60)"/><circle cx="525.6" cy="660.8" r="0.76" fill="rgb(60,60,60)"/><circle cx="528.4" cy="589.5" r="0.93" fill="rgb(10,10,10)"/><circle cx="338.5" cy="608.3" r="0.57" fill="rgb(120,120,120)"/><circle cx="677.6" cy="626.1" r="0.97" fill="rgb(0,0,0)"/><circle cx="251.7" cy="657.5" r="0.67" fill="rgb(80,80,80)"/><circle cx="342.9" cy="592.8" r="0.54" fill="rgb(120,120,120)"/><circle cx="543.1" cy="518.6" r="0.73" fill="rgb(60,60,60)"/><circle cx="354.4" cy="549.5" r="0.74" fill="rgb(40,40,40)"/><circle cx="420.4" cy="547.2" r="0.54" fill="rgb(120,120,120)"/><circle cx="649.2" cy="601.1" r="0.55" fill="rgb(90,90,90)"/><circle cx="192.6" cy="589.9" r="1.06" fill="rgb(0,0,0)"/><circle cx="622.4" cy="568.4" r="0.53" fill="rgb(105,105,105)"/><circle cx="353.7" cy="627.6" r="0.63" fill="rgb(60,60,60)"/><circle cx="456.1" cy="649.8" r="0.75" fill="rgb(80,80,80)"/><circle cx="213.0" cy="646.3" r="0.54" fill="rgb(120,120,120)"/><circle cx="195.2" cy="630.7" r="0.52" fill="rgb(120,120,120)"/><circle cx="630.4" cy="485.0" r="0.50" fill="rgb(90,90,90)"/><circle cx="185.2" cy="625.8" r="0.68" fill="rgb(80,80,80)"/><circle cx="332.5" cy="547.5" r="0.98" fill="rgb(20,20,20)"/><circle cx="446.7" cy="568.2" r="0.58" fill="rgb(120,120,120)"/><circle cx="623.9" cy="532.5" r="0.57" fill="rgb(120,120,120)"/><circle cx="211.7" cy="608.1" r="1.01" fill="rgb(20,20,20)"/><circle cx="451.5" cy="603.7" r="0.52" fill="rgb(120,120,120)"/><circle cx="344.4" cy="651.8" r="0.58" fill="rgb(105,105,105)"/><circle cx="484.1" cy="598.5" r="0.50" fill="rgb(90,90,90)"/><circle cx="120.3" cy="600.4" r="0.53" fill="rgb(120,120,120)"/><circle cx="510.0" cy="568.8" r="0.65" fill="rgb(80,80,80)"/><circle cx="211.8" cy="585.4" r="0.50" fill="rgb(105,105,105)"/><circle cx="250.7" cy="600.3" r="0.72" fill="rgb(60,60,60)"/><circle cx="573.6" cy="566.1" r="0.97" fill="rgb(10,10,10)"/><circle cx="494.4" cy="581.1" r="0.52" fill="rgb(90,90,90)"/><circle cx="581.9" cy="641.3" r="0.56" fill="rgb(120,120,120)"/><circle cx="403.5" cy="653.1" r="0.50" fill="rgb(90,90,90)"/><circle cx="594.4" cy="527.2" r="0.53" fill="rgb(105,105,105)"/><circle cx="456.2" cy="570.7" r="0.53" fill="rgb(90,90,90)"/><circle cx="548.8" cy="560.3" r="1.00" fill="rgb(0,0,0)"/><circle cx="497.9" cy="544.7" r="1.06" fill="rgb(0,0,0)"/><circle cx="279.1" cy="637.6" r="0.68" fill="rgb(80,80,80)"/><circle cx="474.8" cy="549.8" r="0.70" fill="rgb(40,40,40)"/><circle cx="604.9" cy="634.0" r="0.63" fill="rgb(80,80,80)"/><circle cx="285.6" cy="648.3" r="0.98" fill="rgb(20,20,20)"/><circle cx="636.7" cy="531.9" r="0.52" fill="rgb(105,105,105)"/><circle cx="532.1" cy="644.6" r="0.52" fill="rgb(105,105,105)"/><circle cx="616.5" cy="662.2" r="1.10" fill="rgb(10,10,10)"/><circle cx="266.4" cy="658.6" r="0.57" fill="rgb(90,90,90)"/><circle cx="645.3" cy="500.1" r="0.64" fill="rgb(60,60,60)"/><circle cx="394.6" cy="547.0" r="0.93" fill="rgb(10,10,10)"/><circle cx="264.7" cy="662.4" r="0.75" fill="rgb(40,40,40)"/><circle cx="672.0" cy="544.4" r="1.05" fill="rgb(10,10,10)"/><circle cx="539.5" cy="577.4" r="0.51" fill="rgb(105,105,105)"/><circle cx="433.5" cy="646.9" r="0.51" fill="rgb(120,120,120)"/><circle cx="483.3" cy="636.5" r="0.68" fill="rgb(80,80,80)"/><circle cx="473.8" cy="646.5" r="0.56" fill="rgb(105,105,105)"/><circle cx="600.8" cy="507.9" r="1.08" fill="rgb(20,20,20)"/><circle cx="210.3" cy="625.0" r="0.58" fill="rgb(90,90,90)"/><circle cx="405.6" cy="582.0" r="1.00" fill="rgb(0,0,0)"/><circle cx="594.5" cy="587.6" r="0.98" fill="rgb(10,10,10)"/><circle cx="230.9" cy="621.7" r="1.09" fill="rgb(20,20,20)"/><circle cx="634.2" cy="515.5" r="0.98" fill="rgb(20,20,20)"/><circle cx="477.6" cy="627.9" r="0.91" fill="rgb(20,20,20)"/><circle cx="634.6" cy="508.5" r="0.70" fill="rgb(80,80,80)"/><circle cx="380.5" cy="569.4" r="0.63" fill="rgb(40,40,40)"/><circle cx="594.7" cy="492.9" r="0.73" fill="rgb(80,80,80)"/><circle cx="432.6" cy="547.8" r="0.50" fill="rgb(120,120,120)"/><circle cx="427.1" cy="644.0" r="0.57" fill="rgb(120,120,120)"/><circle cx="213.7" cy="593.3" r="0.51" fill="rgb(120,120,120)"/><circle cx="466.9" cy="518.4" r="0.51" fill="rgb(105,105,105)"/><circle cx="367.6" cy="654.3" r="0.50" fill="rgb(120,120,120)"/><circle cx="479.1" cy="517.3" r="0.51" fill="rgb(120,120,120)"/><circle cx="475.5" cy="640.4" r="0.74" fill="rgb(80,80,80)"/><circle cx="252.0" cy="615.0" r="0.93" fill="rgb(20,20,20)"/><circle cx="682.6" cy="500.8" r="0.63" fill="rgb(40,40,40)"/><circle cx="396.0" cy="626.7" r="0.53" fill="rgb(90,90,90)"/><circle cx="306.7" cy="558.9" r="0.49" fill="rgb(90,90,90)"/><circle cx="209.2" cy="573.0" r="0.58" fill="rgb(90,90,90)"/><circle cx="665.8" cy="632.4" r="0.56" fill="rgb(105,105,105)"/><circle cx="237.9" cy="626.8" r="0.75" fill="rgb(60,60,60)"/><circle cx="566.0" cy="624.6" r="1.09" fill="rgb(10,10,10)"/><circle cx="672.5" cy="481.8" r="0.50" fill="rgb(90,90,90)"/><circle cx="243.9" cy="610.5" r="1.06" fill="rgb(20,20,20)"/><circle cx="397.1" cy="605.7" r="0.55" fill="rgb(120,120,120)"/><circle cx="677.8" cy="598.8" r="0.53" fill="rgb(120,120,120)"/><circle cx="416.2" cy="576.4" r="0.76" fill="rgb(80,80,80)"/><circle cx="602.4" cy="614.4" r="1.08" fill="rgb(20,20,20)"/><circle cx="514.8" cy="542.2" r="0.94" fill="rgb(10,10,10)"/><circle cx="496.2" cy="650.0" r="0.55" fill="rgb(105,105,105)"/><circle cx="391.5" cy="641.2" r="0.49" fill="rgb(120,120,120)"/><circle cx="421.6" cy="637.8" r="0.67" fill="rgb(60,60,60)"/><circle cx="526.1" cy="606.1" r="0.57" fill="rgb(105,105,105)"/><circle cx="365.7" cy="587.4" r="0.49" fill="rgb(90,90,90)"/><circle cx="204.6" cy="580.7" r="0.90" fill="rgb(20,20,20)"/><circle cx="505.8" cy="558.4" r="0.52" fill="rgb(90,90,90)"/><circle cx="174.5" cy="594.8" r="0.57" fill="rgb(105,105,105)"/><circle cx="585.8" cy="574.5" r="0.56" fill="rgb(105,105,105)"/><circle cx="137.7" cy="588.9" r="0.66" fill="rgb(60,60,60)"/><circle cx="636.9" cy="592.3" r="0.56" fill="rgb(90,90,90)"/><circle cx="569.2" cy="591.6" r="0.73" fill="rgb(60,60,60)"/><circle cx="401.0" cy="628.3" r="0.50" fill="rgb(120,120,120)"/><circle cx="313.3" cy="622.0" r="0.51" fill="rgb(90,90,90)"/><circle cx="328.6" cy="567.0" r="0.68" fill="rgb(40,40,40)"/><circle cx="380.6" cy="549.4" r="0.56" fill="rgb(90,90,90)"/><circle cx="415.7" cy="628.3" r="0.65" fill="rgb(80,80,80)"/><circle cx="145.4" cy="649.7" r="0.52" fill="rgb(120,120,120)"/><circle cx="471.9" cy="553.7" r="0.54" fill="rgb(90,90,90)"/><circle cx="413.2" cy="579.6" r="0.58" fill="rgb(90,90,90)"/><circle cx="614.3" cy="658.1" r="0.70" fill="rgb(40,40,40)"/><circle cx="376.7" cy="640.3" r="0.52" fill="rgb(105,105,105)"/><circle cx="597.6" cy="516.6" r="0.57" fill="rgb(120,120,120)"/><circle cx="583.1" cy="513.7" r="0.72" fill="rgb(80,80,80)"/><circle cx="410.2" cy="656.1" r="0.70" fill="rgb(80,80,80)"/><circle cx="582.5" cy="558.3" r="0.54" fill="rgb(90,90,90)"/><circle cx="587.3" cy="500.2" r="0.55" fill="rgb(120,120,120)"/><circle cx="127.0" cy="656.8" r="0.51" fill="rgb(105,105,105)"/><circle cx="490.1" cy="641.5" r="0.69" fill="rgb(40,40,40)"/><circle cx="584.8" cy="539.5" r="0.66" fill="rgb(80,80,80)"/><circle cx="574.0" cy="600.6" r="0.57" fill="rgb(90,90,90)"/><circle cx="413.7" cy="596.9" r="0.48" fill="rgb(120,120,120)"/><circle cx="611.6" cy="550.0" r="0.99" fill="rgb(10,10,10)"/><circle cx="624.8" cy="580.9" r="0.51" fill="rgb(105,105,105)"/><circle cx="541.8" cy="544.2" r="0.65" fill="rgb(80,80,80)"/><circle cx="657.8" cy="496.3" r="0.50" fill="rgb(120,120,120)"/><circle cx="565.2" cy="505.3" r="0.68" fill="rgb(60,60,60)"/><circle cx="248.0" cy="654.6" r="0.71" fill="rgb(60,60,60)"/><circle cx="552.4" cy="562.5" r="0.57" fill="rgb(105,105,105)"/><circle cx="426.4" cy="627.9" r="0.58" fill="rgb(105,105,105)"/><circle cx="681.6" cy="654.0" r="0.62" fill="rgb(60,60,60)"/><circle cx="625.2" cy="563.6" r="1.05" fill="rgb(0,0,0)"/><circle cx="689.1" cy="657.8" r="0.99" fill="rgb(20,20,20)"/><circle cx="482.2" cy="632.1" r="0.67" fill="rgb(80,80,80)"/><circle cx="182.3" cy="614.2" r="0.72" fill="rgb(40,40,40)"/><circle cx="123.8" cy="612.6" r="0.71" fill="rgb(60,60,60)"/><circle cx="640.2" cy="645.0" r="1.02" fill="rgb(10,10,10)"/><circle cx="276.1" cy="569.4" r="0.66" fill="rgb(60,60,60)"/><circle cx="248.5" cy="633.3" r="0.67" fill="rgb(80,80,80)"/><circle cx="385.4" cy="618.7" r="0.70" fill="rgb(60,60,60)"/><circle cx="620.1" cy="608.2" r="0.51" fill="rgb(120,120,120)"/><circle cx="320.8" cy="607.4" r="0.49" fill="rgb(120,120,120)"/><circle cx="363.2" cy="603.8" r="0.66" fill="rgb(40,40,40)"/><circle cx="457.4" cy="639.5" r="0.94" fill="rgb(20,20,20)"/><circle cx="637.0" cy="540.2" r="0.51" fill="rgb(90,90,90)"/><circle cx="348.8" cy="556.5" r="0.53" fill="rgb(105,105,105)"/><circle cx="557.6" cy="582.3" r="0.54" fill="rgb(105,105,105)"/><circle cx="632.6" cy="618.5" r="0.51" fill="rgb(105,105,105)"/><circle cx="560.6" cy="543.5" r="0.54" fill="rgb(105,105,105)"/><circle cx="601.6" cy="660.9" r="0.91" fill="rgb(20,20,20)"/><circle cx="320.6" cy="642.1" r="0.66" fill="rgb(60,60,60)"/><circle cx="511.4" cy="637.8" r="1.07" fill="rgb(0,0,0)"/><circle cx="345.6" cy="633.7" r="0.50" fill="rgb(105,105,105)"/><circle cx="659.3" cy="648.7" r="0.63" fill="rgb(80,80,80)"/><circle cx="320.1" cy="568.6" r="0.53" fill="rgb(90,90,90)"/><circle cx="132.3" cy="646.3" r="0.52" fill="rgb(105,105,105)"/><circle cx="541.1" cy="608.3" r="0.74" fill="rgb(60,60,60)"/><circle cx="230.5" cy="630.8" r="0.54" fill="rgb(120,120,120)"/><circle cx="552.0" cy="589.1" r="0.66" fill="rgb(40,40,40)"/><circle cx="454.0" cy="657.8" r="0.62" fill="rgb(40,40,40)"/><circle cx="633.8" cy="559.1" r="0.54" fill="rgb(90,90,90)"/><circle cx="119.0" cy="605.2" r="0.91" fill="rgb(0,0,0)"/><circle cx="410.3" cy="615.7" r="0.95" fill="rgb(10,10,10)"/><circle cx="443.4" cy="605.5" r="0.49" fill="rgb(120,120,120)"/><circle cx="459.1" cy="655.4" r="1.08" fill="rgb(0,0,0)"/><circle cx="362.6" cy="625.6" r="0.55" fill="rgb(90,90,90)"/><circle cx="234.5" cy="603.3" r="0.67" fill="rgb(40,40,40)"/><circle cx="439.7" cy="560.7" r="0.50" fill="rgb(105,105,105)"/><circle cx="560.5" cy="565.5" r="0.53" fill="rgb(90,90,90)"/><circle cx="663.9" cy="479.4" r="0.98" fill="rgb(0,0,0)"/><circle cx="335.1" cy="641.9" r="0.55" fill="rgb(90,90,90)"/><circle cx="588.9" cy="548.5" r="0.64" fill="rgb(40,40,40)"/><circle cx="397.4" cy="647.3" r="0.66" fill="rgb(60,60,60)"/><circle cx="624.8" cy="555.0" r="1.07" fill="rgb(10,10,10)"/><circle cx="688.1" cy="533.3" r="0.76" fill="rgb(80,80,80)"/><circle cx="537.7" cy="510.2" r="0.73" fill="rgb(60,60,60)"/><circle cx="432.1" cy="596.4" r="0.50" fill="rgb(90,90,90)"/><circle cx="633.0" cy="599.6" r="0.52" fill="rgb(90,90,90)"/><circle cx="470.8" cy="605.5" r="0.50" fill="rgb(120,120,120)"/><circle cx="221.5" cy="640.2" r="0.50" fill="rgb(90,90,90)"/><circle cx="617.7" cy="585.3" r="0.66" fill="rgb(60,60,60)"/><circle cx="635.5" cy="657.8" r="0.56" fill="rgb(105,105,105)"/><circle cx="473.3" cy="611.8" r="0.50" fill="rgb(90,90,90)"/><circle cx="127.4" cy="602.8" r="0.65" fill="rgb(80,80,80)"/><circle cx="179.4" cy="654.4" r="0.54" fill="rgb(90,90,90)"/><circle cx="380.4" cy="594.6" r="0.98" fill="rgb(20,20,20)"/><circle cx="409.4" cy="572.3" r="0.52" fill="rgb(90,90,90)"/><circle cx="567.7" cy="657.6" r="0.63" fill="rgb(40,40,40)"/><circle cx="322.8" cy="637.1" r="0.58" fill="rgb(90,90,90)"/><circle cx="500.4" cy="563.5" r="0.57" fill="rgb(90,90,90)"/><circle cx="303.4" cy="662.2" r="0.54" fill="rgb(105,105,105)"/><circle cx="644.2" cy="611.1" r="0.65" fill="rgb(60,60,60)"/><circle cx="681.7" cy="559.1" r="0.49" fill="rgb(120,120,120)"/><circle cx="617.9" cy="640.6" r="0.66" fill="rgb(40,40,40)"/><circle cx="554.6" cy="511.5" r="0.70" fill="rgb(40,40,40)"/><circle cx="689.3" cy="613.1" r="0.66" fill="rgb(40,40,40)"/><circle cx="273.2" cy="587.4" r="0.72" fill="rgb(80,80,80)"/><circle cx="538.8" cy="526.1" r="0.51" fill="rgb(105,105,105)"/><circle cx="398.5" cy="537.6" r="0.98" fill="rgb(0,0,0)"/><circle cx="494.3" cy="513.1" r="0.50" fill="rgb(120,120,120)"/><circle cx="615.9" cy="526.7" r="0.52" fill="rgb(120,120,120)"/><circle cx="626.9" cy="510.0" r="0.71" fill="rgb(40,40,40)"/><circle cx="658.1" cy="634.7" r="1.02" fill="rgb(20,20,20)"/><circle cx="119.0" cy="633.6" r="0.50" fill="rgb(105,105,105)"/><circle cx="609.5" cy="587.3" r="0.93" fill="rgb(20,20,20)"/><circle cx="459.6" cy="651.6" r="0.57" fill="rgb(105,105,105)"/><circle cx="641.2" cy="582.8" r="0.57" fill="rgb(120,120,120)"/><circle cx="675.6" cy="652.0" r="0.54" fill="rgb(90,90,90)"/><circle cx="614.7" cy="588.8" r="0.51" fill="rgb(105,105,105)"/></g>
<polygon points="117.80,209.90 690.40,122.60 690.40,470.00 641.40,480.50 194.40,575.00 118.00,591.90" fill="#dbdbdb" stroke="#9c9c9c" stroke-width="1.1"/>
<polygon points="194.30,357.20 444.60,321.00 640.90,354.20 641.40,559.50 390.80,640.80 194.40,575.00" fill="#fff"/>
<polygon points="226.00,569.60 391.30,623.70 589.00,563.00 420.70,528.60" fill="#c6c6c6"/>
<polygon points="224.20,543.00 420.70,504.50 420.70,528.80 224.20,569.00" fill="#c9c9c9"/>
<path d="M194.30,357.20 L444.60,321.00 L640.90,354.20 L390.90,421.40 Z M217.50,358.00 L444.60,325.30 L617.70,354.70 L391.80,412.30 Z" fill="#ededed" fill-rule="evenodd"/>
<line x1="444.60" y1="321.00" x2="444.80" y2="522.80" stroke="#2a2a2a" stroke-width="1.0"/>
<polyline points="194.40,575.00 444.80,522.80 641.40,559.50" stroke="#1c1c1c" stroke-width="1.1" fill="none" stroke-linecap="round" stroke-linejoin="round"/>
<line x1="641.4" y1="559.5" x2="685" y2="568.2" stroke="#000" stroke-width="1.4"/>
<line x1="129.4" y1="589.75" x2="194.4" y2="575" stroke="#000" stroke-width="1.5"/>
<polyline points="194.40,575.00 390.80,640.80 641.40,559.50" stroke="#1c1c1c" stroke-width="1.1" fill="none" stroke-linecap="round" stroke-linejoin="round"/>
<polygon points="194.30,357.20 444.60,321.00 640.90,354.20 390.90,421.40" stroke="#1c1c1c" stroke-width="1.1" fill="none" stroke-linecap="round" stroke-linejoin="round"/>
<polygon points="217.50,358.00 444.60,325.30 617.70,354.70 391.80,412.30" stroke="#1c1c1c" stroke-width="1.1" fill="none" stroke-linecap="round" stroke-linejoin="round"/>
<polyline points="246.00,366.30 444.60,338.30 590.30,361.80" stroke="#1c1c1c" stroke-width="1.1" fill="none" stroke-linecap="round" stroke-linejoin="round"/>
<line x1="194.30" y1="357.20" x2="194.40" y2="575.00" stroke="#333" stroke-width="0.9"/>
<line x1="641.20" y1="354.20" x2="641.40" y2="559.50" stroke="#333" stroke-width="0.9"/>
<line x1="390.90" y1="421.40" x2="390.80" y2="640.80" stroke="#858585" stroke-width="1.4"/>
<line x1="175" y1="432.6" x2="386.2" y2="395.6" stroke="#1c1c1c" stroke-width="1.1" fill="none" stroke-linecap="round" stroke-linejoin="round"/>
<line x1="226.8" y1="213.8" x2="226.8" y2="424" stroke="#1c1c1c" stroke-width="1.2"/>
<line x1="250.8" y1="247.5" x2="250.8" y2="420" stroke="#1c1c1c" stroke-width="1.2"/>
<circle cx="226.8" cy="424.3" r="4.5" fill="#7e7e7e" stroke="#3a3a3a" stroke-width="1"/>
<circle cx="250.8" cy="420.0" r="4.5" fill="#7e7e7e" stroke="#3a3a3a" stroke-width="1"/>
<line x1="444.5" y1="183" x2="444.5" y2="321" stroke="#1c1c1c" stroke-width="1.2" stroke-dasharray="7.4 3.6" stroke-dashoffset="4"/>
<polygon points="444.99,201.89 434.60,206.65 434.67,203.51 433.64,200.53" fill="#000"/><polygon points="227.31,235.91 238.66,237.27 237.63,234.29 237.70,231.15" fill="#000"/><line x1="234.92" y1="234.72" x2="437.38" y2="203.08" stroke="#000" stroke-width="1.35"/>
<polygon points="444.69,240.40 434.22,244.99 434.34,241.84 433.37,238.84" fill="#000"/><polygon points="252.31,267.10 263.63,268.66 262.66,265.66 262.78,262.51" fill="#000"/><line x1="259.93" y1="266.04" x2="437.07" y2="241.46" stroke="#000" stroke-width="1.35"/>
<line x1="403.4" y1="278" x2="403.4" y2="371" stroke="#1c1c1c" stroke-width="1.2"/>
<polygon points="444.79,288.72 434.96,293.30 434.98,290.55 433.97,287.99" fill="#000"/><polygon points="403.16,296.48 413.98,297.21 412.97,294.65 412.99,291.90" fill="#000"/><line x1="410.39" y1="295.13" x2="437.56" y2="290.07" stroke="#000" stroke-width="1.35"/>
<polygon points="182.10,432.10 186.80,446.90 182.10,446.16 177.40,446.90" fill="#000"/><line x1="182.10" y1="484.20" x2="182.10" y2="442.46" stroke="#000" stroke-width="1.35"/>
<polygon points="182.10,577.70 177.40,562.90 182.10,563.64 186.80,562.90" fill="#000"/><line x1="182.10" y1="525.40" x2="182.10" y2="567.34" stroke="#000" stroke-width="1.35"/>
<line x1="288" y1="530.5" x2="345" y2="519.5" stroke="#1c1c1c" stroke-width="1.1" fill="none" stroke-linecap="round" stroke-linejoin="round"/>
<polygon points="338.80,546.90 336.70,540.40 338.80,540.73 340.90,540.40" fill="#000"/><polygon points="338.80,520.70 336.70,527.20 338.80,526.87 340.90,527.20" fill="#000"/><line x1="338.80" y1="525.25" x2="338.80" y2="542.35" stroke="#000" stroke-width="1.00"/>
<polygon points="213.76,611.64 202.87,610.79 204.41,608.16 204.96,605.17" fill="#000"/><polygon points="145.59,586.26 154.39,592.73 154.94,589.74 156.48,587.11" fill="#000"/><line x1="152.48" y1="588.82" x2="206.87" y2="609.08" stroke="#000" stroke-width="1.50"/>
<ellipse cx="346.4" cy="584.1" rx="35.2" ry="12.8" fill="#6a6a6a"/>
<ellipse cx="345.9" cy="583.3" rx="13.0" ry="4.7" fill="#fff" stroke="#4a4a4a" stroke-width="0.6"/>
<polyline points="198.8,613.8 345,583.4 523.5,627" stroke="#0a0a0a" stroke-width="1.45" fill="none" stroke-linejoin="miter"/>
<polygon points="670.66,565.76 661.79,572.13 661.27,569.13 659.76,566.48" fill="#000"/><polygon points="508.84,623.74 519.74,623.02 518.23,620.37 517.71,617.37" fill="#000"/><line x1="515.76" y1="621.26" x2="663.74" y2="568.24" stroke="#000" stroke-width="1.50"/>
<polygon points="386.2,372.2 420.2,368.0 421.2,401.3 386.2,406.9" fill="#999" stroke="#1a1a1a" stroke-width="1.1" stroke-linejoin="round"/>
<circle cx="403.9" cy="387.6" r="12.6" fill="#fff" stroke="#111" stroke-width="1.3"/>
<path d="M401.9,373.6 L401.9,378.3 A1.55,1.55 0 0 0 405,378.3 L405,373.6" fill="#999" stroke="#111" stroke-width="1.1"/>
<path d="M402.1,401.6 L402.1,396.6 A1.55,1.55 0 0 1 405.2,396.6 L405.2,401.6" fill="#999" stroke="#111" stroke-width="1.1"/>
<rect x="401.2" y="372.9" width="4.6" height="1.5" fill="#999"/><rect x="401.4" y="400.8" width="4.6" height="1.5" fill="#999"/>
<circle cx="398.3" cy="388.4" r="2.4" fill="#0a0a0a"/><circle cx="409.3" cy="387.9" r="2.4" fill="#0a0a0a"/>
<circle cx="223.7" cy="451.6" r="18.1" fill="#000"/><text fill="#fff"><tspan x="209.85" y="461.36" font-size="28.0">*</tspan><tspan x="221.20" y="460.60" font-size="24.6" textLength="14.41" lengthAdjust="spacingAndGlyphs">2</tspan></text>
<circle cx="266.9" cy="442.7" r="18.1" fill="#000"/><text fill="#fff"><tspan x="254.65" y="452.86" font-size="28.0">*</tspan><tspan x="265.09" y="452.50" font-size="26.6" textLength="15.80" lengthAdjust="spacingAndGlyphs">1</tspan></text>
<circle cx="437.2" cy="375.1" r="18.1" fill="#000"/><text fill="#fff"><tspan x="423.30" y="385.46" font-size="28.0">*</tspan><tspan x="435.14" y="384.70" font-size="26.5" textLength="13.37" lengthAdjust="spacingAndGlyphs">5</tspan></text>
<circle cx="370.2" cy="519.6" r="18.1" fill="#000"/><text fill="#fff"><tspan x="356.75" y="529.86" font-size="28.0">*</tspan><tspan x="367.91" y="529.20" font-size="26.9" textLength="14.43" lengthAdjust="spacingAndGlyphs">3</tspan></text>
<circle cx="381.9" cy="568.2" r="18.1" fill="#000"/><text fill="#fff"><tspan x="368.45" y="578.66" font-size="28.0">*</tspan><tspan x="379.50" y="578.00" font-size="26.9" textLength="14.57" lengthAdjust="spacingAndGlyphs">4</tspan></text>
<text x="347.70" y="214.60" font-size="15.4" fill="#111" textLength="40.69" lengthAdjust="spacingAndGlyphs" transform="rotate(-8.0 348.40 214.60)">90 cm</text>
<text x="353.26" y="250.20" font-size="15.4" fill="#111" textLength="40.01" lengthAdjust="spacingAndGlyphs" transform="rotate(-7.4 353.90 250.20)">84 cm</text>
<text x="404.93" y="291.40" font-size="15.0" fill="#111" textLength="40.86" lengthAdjust="spacingAndGlyphs" transform="rotate(-10.8 405.50 291.40)">30 cm</text>
<text x="131.39" y="508.50" font-size="15.2" fill="#111" textLength="63.10" lengthAdjust="spacingAndGlyphs">50-70 cm</text>
<text x="287.92" y="544.00" font-size="14.6" fill="#111" textLength="45.57" lengthAdjust="spacingAndGlyphs">0-6 cm</text>
<text x="146.14" y="611.25" font-size="14.9" fill="#111" textLength="41.16" lengthAdjust="spacingAndGlyphs">27 cm</text>
<text x="589.33" y="607.90" font-size="15.3" fill="#111" textLength="40.75" lengthAdjust="spacingAndGlyphs">70 cm</text>
<text x="728.32" y="709.30" font-size="21.9" fill="#e8141c" textLength="23.65" lengthAdjust="spacingAndGlyphs">S2</text>
</svg>
</body></html>
